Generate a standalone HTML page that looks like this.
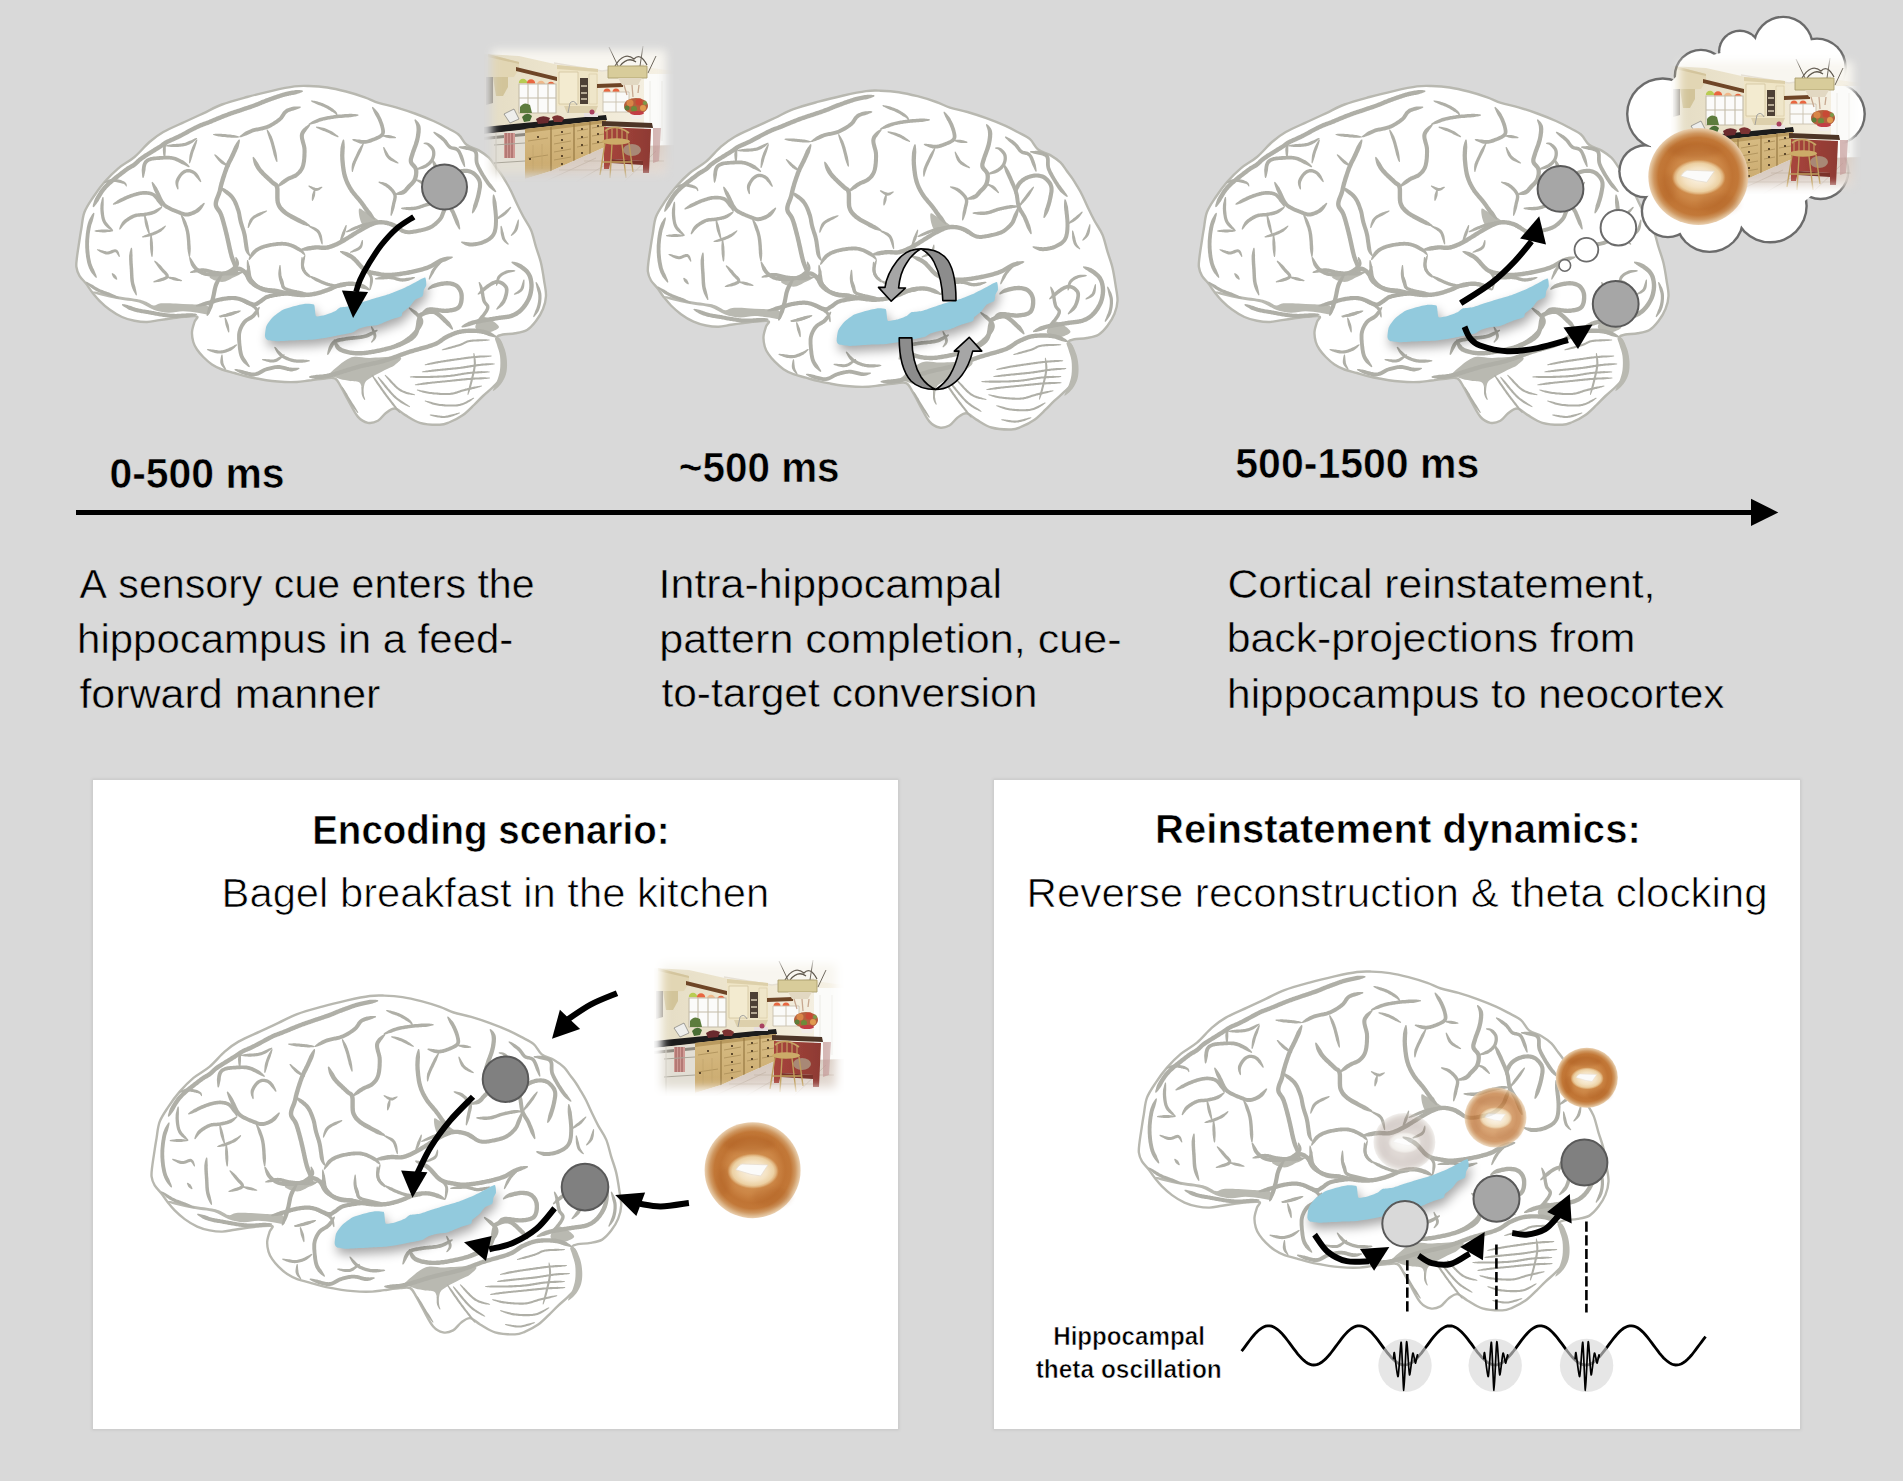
<!DOCTYPE html><html><head><meta charset="utf-8"><title>Hippocampal reinstatement</title><style>html,body{margin:0;padding:0;background:#d9d9d9;overflow:hidden}svg{display:block}</style></head><body><svg xmlns="http://www.w3.org/2000/svg" width="1903" height="1481" viewBox="0 0 1903 1481"><defs><filter id="sblur" x="-5%" y="-5%" width="110%" height="110%"><feGaussianBlur stdDeviation="0.75"/></filter><filter id="shblur" x="-20%" y="-60%" width="140%" height="220%"><feGaussianBlur stdDeviation="5.5"/></filter><g id="brain"><path d="M77 257C77.5 252.5 78.8 244.8 79.5 240C80.2 235.2 80.6 233 81.4 228.3C82.2 223.6 82.5 217.2 84.5 212C86.5 206.8 90 202 93.3 197C96.6 192 100.3 186.8 104.5 182C108.7 177.2 113.3 172.5 118.3 168.3C123.3 164.1 129.3 161.4 134.5 157C139.7 152.6 144.7 146.2 149.5 142C154.3 137.8 157.5 135.3 163.3 132C169.1 128.7 177.8 125.1 184.5 122C191.2 118.9 197.1 116.2 203.3 113.3C209.6 110.4 214.7 107.2 222 104.5C229.3 101.8 238.7 99.3 247 97C255.3 94.7 264.1 92.6 272 90.8C279.9 89 288.3 87.2 294.5 86.4C300.7 85.6 303.5 85.8 309 86C314.5 86.2 321.1 86.6 327.3 87.5C333.5 88.4 339.8 89.9 346 91.5C352.2 93.1 359.4 95.4 364.8 97.3C370.2 99.2 373.3 101.2 378.5 102.9C383.7 104.6 389.9 105.5 396 107.3C402.1 109.1 408.6 111.2 414.8 113.5C421.1 115.8 428.3 118.7 433.5 121C438.7 123.3 441.8 125 446 127.3C450.2 129.6 455.1 131.6 458.5 134.5C461.9 137.4 463.2 142.2 466.6 144.8C470 147.5 475.1 148.2 478.8 150.4C482.5 152.6 486.2 155.1 488.9 157.7C491.6 160.3 493 163.1 495 165.8C497 168.5 499.2 171.2 501 173.9C502.8 176.6 504.3 179.2 506 182C507.7 184.8 509.2 187.3 511 191C512.8 194.7 515 199.8 517 204C519 208.2 520.7 211.7 523 216C525.3 220.3 528.8 224.8 531 230C533.2 235.2 534.3 241.5 536 247C537.7 252.5 539.7 257.5 541 263C542.3 268.5 543.2 274.5 544 280C544.8 285.5 546.2 291.2 546 296C545.8 300.8 544.7 304.8 543 309C541.3 313.2 538.7 317.5 536 321C533.3 324.5 530.5 327.9 527 330C523.5 332.1 519.3 332.6 515.3 333.3C511.3 334.1 505.9 333.9 502.8 334.5C499.8 335.1 497.5 335.9 497 337C496.5 338.1 498.7 338.5 499.7 341C500.7 343.5 502.3 348 503 352C503.7 356 504.3 360.7 504 365C503.7 369.3 502.8 374.3 501 378C499.2 381.7 496 384 493 387C490 390 486.2 393 483 396C479.8 399 477.3 401.8 474 405C470.7 408.2 467 412.2 463 415C459 417.8 453.9 420.4 450 422C446.1 423.6 444.8 424.7 439.8 424.8C434.8 424.9 425.7 424.5 419.9 422.8C414.1 421.1 409.1 417.3 404.9 414.9C400.7 412.5 398.1 408.8 394.9 408.5C391.7 408.2 388.7 410.9 385.9 413C383.1 415.1 380.9 419.2 377.9 420.8C374.9 422.4 371.2 423.5 367.9 422.8C364.6 422.1 361.3 420.7 358 416.9C354.7 413.1 350.8 404.9 348 399.9C345.2 394.9 343.2 390.5 341 386.9C338.8 383.3 337.7 379.9 335 378.5C332.3 377.1 329.3 378.2 325 378.5C320.7 378.8 313.7 379.9 309 380.5C304.3 381.1 301.1 381.8 297 382C292.9 382.2 288.7 382.2 284.5 382C280.3 381.8 276.2 381.5 272 381C267.8 380.5 263.7 379.8 259.5 379C255.3 378.2 251.2 377.5 247 376.5C242.8 375.5 238.7 374.2 234.5 373C230.3 371.8 225.8 370.9 222 369.5C218.2 368.1 215.1 366.6 212 364.5C208.9 362.4 205.8 359.5 203.3 357C200.8 354.5 198.7 352 197 349.5C195.3 347 194.1 344.9 193.3 342C192.5 339.1 191.8 335.3 192 332C192.2 328.7 193.7 324.6 194.5 322C195.3 319.4 198.7 317.4 197 316.5C195.3 315.6 188.7 316.5 184.5 316.8C180.3 317.1 176.2 317.8 172 318.3C167.8 318.9 163.7 319.5 159.5 320.1C155.3 320.7 151.2 321.9 147 322C142.8 322.1 138.7 321.6 134.5 320.8C130.3 320 126.2 318.9 122 317C117.8 315.1 113.2 312.2 109.5 309.5C105.8 306.8 102.4 303.7 99.5 300.8C96.6 297.9 94.3 294.9 92 292C89.7 289.1 87.9 286 85.8 283.3C83.7 280.6 81.1 278.5 79.5 275.8C77.9 273.1 76.8 270.1 76.4 267C76 263.9 76.5 261.5 77 257Z" fill="#ffffff"/><g filter="url(#sblur)"><path d="M77 257C77.5 252.5 78.8 244.8 79.5 240C80.2 235.2 80.6 233 81.4 228.3C82.2 223.6 82.5 217.2 84.5 212C86.5 206.8 90 202 93.3 197C96.6 192 100.3 186.8 104.5 182C108.7 177.2 113.3 172.5 118.3 168.3C123.3 164.1 129.3 161.4 134.5 157C139.7 152.6 144.7 146.2 149.5 142C154.3 137.8 157.5 135.3 163.3 132C169.1 128.7 177.8 125.1 184.5 122C191.2 118.9 197.1 116.2 203.3 113.3C209.6 110.4 214.7 107.2 222 104.5C229.3 101.8 238.7 99.3 247 97C255.3 94.7 264.1 92.6 272 90.8C279.9 89 288.3 87.2 294.5 86.4C300.7 85.6 303.5 85.8 309 86C314.5 86.2 321.1 86.6 327.3 87.5C333.5 88.4 339.8 89.9 346 91.5C352.2 93.1 359.4 95.4 364.8 97.3C370.2 99.2 373.3 101.2 378.5 102.9C383.7 104.6 389.9 105.5 396 107.3C402.1 109.1 408.6 111.2 414.8 113.5C421.1 115.8 428.3 118.7 433.5 121C438.7 123.3 441.8 125 446 127.3C450.2 129.6 455.1 131.6 458.5 134.5C461.9 137.4 463.2 142.2 466.6 144.8C470 147.5 475.1 148.2 478.8 150.4C482.5 152.6 486.2 155.1 488.9 157.7C491.6 160.3 493 163.1 495 165.8C497 168.5 499.2 171.2 501 173.9C502.8 176.6 504.3 179.2 506 182C507.7 184.8 509.2 187.3 511 191C512.8 194.7 515 199.8 517 204C519 208.2 520.7 211.7 523 216C525.3 220.3 528.8 224.8 531 230C533.2 235.2 534.3 241.5 536 247C537.7 252.5 539.7 257.5 541 263C542.3 268.5 543.2 274.5 544 280C544.8 285.5 546.2 291.2 546 296C545.8 300.8 544.7 304.8 543 309C541.3 313.2 538.7 317.5 536 321C533.3 324.5 530.5 327.9 527 330C523.5 332.1 519.3 332.6 515.3 333.3C511.3 334.1 505.9 333.9 502.8 334.5C499.8 335.1 497.5 335.9 497 337C496.5 338.1 498.7 338.5 499.7 341C500.7 343.5 502.3 348 503 352C503.7 356 504.3 360.7 504 365C503.7 369.3 502.8 374.3 501 378C499.2 381.7 496 384 493 387C490 390 486.2 393 483 396C479.8 399 477.3 401.8 474 405C470.7 408.2 467 412.2 463 415C459 417.8 453.9 420.4 450 422C446.1 423.6 444.8 424.7 439.8 424.8C434.8 424.9 425.7 424.5 419.9 422.8C414.1 421.1 409.1 417.3 404.9 414.9C400.7 412.5 398.1 408.8 394.9 408.5C391.7 408.2 388.7 410.9 385.9 413C383.1 415.1 380.9 419.2 377.9 420.8C374.9 422.4 371.2 423.5 367.9 422.8C364.6 422.1 361.3 420.7 358 416.9C354.7 413.1 350.8 404.9 348 399.9C345.2 394.9 343.2 390.5 341 386.9C338.8 383.3 337.7 379.9 335 378.5C332.3 377.1 329.3 378.2 325 378.5C320.7 378.8 313.7 379.9 309 380.5C304.3 381.1 301.1 381.8 297 382C292.9 382.2 288.7 382.2 284.5 382C280.3 381.8 276.2 381.5 272 381C267.8 380.5 263.7 379.8 259.5 379C255.3 378.2 251.2 377.5 247 376.5C242.8 375.5 238.7 374.2 234.5 373C230.3 371.8 225.8 370.9 222 369.5C218.2 368.1 215.1 366.6 212 364.5C208.9 362.4 205.8 359.5 203.3 357C200.8 354.5 198.7 352 197 349.5C195.3 347 194.1 344.9 193.3 342C192.5 339.1 191.8 335.3 192 332C192.2 328.7 193.7 324.6 194.5 322C195.3 319.4 198.7 317.4 197 316.5C195.3 315.6 188.7 316.5 184.5 316.8C180.3 317.1 176.2 317.8 172 318.3C167.8 318.9 163.7 319.5 159.5 320.1C155.3 320.7 151.2 321.9 147 322C142.8 322.1 138.7 321.6 134.5 320.8C130.3 320 126.2 318.9 122 317C117.8 315.1 113.2 312.2 109.5 309.5C105.8 306.8 102.4 303.7 99.5 300.8C96.6 297.9 94.3 294.9 92 292C89.7 289.1 87.9 286 85.8 283.3C83.7 280.6 81.1 278.5 79.5 275.8C77.9 273.1 76.8 270.1 76.4 267C76 263.9 76.5 261.5 77 257Z" fill="none" stroke="#b8b8b0" stroke-width="2.4" stroke-linejoin="round"/><path d="M94.7 291.5C98.4 291.9 109.4 294.7 116.8 296C124.2 297.3 134 298.4 138.9 299.4C143.8 300.4 143.8 300.8 146.2 301.8C148.6 302.8 151.1 305.2 153.6 305.5C156.1 305.8 157.2 303.6 160.9 303.3C164.6 303 170.8 303.3 175.7 303.5C180.6 303.7 185.5 304.1 190.4 304.3C195.3 304.6 201.9 304.4 205 305C208.1 305.6 208.4 306.5 209 308C209.6 309.5 210.7 313.4 208.8 314.2C206.9 315 202 313.2 197.7 312.7C193.4 312.2 187.9 311.2 183 311.2C178.1 311.2 173.2 312.9 168.3 312.7C163.4 312.4 158.5 311.4 153.6 309.7C148.7 308 143.8 304.1 138.9 302.5C134 300.9 129.1 301 124.2 300.2C119.3 299.4 114.3 298.6 109.4 297.5C104.5 296.4 97.2 294.5 94.7 293.5C92.2 292.5 91 291.1 94.7 291.5Z" fill="#b9b9b1"/><path d="M359 209C359.7 207.7 361.8 209.8 364 211C366.2 212.2 369.3 214.2 372 216C374.7 217.8 380 220.6 380 222C380 223.4 374.7 223.8 372 224.5C369.3 225.2 366 226.9 364 226C362 225.1 360.8 221.8 360 219C359.2 216.2 358.3 210.3 359 209Z" fill="#b9b9b1"/><path d="M330 372.9C333.3 370.1 343.4 360.4 350 357.9C356.6 355.4 361.6 358.1 369.9 357.9C378.2 357.7 395.7 355.7 399.9 356.9C404.1 358.1 397.4 362.7 394.9 364.9C392.4 367.1 388.7 367.9 384.9 369.9C381.1 371.9 375.2 374.7 371.9 376.9C368.6 379.1 366.4 379.9 364.9 382.9C363.4 385.9 363.7 394.9 362.9 394.9C362.1 394.9 362.1 385.2 360 382.9C357.9 380.6 353.3 381.6 350 380.9C346.7 380.2 343.3 379.9 340 378.9C336.7 377.9 331.7 375.9 330 374.9C328.3 373.9 326.7 375.7 330 372.9Z" fill="#b9b9b1"/><path d="M495 338C495.5 337 498.3 337 500 339C501.7 341 503.8 346.2 505 350C506.2 353.8 506.8 358 507 362C507.2 366 507 370.3 506 374C505 377.7 503.2 381.2 501 384C498.8 386.8 493.7 391.5 493 391C492.3 390.5 495.8 384.5 497 381C498.2 377.5 499.5 374.2 500 370C500.5 365.8 500.5 360.2 500 356C499.5 351.8 497.8 348 497 345C496.2 342 494.5 339 495 338Z" fill="#b9b9b1"/><path d="M475.3 327C475.3 324.5 479 318.2 481.5 317C484 315.8 487.4 317.8 490.3 319.5C493.2 321.2 499 324.9 499 327C499 329.1 493.2 331.2 490.3 332C487.4 332.8 484 332.8 481.5 332C479 331.2 475.3 329.5 475.3 327Z" fill="#b9b9b1"/><path d="M209.5 277C209.5 275.3 217.8 273 222 272C226.2 271 231.4 270.6 234.5 270.8C237.6 271 240.8 272.3 240.8 273.3C240.8 274.3 237.6 275.6 234.5 277C231.4 278.4 226.2 282 222 282C217.8 282 209.5 278.7 209.5 277Z" fill="#b9b9b1"/><g fill="#afafa7"><path d="M93.7 212.7 L93.2 213.1 L92.7 213.7 L92.2 214.3 L91.7 215.1 L91.2 216 L90.6 216.9 L90 217.9 L89.5 218.9 L89 220.1 L88.5 221.3 L88.1 222.5 L87.7 223.7 L87.4 225 L87.1 226.2 L86.9 227.1 L86.7 228.1 L86.6 229.1 L86.4 230.1 L86.2 231.1 L86.1 232.2 L85.9 233.3 L85.8 234.3 L85.7 235.4 L85.6 236.5 L85.5 237.6 L85.4 238.7 L85.3 239.9 L85.2 241 L85.2 242.1 L85.2 243.2 L85.2 244.3 L85.2 245.3 L85.2 246.4 L85.2 247.5 L85.3 248.6 L85.4 249.7 L85.4 250.8 L85.5 251.9 L85.6 253 L85.8 254.1 L85.9 255.3 L86 256.4 L86.2 257.5 L86.4 258.5 L86.6 259.6 L86.8 260.7 L87 261.7 L87.2 262.7 L87.5 263.7 L87.8 264.7 L88.1 265.8 L88.6 267 L89 268.2 L89.6 269.3 L90.1 270.4 L90.7 271.5 L91.3 272.5 L92 273.4 L92.7 274.3 L93.4 275.1 L94 275.9 L94.6 276.6 L95.1 277.1 L95.6 277.6 L96.2 278 L96.8 277.6 L96.8 277 L96.6 276.3 L96.4 275.5 L96.1 274.6 L95.7 273.7 L95.3 272.8 L94.9 271.8 L94.5 270.7 L94.1 269.7 L93.6 268.7 L93 267.7 L92.6 266.6 L92.1 265.6 L91.8 264.6 L91.4 263.5 L91.2 262.7 L91 261.8 L90.8 260.8 L90.6 259.9 L90.4 258.9 L90.2 257.9 L90 256.9 L89.9 255.8 L89.7 254.8 L89.6 253.7 L89.5 252.6 L89.4 251.6 L89.3 250.5 L89.2 249.4 L89.1 248.4 L89.1 247.3 L89.1 246.3 L89 245.3 L89 244.3 L89 243.2 L89.1 242.2 L89.1 241.1 L89.1 240.1 L89.2 239 L89.3 238 L89.4 236.9 L89.5 235.8 L89.6 234.8 L89.7 233.8 L89.9 232.7 L90 231.7 L90.2 230.7 L90.4 229.8 L90.5 228.8 L90.7 227.9 L90.9 227 L91.1 225.9 L91.4 224.8 L91.8 223.7 L92.2 222.5 L92.6 221.4 L92.9 220.3 L93.2 219.2 L93.5 218.1 L93.7 217.1 L94 216.1 L94.2 215.2 L94.3 214.3 L94.4 213.6 L94.3 212.9Z"/><path d="M104.1 183.1 L104.8 183.2 L105.6 183 L106.5 182.8 L107.5 182.6 L108.6 182.3 L109.7 182.1 L110.8 181.9 L111.8 181.9 L112.8 181.8 L113.7 181.8 L114.6 181.9 L115.7 182.1 L116.8 182.3 L117.9 182.5 L119 182.8 L120.1 183 L121.1 183.3 L122 183.5 L122.8 183.7 L123.4 183.8 L124.6 184.4 L125.2 185.1 L125.7 186 L126.2 186.6 L126.8 186.4 L126.8 185.6 L126.7 184.5 L126 183 L124.6 181.8 L123.8 181.3 L122.9 180.9 L121.9 180.5 L120.9 180.1 L119.7 179.8 L118.5 179.6 L117.3 179.3 L116.2 179.1 L115 178.9 L113.9 178.8 L112.8 178.8 L111.5 178.9 L110.2 179.2 L109 179.6 L107.9 180.1 L106.8 180.6 L105.9 181.1 L105 181.6 L104.4 182 L103.9 182.5Z"/><path d="M93.3 207.2 L93.9 206.9 L94.4 206.4 L94.9 205.9 L95.4 205.3 L96 204.6 L96.5 203.9 L97.1 203.1 L97.7 202.3 L98.3 201.5 L98.9 200.6 L99.4 199.6 L100 198.6 L100.5 197.7 L101.1 196.7 L101.7 195.7 L102.3 194.7 L102.9 193.8 L103.5 192.8 L104.2 191.9 L104.8 191.1 L105.5 190.2 L106.2 189.4 L106.7 188.8 L107.4 188.1 L108 187.4 L108.7 186.7 L109.5 186 L110.2 185.3 L111 184.6 L111.8 183.9 L112.6 183.2 L113.4 182.5 L114.3 181.8 L115.1 181.1 L116 180.4 L116.8 179.7 L117.7 179.1 L118.5 178.4 L119.3 177.8 L120.2 177.1 L121 176.5 L121.7 175.9 L122.5 175.3 L123.2 174.8 L123.9 174.2 L124.6 173.7 L125.3 173.2 L125.8 172.7 L127.1 171.8 L128.2 171 L129.2 170.3 L130.1 169.7 L131 169.2 L131.8 168.8 L132.6 168.3 L133.3 167.9 L134.1 167.4 L135 166.9 L135.8 166.3 L136.8 165.5 L137.6 164.8 L138.4 164.1 L139 163.4 L139.7 162.8 L140.3 162.1 L141.1 161.4 L142.1 160.7 L143.3 159.8 L143.9 159.4 L144.6 158.9 L145.4 158.4 L146.2 157.8 L147.1 157.3 L148 156.7 L148.9 156.1 L149.9 155.5 L150.9 154.9 L151.9 154.3 L152.9 153.7 L153.9 153.1 L154.9 152.5 L155.8 151.9 L156.7 151.3 L157.6 150.8 L158.5 150.2 L159.3 149.7 L160 149.3 L160.7 148.8 L162 148 L163 147.3 L163.9 146.7 L164.6 146.1 L165.3 145.7 L165.9 145.3 L166.5 144.9 L167.2 144.4 L168 143.9 L168.8 143.6 L169.5 143.2 L170.2 142.9 L171 142.5 L171.8 142.2 L172.6 141.8 L173.5 141.5 L174.5 141.1 L175.5 140.6 L176.6 140.1 L177.7 139.6 L179 139 L179.7 138.6 L180.5 138.2 L181.4 137.7 L182.2 137.3 L183.1 136.8 L184.1 136.3 L185 135.8 L186 135.3 L187 134.7 L188 134.2 L188.9 133.7 L189.9 133.1 L190.9 132.6 L191.9 132.1 L192.8 131.6 L193.8 131.1 L194.7 130.6 L195.6 130.2 L196.4 129.7 L197.2 129.3 L197.9 129 L199.1 128.5 L200.1 128 L201.1 127.6 L202 127.2 L202.8 126.9 L203.6 126.6 L204.5 126.3 L205.3 125.9 L206.2 125.6 L207.1 125.3 L208.1 124.9 L209.2 124.5 L210.3 124 L211.2 123.7 L212 123.4 L212.9 123 L213.7 122.6 L214.6 122.3 L215.5 121.9 L216.4 121.5 L217.4 121.1 L218.3 120.7 L219.3 120.3 L220.3 119.9 L221.3 119.5 L222.3 119.1 L223.3 118.7 L224.4 118.2 L225.4 117.8 L226.5 117.4 L227.6 117 L228.8 116.6 L229.6 116.3 L230.5 115.9 L231.4 115.6 L232.3 115.3 L233.3 115 L234.3 114.6 L235.3 114.3 L236.3 113.9 L237.4 113.6 L238.4 113.2 L239.5 112.9 L240.5 112.5 L241.6 112.2 L242.6 111.8 L243.7 111.5 L244.7 111.1 L245.7 110.8 L246.7 110.5 L247.7 110.1 L248.7 109.8 L249.6 109.5 L250.5 109.2 L251.4 108.9 L252.2 108.6 L253 108.3 L253.8 108.1 L255.1 107.6 L256.3 107.1 L257.4 106.7 L258.4 106.3 L259.3 105.9 L260.1 105.6 L260.9 105.2 L261.7 104.9 L262.4 104.6 L263.3 104.2 L264.1 103.9 L265.1 103.5 L266.3 103.1 L267.1 102.8 L267.9 102.5 L268.8 102.1 L269.7 101.8 L270.6 101.5 L271.5 101.1 L272.4 100.8 L273.4 100.4 L274.4 100.1 L275.4 99.7 L276.3 99.4 L277.3 99 L278.3 98.7 L279.3 98.4 L280.3 98 L281.3 97.7 L282.3 97.4 L283.2 97.1 L284.1 96.9 L285.1 96.6 L286.1 96.4 L287.2 96.1 L288.3 95.9 L289.4 95.6 L290.6 95.4 L291.8 95.1 L293 94.9 L294.2 94.7 L295.3 94.5 L296.4 94.2 L297.5 93.8 L298.5 93.5 L299.5 93.2 L300.4 92.8 L301.2 92.5 L301.9 92.2 L302.6 91.8 L303.1 91.3 L302.9 90.7 L302.3 90.4 L301.6 90.3 L300.8 90.2 L299.9 90.1 L299 90.1 L297.9 90.1 L296.9 90.1 L295.7 90.1 L294.6 90.2 L293.4 90.4 L292.2 90.6 L291 90.8 L289.8 91.1 L288.6 91.3 L287.4 91.6 L286.2 91.8 L285 92.1 L283.9 92.4 L283 92.6 L282 92.9 L281 93.2 L280 93.5 L279 93.9 L277.9 94.2 L276.9 94.5 L275.9 94.9 L274.9 95.2 L273.9 95.6 L272.9 95.9 L271.9 96.3 L270.9 96.7 L270 97 L269 97.3 L268.1 97.7 L267.2 98 L266.4 98.3 L265.5 98.6 L264.7 98.9 L263.6 99.4 L262.5 99.8 L261.6 100.1 L260.7 100.5 L259.9 100.9 L259.1 101.2 L258.4 101.5 L257.6 101.9 L256.7 102.2 L255.8 102.6 L254.8 103 L253.6 103.4 L252.2 103.9 L251.5 104.2 L250.7 104.5 L249.9 104.7 L249.1 105 L248.2 105.3 L247.2 105.7 L246.3 106 L245.3 106.3 L244.3 106.6 L243.3 107 L242.3 107.3 L241.2 107.7 L240.2 108 L239.1 108.4 L238.1 108.7 L237 109.1 L236 109.4 L234.9 109.8 L233.9 110.1 L232.9 110.5 L231.9 110.8 L230.9 111.1 L229.9 111.5 L229 111.8 L228.1 112.1 L227.2 112.4 L226.1 112.9 L225 113.3 L223.9 113.7 L222.8 114.1 L221.7 114.6 L220.6 115 L219.6 115.4 L218.6 115.8 L217.6 116.2 L216.6 116.6 L215.7 117 L214.7 117.4 L213.8 117.8 L212.9 118.2 L212 118.6 L211.2 118.9 L210.3 119.3 L209.5 119.6 L208.7 120 L207.6 120.4 L206.5 120.8 L205.6 121.2 L204.7 121.5 L203.8 121.8 L202.9 122.1 L202.1 122.4 L201.2 122.8 L200.3 123.1 L199.3 123.5 L198.3 124 L197.2 124.5 L196.1 125 L195.3 125.4 L194.4 125.8 L193.6 126.2 L192.7 126.7 L191.7 127.2 L190.8 127.7 L189.8 128.2 L188.8 128.7 L187.8 129.3 L186.9 129.8 L185.9 130.3 L184.9 130.9 L183.9 131.4 L182.9 131.9 L182 132.4 L181.1 132.9 L180.2 133.4 L179.3 133.8 L178.5 134.3 L177.7 134.7 L177 135 L175.8 135.6 L174.7 136.1 L173.7 136.6 L172.7 137 L171.8 137.4 L170.9 137.8 L170.1 138.1 L169.2 138.5 L168.4 138.9 L167.6 139.2 L166.8 139.6 L166 140.1 L165 140.6 L164.1 141.1 L163.4 141.6 L162.7 142.1 L162 142.6 L161.3 143.1 L160.5 143.7 L159.5 144.4 L158.3 145.2 L157.7 145.6 L156.9 146 L156.2 146.5 L155.3 147 L154.4 147.6 L153.5 148.1 L152.6 148.7 L151.6 149.3 L150.6 149.9 L149.6 150.5 L148.6 151.2 L147.6 151.8 L146.6 152.4 L145.7 153 L144.7 153.6 L143.8 154.1 L143 154.7 L142.2 155.2 L141.4 155.7 L140.7 156.2 L139.4 157.2 L138.3 158.1 L137.4 158.9 L136.6 159.6 L135.9 160.3 L135.3 160.9 L134.7 161.5 L134 162.1 L133.2 162.7 L132.5 163.2 L131.8 163.7 L131.1 164.1 L130.4 164.5 L129.6 165 L128.8 165.4 L127.8 166 L126.8 166.6 L125.7 167.4 L124.5 168.2 L123.2 169.3 L122.6 169.7 L121.9 170.2 L121.3 170.7 L120.5 171.3 L119.8 171.8 L119.1 172.4 L118.3 173 L117.5 173.7 L116.6 174.3 L115.8 175 L114.9 175.6 L114.1 176.3 L113.2 177 L112.3 177.7 L111.5 178.4 L110.6 179.2 L109.8 179.9 L108.9 180.6 L108.1 181.4 L107.3 182.1 L106.5 182.8 L105.7 183.6 L104.9 184.3 L104.2 185.1 L103.5 185.8 L102.8 186.6 L102.1 187.4 L101.3 188.4 L100.6 189.3 L99.9 190.3 L99.2 191.3 L98.6 192.4 L97.9 193.4 L97.3 194.4 L96.7 195.5 L96.1 196.5 L95.6 197.5 L95 198.5 L94.6 199.5 L94.2 200.5 L93.9 201.5 L93.6 202.4 L93.4 203.3 L93.1 204.1 L92.9 204.8 L92.8 205.5 L92.7 206.2 L92.7 206.8Z"/><path d="M113.2 204.8 L113.8 204.8 L114.6 204.6 L115.4 204.4 L116.3 204.1 L117.2 203.8 L118.3 203.4 L119.3 203 L120.4 202.6 L121.5 202.1 L122.6 201.5 L123.7 201 L124.8 200.5 L125.8 200 L126.8 199.5 L127.8 199.1 L128.7 198.7 L129.7 198.3 L130.7 197.9 L131.7 197.5 L132.8 197.2 L133.8 196.8 L134.8 196.5 L135.8 196.2 L136.8 195.9 L137.7 195.7 L138.7 195.4 L139.6 195.2 L140.5 195.1 L141.3 194.9 L142.2 194.8 L143.2 194.7 L144.3 194.7 L145.3 194.7 L146.3 194.7 L147.3 194.8 L148.2 194.9 L149.1 195.1 L149.9 195.3 L150.7 195.5 L151.5 195.8 L152.1 196.1 L152.9 196.6 L153.6 197.2 L154.3 197.9 L155 198.7 L155.7 199.6 L156.3 200.5 L156.9 201.4 L157.6 202.2 L158.2 202.9 L159.1 203.9 L159.9 204.9 L160.5 205.8 L161.1 206.6 L161.7 207.1 L162.3 206.9 L162.4 206.1 L162.2 205.1 L161.9 203.9 L161.5 202.6 L160.8 201.1 L160.4 200.3 L159.9 199.4 L159.3 198.4 L158.6 197.4 L157.8 196.4 L157 195.4 L156.1 194.5 L155 193.6 L153.9 192.9 L152.9 192.4 L151.9 192.1 L150.9 191.7 L149.8 191.5 L148.8 191.3 L147.6 191.2 L146.5 191.1 L145.4 191 L144.2 191 L143 191.1 L141.8 191.2 L140.8 191.3 L139.9 191.4 L138.9 191.6 L137.8 191.9 L136.8 192.1 L135.8 192.4 L134.7 192.7 L133.7 193 L132.6 193.4 L131.6 193.7 L130.5 194.1 L129.4 194.5 L128.4 194.9 L127.3 195.3 L126.3 195.7 L125.3 196.2 L124.3 196.6 L123.2 197.2 L122.1 197.7 L121 198.3 L119.9 198.8 L118.8 199.4 L117.8 200.1 L116.9 200.8 L116 201.4 L115.2 202 L114.4 202.6 L113.8 203.1 L113.2 203.6 L112.8 204.2Z"/><path d="M102.7 197 L102.3 197.5 L102.1 198.3 L101.8 199.1 L101.5 200.1 L101.3 201.2 L101 202.3 L100.7 203.5 L100.5 204.7 L100.4 206 L100.4 207.2 L100.3 208.4 L100.4 209.6 L100.4 210.7 L100.5 211.8 L100.6 212.9 L100.7 214 L100.9 215.1 L101.1 216.3 L101.3 217.4 L101.5 218.5 L101.8 219.6 L102.2 220.7 L102.6 221.7 L103.1 222.8 L103.7 223.8 L104.4 224.8 L105.2 225.7 L106 226.6 L107 227.4 L108 228.2 L108.9 228.9 L109.9 229.5 L110.7 230 L111.5 230.5 L112.2 230.8 L112.8 231.1 L113.2 230.5 L113 229.9 L112.5 229.3 L111.9 228.6 L111.3 227.8 L110.6 227 L109.8 226.2 L109.1 225.3 L108.4 224.4 L107.6 223.6 L107 222.8 L106.4 222 L105.9 221.2 L105.6 220.4 L105.2 219.6 L104.9 218.7 L104.7 217.7 L104.4 216.7 L104.3 215.7 L104.1 214.7 L104 213.6 L103.9 212.6 L103.8 211.5 L103.7 210.4 L103.6 209.4 L103.6 208.4 L103.6 207.3 L103.6 206.2 L103.7 205 L103.7 203.8 L103.7 202.6 L103.7 201.5 L103.7 200.4 L103.7 199.4 L103.6 198.5 L103.6 197.7 L103.3 197Z"/><path d="M94.5 231.3 L95.1 231.6 L95.9 231.7 L96.7 231.9 L97.7 232 L98.8 232.1 L100 232.2 L101.2 232.3 L102.5 232.4 L103.8 232.4 L105 232.4 L106.3 232.3 L107.5 232.1 L108.7 232 L109.8 231.9 L110.8 231.7 L111.7 231.6 L112.4 231.4 L113 231.1 L113 230.5 L112.4 230.2 L111.6 230.1 L110.8 229.9 L109.8 229.8 L108.7 229.7 L107.5 229.6 L106.3 229.5 L105 229.4 L103.7 229.4 L102.5 229.4 L101.2 229.5 L100 229.7 L98.8 229.8 L97.7 229.9 L96.7 230.1 L95.8 230.2 L95.1 230.4 L94.5 230.7Z"/><path d="M143.3 178 L143.7 177.4 L144 176.6 L144.3 175.7 L144.5 174.6 L144.8 173.5 L145 172.3 L145.3 171.1 L145.5 169.9 L145.6 168.7 L145.7 167.6 L145.9 166.6 L146.1 165.8 L146.3 165.1 L146.7 164.1 L147.1 163.4 L147.5 162.9 L148 162.4 L148.6 162 L149.3 161.6 L150.2 161.2 L150.9 161 L151.6 160.8 L152.4 160.6 L153.3 160.4 L154.3 160.3 L155.3 160.2 L156.3 160.1 L157.4 160 L158.5 159.9 L159.6 159.9 L160.6 159.8 L161.6 159.7 L162.6 159.7 L163.7 159.6 L164.7 159.6 L165.8 159.5 L166.8 159.5 L167.9 159.5 L168.9 159.6 L169.9 159.6 L170.8 159.7 L171.7 159.8 L172.7 160.1 L173.7 160.3 L174.6 160.6 L175.6 161 L176.6 161.4 L177.5 161.8 L178.4 162.3 L179.3 162.7 L180.3 163.2 L181.1 163.7 L182.1 164.2 L183.1 164.6 L184.1 165.1 L185.1 165.6 L186.1 166.1 L187 166.5 L187.9 166.9 L188.6 167.2 L189.3 167.3 L189.7 166.7 L189.4 166.1 L188.9 165.5 L188.3 164.8 L187.5 164 L186.7 163.3 L185.8 162.5 L184.9 161.7 L183.9 160.9 L182.9 160.3 L182 159.9 L181.1 159.4 L180.1 158.9 L179.1 158.4 L178.1 158 L177 157.5 L175.9 157.1 L174.7 156.7 L173.6 156.4 L172.3 156.2 L171.3 156 L170.2 155.9 L169.1 155.8 L168 155.8 L166.8 155.8 L165.7 155.8 L164.6 155.8 L163.5 155.9 L162.4 155.9 L161.3 156 L160.3 156.1 L159.4 156.1 L158.3 156.2 L157.1 156.3 L156 156.4 L154.9 156.5 L153.8 156.6 L152.7 156.7 L151.7 156.9 L150.7 157.1 L149.7 157.4 L148.8 157.8 L147.7 158.3 L146.6 158.8 L145.7 159.5 L144.8 160.3 L144 161.3 L143.3 162.5 L142.7 163.9 L142.4 164.8 L142.2 165.9 L142 167 L141.9 168.2 L141.7 169.5 L141.7 170.8 L141.8 172.1 L141.9 173.3 L142 174.5 L142.1 175.6 L142.2 176.5 L142.4 177.3 L142.7 178Z"/><path d="M164.8 158.5 L165.1 157.8 L165.2 157 L165.4 156 L165.5 154.9 L165.6 153.7 L165.7 152.4 L165.8 151.2 L165.8 150 L165.8 148.9 L165.8 148 L165.8 147.3 L166 145.9 L166.3 144.8 L166.7 143.8 L167.1 142.9 L167.3 142.2 L166.7 141.8 L166.1 142.2 L165.4 142.9 L164.6 143.8 L163.8 145.1 L163.2 146.7 L163 147.7 L162.9 148.8 L162.8 150 L162.9 151.2 L163 152.5 L163.1 153.7 L163.3 154.9 L163.5 156 L163.7 157 L163.9 157.9 L164.2 158.5Z"/><path d="M151.7 182.2 L151.6 182.8 L151.8 183.6 L152 184.5 L152.3 185.5 L152.6 186.5 L153 187.6 L153.4 188.7 L153.8 189.9 L154.3 190.9 L154.8 191.9 L155.2 192.9 L155.7 193.8 L156.1 194.7 L156.6 195.7 L157 196.7 L157.5 197.7 L157.9 198.6 L158.4 199.6 L158.9 200.5 L159.4 201.4 L159.9 202.3 L160.4 203.1 L161 204.1 L161.7 205 L162.4 205.8 L163.1 206.6 L163.9 207.3 L164.9 208 L165.9 208.7 L166.7 209.1 L167.6 209.6 L168.5 210.1 L169.4 210.5 L170.4 211 L171.5 211.5 L172.5 211.9 L173.5 212.3 L174.5 212.8 L175.5 213.1 L176.4 213.5 L177.3 213.8 L178.4 214.3 L179.4 214.7 L180.4 215.1 L181.4 215.5 L182.5 215.8 L183.5 216.1 L184.7 216.4 L185.9 216.5 L187.1 216.5 L188.2 216.4 L189.4 216.2 L190.5 215.9 L191.7 215.5 L192.8 215.1 L193.9 214.7 L195 214.2 L196.1 213.6 L197.1 213.1 L198.1 212.4 L199.1 211.7 L200.1 210.8 L201 209.8 L201.8 208.8 L202.5 207.7 L203.2 206.6 L203.8 205.6 L204.2 204.7 L204.6 203.9 L204.8 203.2 L204.2 202.8 L203.5 203 L202.8 203.5 L202 204.2 L201.1 204.9 L200.2 205.6 L199.3 206.4 L198.3 207.2 L197.4 207.9 L196.7 208.6 L195.9 209.2 L195.1 209.7 L194.2 210.2 L193.3 210.6 L192.4 211.1 L191.4 211.4 L190.4 211.8 L189.5 212.1 L188.6 212.3 L187.7 212.4 L186.9 212.5 L186.1 212.5 L185.3 212.5 L184.5 212.3 L183.6 212.1 L182.8 211.8 L181.8 211.4 L180.9 211 L179.8 210.6 L178.7 210.2 L177.8 209.8 L176.9 209.5 L176 209.1 L175 208.7 L174 208.3 L173 207.9 L172.1 207.4 L171.1 207 L170.3 206.5 L169.4 206.1 L168.7 205.7 L168.1 205.3 L167.1 204.7 L166.4 204.2 L165.8 203.7 L165.3 203.2 L164.8 202.6 L164.3 201.8 L163.6 200.9 L163.2 200.3 L162.8 199.5 L162.4 198.7 L162 197.9 L161.5 196.9 L161.1 196 L160.6 195 L160.2 194 L159.7 193 L159.2 192.1 L158.8 191.1 L158.3 190.2 L157.8 189.2 L157.2 188.1 L156.6 187.1 L155.9 186.2 L155.3 185.2 L154.6 184.3 L154 183.5 L153.4 182.8 L152.9 182.2 L152.3 181.8Z"/><path d="M178.3 189.4 L178.5 188.7 L178.5 187.7 L178.4 186.6 L178.3 185.4 L178.3 184.2 L178.4 183.2 L178.6 182.3 L178.8 181.5 L179.2 180.7 L179.6 179.7 L180 178.8 L180.6 177.9 L181.1 177.1 L181.7 176.3 L182.2 175.6 L182.9 174.9 L183.6 174.3 L184.3 173.7 L185.1 173.2 L185.8 172.9 L186.5 172.6 L187.2 172.5 L188 172.4 L188.9 172.5 L189.8 172.6 L190.8 172.9 L191.7 173.2 L192.6 173.7 L193.5 174.3 L194 174.8 L194.6 175.4 L195.2 176.2 L195.9 177.1 L196.7 177.9 L197.5 178.8 L198.2 179.7 L198.9 180.5 L199.5 181.3 L200.1 181.8 L200.7 182.2 L201.3 181.8 L201.2 181.1 L200.9 180.4 L200.6 179.5 L200.1 178.5 L199.6 177.4 L199.1 176.3 L198.5 175.2 L197.8 174.2 L197.1 173.3 L196.3 172.4 L195.5 171.7 L194.3 170.9 L193.1 170.2 L191.8 169.7 L190.5 169.3 L189.2 169.1 L188 169.1 L186.8 169.1 L185.6 169.4 L184.5 169.8 L183.4 170.3 L182.4 171 L181.4 171.7 L180.6 172.5 L179.8 173.4 L179.1 174.2 L178.4 175.2 L177.7 176.2 L177.1 177.2 L176.5 178.3 L176 179.4 L175.6 180.5 L175.4 181.7 L175.4 183.1 L175.6 184.5 L175.9 185.8 L176.4 187 L176.8 188.1 L177.2 189 L177.7 189.6Z"/><path d="M239.2 139.4 L238.6 139.7 L238.1 140.3 L237.6 141 L237.1 141.7 L236.5 142.5 L235.9 143.4 L235.3 144.4 L234.7 145.4 L234.1 146.4 L233.7 147.5 L233.2 148.6 L232.7 149.7 L232.3 150.7 L231.8 151.8 L231.4 152.7 L231 153.6 L230.5 154.6 L230.1 155.6 L229.6 156.5 L229.1 157.5 L228.7 158.4 L228.2 159.3 L227.7 160.2 L227.2 161.1 L226.8 162.1 L226.3 163.1 L225.9 164.1 L225.4 165.1 L225 166.2 L224.6 167.1 L224.2 168.1 L223.8 169.2 L223.5 170.2 L223.1 171.3 L222.7 172.4 L222.4 173.4 L222 174.5 L221.7 175.6 L221.3 176.6 L221 177.6 L220.7 178.6 L220.4 179.6 L220.2 180.5 L219.9 181.4 L219.5 182.6 L219.2 183.7 L219 184.8 L218.7 185.7 L218.5 186.7 L218.3 187.6 L218.1 188.5 L217.9 189.4 L217.7 190.4 L217.4 191.4 L217.1 192.2 L216.8 193.1 L216.5 194 L216.1 194.9 L215.7 195.9 L215.3 197 L214.9 198 L214.5 199.1 L214.2 200.2 L213.9 201.3 L213.7 202.4 L213.6 203.5 L213.6 204.7 L213.8 205.9 L214.1 207.1 L214.6 208.2 L215.2 209.2 L215.8 210.1 L216.4 210.9 L217 211.7 L217.5 212.5 L218 213.3 L218.5 214.3 L219 215.3 L219.2 216 L219.5 216.8 L219.8 217.6 L220 218.4 L220.3 219.3 L220.6 220.2 L220.8 221.1 L221.1 222.1 L221.4 223 L221.6 224 L221.9 225 L222.2 226 L222.5 227.1 L222.7 228.1 L223 229.2 L223.3 230.3 L223.6 231.4 L223.9 232.5 L224.1 233.4 L224.3 234.4 L224.5 235.3 L224.8 236.3 L225 237.4 L225.3 238.4 L225.5 239.5 L225.7 240.6 L226 241.7 L226.2 242.8 L226.5 243.9 L226.7 245 L226.9 246.1 L227.2 247.2 L227.4 248.2 L227.6 249.3 L227.9 250.3 L228.1 251.3 L228.3 252.2 L228.5 253.1 L228.8 254 L229 254.8 L229.2 255.6 L229.6 257.2 L230.1 258.6 L230.5 259.8 L230.9 260.9 L231.3 261.8 L231.7 262.7 L232 263.5 L232.3 264.2 L232.6 265 L232.9 265.7 L233.6 266.9 L234.2 268.1 L234.8 269.3 L235.4 270.3 L236 271.3 L236.5 272.1 L237.2 272.6 L237.8 272.4 L238 271.6 L238 270.7 L237.9 269.5 L237.8 268.3 L237.6 267 L237.3 265.6 L237.1 264.3 L236.7 263.4 L236.4 262.5 L236 261.7 L235.7 260.9 L235.4 260.1 L235 259.3 L234.6 258.3 L234.3 257.2 L233.8 255.9 L233.4 254.4 L233.2 253.7 L233 252.9 L232.8 252.1 L232.6 251.2 L232.4 250.3 L232.2 249.3 L231.9 248.3 L231.7 247.3 L231.5 246.2 L231.2 245.1 L231 244 L230.8 242.9 L230.5 241.8 L230.3 240.7 L230 239.6 L229.8 238.5 L229.5 237.5 L229.3 236.4 L229.1 235.3 L228.8 234.3 L228.6 233.3 L228.4 232.4 L228.1 231.5 L227.8 230.3 L227.6 229.2 L227.3 228.1 L227 227 L226.7 226 L226.4 224.9 L226.2 223.9 L225.9 222.9 L225.6 221.8 L225.3 220.9 L225.1 219.9 L224.8 218.9 L224.5 218 L224.2 217.1 L223.9 216.2 L223.6 215.4 L223.4 214.5 L223 213.7 L222.5 212.4 L221.9 211.2 L221.2 210.1 L220.5 209.1 L219.9 208.3 L219.4 207.5 L218.9 206.8 L218.5 206.2 L218.3 205.6 L218.1 205 L218 204.3 L218 203.7 L218.1 203 L218.2 202.2 L218.4 201.4 L218.7 200.4 L219 199.5 L219.4 198.5 L219.8 197.6 L220.2 196.6 L220.6 195.6 L221 194.6 L221.3 193.6 L221.6 192.6 L221.9 191.5 L222.2 190.4 L222.4 189.5 L222.6 188.5 L222.8 187.6 L223 186.7 L223.2 185.8 L223.5 184.8 L223.8 183.8 L224.1 182.6 L224.4 181.8 L224.6 180.9 L224.9 179.9 L225.2 178.9 L225.5 177.9 L225.9 176.9 L226.2 175.9 L226.5 174.8 L226.9 173.8 L227.2 172.7 L227.6 171.7 L228 170.7 L228.3 169.7 L228.7 168.7 L229 167.8 L229.5 166.8 L229.9 165.9 L230.3 164.9 L230.7 164 L231.2 163.1 L231.6 162.2 L232.1 161.3 L232.6 160.4 L233 159.4 L233.5 158.5 L234 157.5 L234.5 156.5 L235 155.4 L235.4 154.5 L235.8 153.5 L236.3 152.5 L236.8 151.5 L237.2 150.4 L237.7 149.3 L238.2 148.2 L238.6 147 L238.9 145.9 L239.1 144.8 L239.4 143.8 L239.6 142.8 L239.8 141.9 L239.9 141.1 L239.9 140.3 L239.8 139.6Z"/><path d="M219.3 187.3 L219.5 187.9 L220 188.5 L220.5 189.1 L221.2 189.8 L221.9 190.5 L222.6 191.2 L223.4 192 L224.2 192.8 L225.1 193.5 L226 194.2 L226.9 194.9 L227.7 195.6 L228.5 196.3 L229.2 197 L229.9 197.7 L230.4 198.3 L231 199.1 L231.6 199.9 L232.1 200.8 L232.6 201.6 L233.1 202.5 L233.5 203.4 L233.9 204.4 L234.3 205.3 L234.7 206.3 L235.1 207.3 L235.4 208.2 L235.7 209.2 L236.1 210.2 L236.4 211.1 L236.7 212.1 L236.9 213.1 L237.2 214.1 L237.4 215.1 L237.5 216.1 L237.7 217.2 L237.9 218.2 L238.1 219.3 L238.3 220.3 L238.6 221.4 L238.8 222.5 L239.1 223.5 L239.4 224.5 L239.7 225.4 L240 226.4 L240.3 227.3 L240.6 228.2 L240.9 229.2 L241.2 230.1 L241.5 231 L241.8 232 L242 232.9 L242.3 233.9 L242.5 234.9 L242.7 235.9 L242.9 236.8 L243.1 237.9 L243.2 239 L243.4 240.1 L243.5 241.2 L243.7 242.4 L243.9 243.5 L244 244.6 L244.2 245.7 L244.3 246.8 L244.5 247.8 L244.7 248.8 L244.9 249.7 L245.2 250.5 L246 252.2 L246.8 253.5 L247.7 254.6 L248.4 255.3 L249.1 255.9 L249.7 256.2 L250.3 255.8 L250.3 255.1 L250 254.3 L249.7 253.4 L249.3 252.3 L249 251.1 L248.8 249.5 L248.7 248.8 L248.6 248 L248.5 247.1 L248.3 246.2 L248.2 245.1 L248 244.1 L247.9 243 L247.7 241.8 L247.6 240.7 L247.4 239.5 L247.2 238.4 L247.1 237.2 L246.9 236.1 L246.7 235.1 L246.5 234.1 L246.2 233 L246 231.9 L245.7 230.9 L245.4 229.8 L245.1 228.9 L244.8 227.9 L244.4 227 L244.1 226 L243.8 225.1 L243.6 224.2 L243.3 223.3 L243 222.4 L242.8 221.5 L242.5 220.5 L242.3 219.5 L242.1 218.5 L241.9 217.5 L241.7 216.4 L241.5 215.4 L241.3 214.3 L241.1 213.2 L240.9 212.2 L240.6 211.1 L240.3 209.9 L239.9 208.8 L239.6 207.9 L239.2 206.9 L238.9 205.9 L238.5 204.9 L238.1 203.8 L237.7 202.8 L237.2 201.8 L236.7 200.7 L236.2 199.7 L235.6 198.7 L235 197.7 L234.3 196.7 L233.6 195.7 L232.9 194.9 L232.1 194.1 L231.2 193.3 L230.4 192.5 L229.4 191.8 L228.5 191 L227.5 190.3 L226.5 189.7 L225.5 189.1 L224.5 188.6 L223.5 188.1 L222.6 187.7 L221.8 187.3 L221 187 L220.4 186.8 L219.7 186.7Z"/><path d="M214.2 154.7 L214.5 155.4 L215 156.1 L215.5 156.9 L216.2 157.8 L216.9 158.8 L217.7 159.7 L218.5 160.7 L219.3 161.6 L220.2 162.4 L221 163.2 L222 163.9 L223 164.5 L224.1 165.1 L225.1 165.6 L226.1 166.1 L227.1 166.6 L227.9 166.9 L228.7 167.2 L229.3 167.3 L229.7 166.7 L229.3 166.2 L228.7 165.6 L228 165 L227.2 164.4 L226.4 163.7 L225.5 163 L224.6 162.2 L223.8 161.5 L223 160.8 L222.2 160.2 L221.4 159.5 L220.5 158.7 L219.6 157.9 L218.6 157.1 L217.7 156.3 L216.9 155.6 L216.1 155 L215.4 154.5 L214.8 154.3Z"/><path d="M180.7 214.7 L180.7 215.3 L180.9 216.1 L181.2 217 L181.5 218 L181.9 219 L182.2 220.2 L182.6 221.4 L182.9 222.6 L183.2 223.4 L183.5 224.3 L183.8 225.1 L184.1 226 L184.5 226.9 L184.8 227.8 L185.1 228.8 L185.3 229.8 L185.6 230.9 L185.9 232.1 L186.1 233.4 L186.3 234.7 L186.4 235.5 L186.5 236.4 L186.6 237.4 L186.7 238.4 L186.8 239.5 L186.9 240.6 L187 241.8 L187.1 243 L187.1 244.2 L187.2 245.4 L187.3 246.6 L187.3 247.8 L187.4 248.9 L187.6 250.1 L187.7 251.2 L187.9 252.2 L188.1 253.2 L188.3 254.1 L188.5 255 L188.6 255.7 L188.8 256.4 L189.2 256.9 L189.8 256.9 L190.1 256.3 L190.2 255.6 L190.3 254.9 L190.4 254 L190.5 253.1 L190.6 252.1 L190.7 251 L190.7 249.9 L190.8 248.8 L190.7 247.6 L190.7 246.4 L190.6 245.2 L190.5 244 L190.4 242.8 L190.4 241.6 L190.3 240.4 L190.2 239.2 L190.1 238.1 L190 237.1 L189.9 236.1 L189.8 235.1 L189.7 234.3 L189.4 232.8 L189.2 231.5 L188.9 230.2 L188.6 229 L188.3 227.9 L188 226.8 L187.7 225.8 L187.3 224.9 L187 224 L186.7 223.1 L186.4 222.3 L186.1 221.4 L185.5 220.2 L184.9 219 L184.2 217.9 L183.6 217 L182.9 216.1 L182.4 215.4 L181.8 214.8 L181.3 214.3Z"/><path d="M142.1 237.3 L142.8 237.4 L143.6 237.4 L144.6 237.3 L145.7 237.2 L146.8 237 L148.1 236.8 L149.3 236.6 L150.4 236.3 L151.5 235.9 L152.5 235.6 L153.5 235.2 L154.5 234.8 L155.5 234.4 L156.5 234 L157.5 233.5 L158.4 233.1 L159.4 232.6 L160.3 232.1 L161.2 231.4 L162.2 230.6 L163 229.7 L163.9 228.9 L164.6 228.1 L165.2 227.3 L165.7 226.6 L166 226.1 L165.6 225.5 L164.9 225.7 L164.2 226.2 L163.4 226.7 L162.5 227.3 L161.6 227.9 L160.6 228.5 L159.6 229 L158.7 229.5 L157.9 229.9 L157.1 230.4 L156.2 230.8 L155.3 231.2 L154.4 231.6 L153.4 232 L152.4 232.4 L151.5 232.7 L150.5 233.1 L149.5 233.4 L148.5 233.8 L147.3 234.2 L146.2 234.7 L145.1 235.1 L144.1 235.5 L143.2 235.9 L142.5 236.3 L141.9 236.7Z"/><path d="M150.7 234.5 L150.4 235.1 L150.3 235.8 L150.2 236.6 L150.1 237.6 L150.1 238.6 L150 239.7 L149.9 240.8 L149.9 242 L149.9 243.2 L149.9 244.5 L150 245.8 L150.1 247 L150.1 248.3 L150.2 249.5 L150.4 250.7 L150.5 251.9 L150.7 252.9 L150.9 253.9 L151 254.8 L151.2 255.7 L151.4 256.3 L151.7 256.9 L152.3 256.9 L152.6 256.3 L152.7 255.6 L152.8 254.8 L152.9 253.8 L152.9 252.8 L153 251.7 L153.1 250.6 L153.1 249.4 L153.1 248.2 L153.1 246.9 L153 245.6 L152.9 244.4 L152.9 243.1 L152.8 241.9 L152.6 240.7 L152.5 239.5 L152.3 238.5 L152.1 237.5 L152 236.6 L151.8 235.7 L151.6 235.1 L151.3 234.5Z"/><path d="M144.2 214.6 L144 215.2 L144.1 216.1 L144.1 217 L144.2 218.1 L144.3 219.3 L144.5 220.5 L144.6 221.7 L144.8 222.9 L145 224.1 L145.3 225.2 L145.5 226.2 L145.9 227.3 L146.3 228.4 L146.7 229.6 L147.1 230.6 L147.6 231.7 L148 232.6 L148.4 233.4 L148.8 234.1 L149.2 234.6 L149.8 234.4 L149.9 233.8 L149.8 233 L149.7 232.1 L149.5 231.1 L149.4 230 L149.1 228.9 L148.9 227.7 L148.7 226.5 L148.5 225.4 L148.2 224.5 L148 223.4 L147.7 222.3 L147.4 221.1 L147 219.9 L146.6 218.8 L146.2 217.7 L145.9 216.6 L145.5 215.7 L145.2 215 L144.8 214.4Z"/><path d="M119.8 229.7 L120.4 229.3 L120.9 228.7 L121.5 228 L122.1 227.2 L122.8 226.3 L123.5 225.5 L124.2 224.7 L125 224 L125.7 223.3 L126.3 222.7 L127.1 222.1 L127.9 221.5 L128.8 220.9 L129.7 220.3 L130.6 219.7 L131.5 219.2 L132.5 218.7 L133.4 218.2 L134.3 217.8 L135.1 217.4 L136 217.2 L136.8 217 L137.7 216.8 L138.6 216.7 L139.6 216.7 L140.6 216.6 L141.6 216.6 L142.6 216.5 L143.7 216.4 L144.8 216.2 L145.8 216 L146.9 215.8 L147.9 215.6 L149 215.4 L150 215.2 L151.1 214.9 L152.2 214.7 L153.2 214.3 L154.2 214 L155.2 213.6 L156.3 213.1 L157.3 212.3 L158.3 211.6 L159.2 210.8 L160 210 L160.8 209.2 L161.4 208.5 L161.9 207.9 L162.2 207.3 L161.8 206.7 L161.1 206.8 L160.4 207.2 L159.5 207.6 L158.6 208.1 L157.6 208.6 L156.6 209.1 L155.6 209.6 L154.7 210 L153.8 210.4 L153 210.7 L152.1 211 L151.2 211.3 L150.3 211.5 L149.3 211.8 L148.3 212 L147.2 212.2 L146.2 212.4 L145.2 212.6 L144.2 212.8 L143.3 212.9 L142.4 213 L141.4 213.1 L140.4 213.1 L139.4 213.2 L138.4 213.2 L137.3 213.4 L136.2 213.5 L135 213.8 L133.9 214.2 L132.9 214.6 L131.9 215 L130.8 215.6 L129.8 216.1 L128.8 216.7 L127.8 217.3 L126.8 218 L125.8 218.7 L124.9 219.3 L124.1 220 L123.3 220.7 L122.4 221.7 L121.7 222.7 L121.1 223.9 L120.5 225 L120.1 226 L119.7 227 L119.4 227.9 L119.2 228.7 L119.2 229.3Z"/><path d="M248.3 228.1 L248.8 227.7 L249.2 227 L249.6 226.2 L250 225.3 L250.5 224.4 L251 223.4 L251.6 222.4 L252.2 221.5 L252.7 220.6 L253.3 219.8 L254 219.1 L254.6 218.6 L255.4 218.1 L256.2 217.6 L257.2 217 L258.2 216.5 L259.3 215.9 L260.4 215.4 L261.5 214.8 L262.5 214.2 L263.5 213.6 L264.4 213.1 L265.3 212.6 L266.1 212.1 L266.7 211.6 L267.2 211.1 L266.8 210.5 L266.2 210.5 L265.5 210.7 L264.6 210.9 L263.6 211.2 L262.6 211.5 L261.5 211.9 L260.3 212.2 L259.1 212.7 L258 213.2 L256.8 213.8 L255.7 214.4 L254.7 215 L253.7 215.6 L252.8 216.2 L252 216.9 L251 217.9 L250.2 218.9 L249.5 220.1 L249.1 221.3 L248.7 222.4 L248.3 223.6 L248.1 224.6 L247.9 225.6 L247.8 226.5 L247.7 227.2 L247.7 227.9Z"/><path d="M96.9 249.8 L97.4 250.3 L98.1 250.8 L98.9 251.3 L99.9 251.9 L101 252.5 L102.1 253.1 L103.3 253.6 L104.5 254.1 L105.7 254.4 L106.9 254.5 L108.2 254.5 L109.5 254.2 L110.7 253.8 L111.9 253.4 L112.9 252.9 L113.8 252.6 L114.6 252.3 L115.1 252.2 L115.3 252.2 L115.7 252.3 L116.3 252.8 L116.9 253.7 L117.5 254.7 L118.1 255.6 L118.6 256.5 L119.2 257 L119.8 256.8 L119.8 256 L119.6 255.1 L119.3 253.9 L118.9 252.6 L118.4 251.4 L117.5 250.3 L116.3 249.4 L115 249.2 L113.9 249.4 L112.8 249.7 L111.7 250.1 L110.7 250.6 L109.7 251 L108.7 251.3 L107.9 251.5 L107.1 251.5 L106.3 251.4 L105.3 251.1 L104.2 250.9 L103.1 250.6 L101.9 250.3 L100.8 249.9 L99.7 249.6 L98.7 249.4 L97.8 249.2 L97.1 249.2Z"/><path d="M213 134.8 L213.5 135.1 L214.2 135.3 L214.9 135.5 L215.8 135.8 L216.7 136 L217.7 136.2 L218.8 136.4 L219.9 136.6 L221.1 136.8 L222.3 136.9 L223.6 137 L224.8 137.1 L226.1 137.3 L227.4 137.4 L228.6 137.5 L229.9 137.6 L231.1 137.7 L232.3 137.8 L233.4 137.8 L234.5 137.8 L235.6 137.7 L236.5 137.7 L237.4 137.7 L238.2 137.6 L238.9 137.5 L239.5 137.3 L239.5 136.7 L239 136.4 L238.3 136.2 L237.6 136 L236.7 135.7 L235.8 135.5 L234.8 135.3 L233.7 135.1 L232.6 134.9 L231.4 134.7 L230.2 134.6 L228.9 134.5 L227.7 134.4 L226.4 134.2 L225.1 134.1 L223.9 134 L222.6 133.9 L221.4 133.8 L220.2 133.7 L219.1 133.7 L218 133.7 L216.9 133.8 L216 133.8 L215.1 133.8 L214.3 133.9 L213.6 134 L213 134.2Z"/><path d="M239.7 137.3 L240.4 137.3 L241.1 137.2 L242 136.9 L243 136.6 L244 136.2 L245.1 135.8 L246.2 135.4 L247.3 135 L248.4 134.5 L249.5 134 L250.6 133.5 L251.7 133 L252.7 132.6 L253.5 132.3 L254.4 132.1 L255.3 131.8 L256.3 131.6 L257.3 131.4 L258.3 131.2 L259.4 131 L260.4 130.8 L261.5 130.6 L262.5 130.4 L263.6 130.1 L264.6 129.8 L265.7 129.5 L266.7 129.2 L267.7 128.8 L268.8 128.4 L269.8 127.9 L270.8 127.4 L271.8 126.9 L272.8 126.3 L273.8 125.8 L274.7 125.2 L275.7 124.6 L276.6 124 L277.5 123.4 L278.3 122.8 L279.2 122.2 L280 121.6 L280.8 121 L281.7 120.1 L282.6 119.2 L283.3 118.2 L284 117.3 L284.5 116.4 L285.1 115.6 L285.6 114.8 L286.1 114.1 L286.7 113.5 L287.3 113 L288 112.5 L288.7 112.1 L289.5 111.8 L290.4 111.4 L291.4 111.1 L292.5 110.8 L293.7 110.5 L294.8 110.1 L295.9 109.7 L296.9 109.3 L297.9 108.9 L298.9 108.5 L299.7 108.2 L300.4 107.8 L300.9 107.3 L300.7 106.7 L300.1 106.5 L299.3 106.4 L298.4 106.4 L297.4 106.4 L296.3 106.5 L295.2 106.5 L294 106.6 L292.7 106.8 L291.5 107 L290.3 107.4 L289.2 107.7 L288 108.2 L287 108.6 L286 109.1 L284.9 109.9 L284 110.7 L283.1 111.6 L282.4 112.5 L281.8 113.4 L281.3 114.3 L280.7 115.1 L280.2 115.9 L279.6 116.7 L279 117.4 L278.2 118 L277.6 118.5 L276.8 119.1 L276.1 119.7 L275.3 120.2 L274.4 120.8 L273.6 121.3 L272.7 121.9 L271.8 122.4 L270.9 122.9 L270 123.4 L269.1 123.9 L268.1 124.4 L267.2 124.8 L266.3 125.2 L265.4 125.5 L264.5 125.8 L263.6 126.1 L262.7 126.3 L261.7 126.5 L260.7 126.8 L259.6 127 L258.6 127.2 L257.6 127.4 L256.5 127.6 L255.5 127.8 L254.4 128.1 L253.4 128.3 L252.3 128.6 L251.3 129 L250.2 129.4 L249 129.9 L247.9 130.4 L246.7 131 L245.6 131.6 L244.5 132.3 L243.5 133 L242.6 133.7 L241.7 134.4 L241 135 L240.3 135.6 L239.7 136.1 L239.3 136.7Z"/><path d="M266.7 129.6 L266.7 130.3 L266.8 131 L267 131.7 L267.2 132.6 L267.5 133.5 L267.8 134.5 L268.1 135.6 L268.5 136.6 L268.8 137.8 L269.3 138.9 L269.7 140.1 L270.1 141.3 L270.5 142.5 L270.7 143.3 L271 144.2 L271.3 145.2 L271.5 146.2 L271.8 147.3 L272.1 148.5 L272.4 149.6 L272.7 150.8 L273 152 L273.3 153.2 L273.5 154.3 L273.9 155.4 L274.3 156.5 L274.6 157.5 L275 158.5 L275.3 159.4 L275.6 160.2 L276 161 L276.3 161.6 L276.7 162.1 L277.3 161.9 L277.5 161.3 L277.4 160.6 L277.4 159.8 L277.3 158.9 L277.2 158 L277.1 156.9 L277 155.9 L276.8 154.7 L276.6 153.6 L276.4 152.4 L276.1 151.2 L275.8 150 L275.5 148.9 L275.2 147.7 L274.9 146.5 L274.6 145.4 L274.3 144.4 L274.1 143.4 L273.8 142.4 L273.5 141.5 L273.1 140.3 L272.7 139 L272.2 137.8 L271.8 136.6 L271.2 135.5 L270.7 134.5 L270.1 133.5 L269.6 132.6 L269.1 131.8 L268.6 131 L268.2 130.4 L267.8 129.8 L267.3 129.4Z"/><path d="M252.7 157.2 L252.6 157.8 L252.7 158.5 L252.8 159.3 L253 160.2 L253.2 161.2 L253.4 162.2 L253.7 163.3 L254.1 164.4 L254.5 165.5 L255.1 166.6 L255.7 167.7 L256.3 168.8 L257 169.8 L257.7 170.8 L258.4 171.6 L259.1 172.5 L259.8 173.3 L260.6 174.1 L261.4 174.9 L262.2 175.8 L263.1 176.6 L263.9 177.4 L264.8 178.2 L265.6 179 L266.4 179.8 L267.2 180.5 L268 181.2 L268.7 181.8 L269.3 182.5 L269.9 183 L270.5 183.6 L271.8 184.7 L272.9 185.5 L273.8 186 L274.2 186.2 L274.4 186.4 L274.6 186.7 L274.9 187.7 L275 188.1 L275.1 188.8 L275.2 189.6 L275.2 190.5 L275.2 191.4 L275.2 192.5 L275.2 193.6 L275.2 194.7 L275.2 195.9 L275.2 197 L275.2 198.2 L275.3 199.4 L275.3 200.5 L275.5 201.6 L275.6 202.6 L275.9 203.6 L276.3 204.8 L276.8 206 L277.3 207 L277.8 208 L278.5 208.9 L279.1 209.8 L279.8 210.6 L280.6 211.4 L281.4 212.2 L282.2 212.9 L283.1 213.7 L283.8 214.3 L284.7 214.9 L285.5 215.5 L286.4 216.1 L287.4 216.7 L288.3 217.3 L289.3 217.8 L290.2 218.4 L291.2 218.9 L292.2 219.4 L293.1 219.9 L294.1 220.4 L295 220.9 L296 221.4 L296.9 222 L297.9 222.5 L299 223 L300.1 223.6 L301.2 224.1 L302.3 224.6 L303.4 225 L304.5 225.3 L305.6 225.6 L306.6 225.9 L307.5 226.1 L308.4 226.3 L309.1 226.4 L309.8 226.3 L310.2 225.7 L309.8 225.1 L309.2 224.5 L308.6 224 L307.8 223.4 L307 222.8 L306.1 222.1 L305.1 221.5 L304.2 220.8 L303.1 220.2 L302 219.7 L301 219.1 L300 218.6 L299 218.1 L298 217.6 L297.1 217.1 L296.2 216.6 L295.2 216 L294.3 215.5 L293.3 215 L292.4 214.5 L291.4 214 L290.5 213.5 L289.6 213 L288.8 212.4 L288 211.9 L287.3 211.4 L286.6 210.9 L285.9 210.3 L285.1 209.6 L284.4 208.9 L283.7 208.3 L283.1 207.6 L282.5 207 L282 206.4 L281.6 205.7 L281.2 205 L280.8 204.2 L280.4 203.3 L280.1 202.4 L279.9 201.7 L279.8 201 L279.7 200.1 L279.7 199.1 L279.6 198.1 L279.6 197 L279.6 195.9 L279.6 194.8 L279.6 193.6 L279.6 192.5 L279.6 191.4 L279.6 190.3 L279.6 189.3 L279.5 188.3 L279.3 187.3 L279.1 186.3 L278.6 184.9 L277.8 183.6 L276.8 182.7 L276 182.2 L275.3 181.8 L274.5 181.3 L273.5 180.4 L273 179.9 L272.3 179.3 L271.7 178.6 L270.9 178 L270.2 177.3 L269.4 176.5 L268.6 175.8 L267.8 175 L266.9 174.2 L266.1 173.4 L265.3 172.7 L264.5 171.9 L263.8 171.1 L263.1 170.3 L262.4 169.6 L261.8 168.9 L261.3 168.2 L260.6 167.3 L260.1 166.4 L259.5 165.5 L259 164.5 L258.4 163.5 L257.8 162.6 L257.2 161.7 L256.6 160.8 L256 159.9 L255.5 159.1 L254.9 158.4 L254.4 157.7 L253.9 157.2 L253.3 156.8Z"/><path d="M277.2 187.3 L277.9 187.2 L278.7 186.9 L279.5 186.5 L280.4 186 L281.4 185.5 L282.4 184.9 L283.5 184.3 L284.5 183.7 L285.5 183 L286.4 182.4 L287.3 181.8 L288.1 181.2 L288.9 180.8 L289.7 180.3 L290.6 179.9 L291.6 179.5 L292.5 179.2 L293.5 178.8 L294.5 178.3 L295.5 177.9 L296.5 177.4 L297.4 176.8 L298.3 176.1 L299.1 175.3 L299.9 174.6 L300.7 173.8 L301.5 173 L302.2 172.1 L302.8 171.1 L303.4 170.1 L304 168.9 L304.5 167.7 L304.9 166.4 L305.2 165.5 L305.4 164.6 L305.6 163.6 L305.8 162.6 L306 161.5 L306.1 160.4 L306.2 159.3 L306.3 158.2 L306.4 157.1 L306.5 156 L306.5 154.8 L306.5 153.7 L306.6 152.6 L306.6 151.5 L306.6 150.5 L306.5 149.4 L306.5 148.2 L306.3 147.1 L306.1 145.9 L305.8 144.8 L305.5 143.7 L305.2 142.6 L304.9 141.6 L304.7 140.6 L304.4 139.6 L304.2 138.7 L304 137.8 L303.9 137 L303.9 136.2 L303.9 135.5 L304 135 L304.2 134.2 L304.6 133.4 L305.1 132.6 L305.8 131.7 L306.4 130.7 L307.1 129.8 L307.8 128.8 L308.5 127.9 L309.1 127 L309.7 126.2 L310.1 125.5 L310.3 124.7 L309.7 124.3 L309.1 124.5 L308.4 124.8 L307.5 125.3 L306.6 125.9 L305.6 126.6 L304.6 127.4 L303.6 128.2 L302.6 129.2 L301.8 130.3 L301 131.4 L300.4 132.7 L300 134 L299.8 135.2 L299.8 136.3 L299.9 137.4 L300 138.4 L300.2 139.5 L300.5 140.6 L300.7 141.6 L301 142.7 L301.3 143.7 L301.6 144.7 L301.9 145.8 L302.1 146.8 L302.3 147.7 L302.4 148.7 L302.5 149.6 L302.5 150.5 L302.5 151.5 L302.5 152.6 L302.5 153.6 L302.4 154.7 L302.4 155.7 L302.3 156.8 L302.3 157.9 L302.2 158.9 L302 159.9 L301.9 160.9 L301.8 161.9 L301.6 162.8 L301.4 163.7 L301.3 164.5 L301.1 165.2 L300.7 166.3 L300.3 167.2 L299.9 168.1 L299.4 168.9 L298.9 169.6 L298.3 170.3 L297.8 171 L297.1 171.7 L296.4 172.3 L295.7 172.9 L295.1 173.4 L294.4 173.8 L293.6 174.2 L292.8 174.6 L291.9 175 L291 175.4 L290 175.8 L289 176.2 L288 176.6 L287 177.2 L285.9 177.8 L285 178.4 L284 179 L283.1 179.7 L282.1 180.5 L281.2 181.3 L280.3 182.2 L279.5 183.1 L278.8 183.9 L278.1 184.7 L277.5 185.4 L277 186.1 L276.8 186.7Z"/><path d="M165.8 146.1 L166.4 146.4 L167.1 146.5 L167.9 146.6 L168.8 146.7 L169.8 146.8 L170.9 146.9 L172 147 L173.2 147.1 L174.4 147.1 L175.7 147.1 L176.9 147 L178.1 146.9 L179.4 146.8 L180.6 146.7 L181.7 146.6 L182.8 146.4 L183.9 146.2 L184.9 146 L186.2 145.7 L187.4 145.2 L188.7 144.7 L189.9 144.2 L191 143.6 L192.1 142.9 L193.1 142.2 L194 141.5 L194.8 140.8 L195.6 140.2 L196.2 139.6 L196.8 139.1 L197.2 138.6 L196.8 138 L196.2 138.1 L195.4 138.3 L194.6 138.6 L193.7 139 L192.8 139.4 L191.8 139.9 L190.7 140.4 L189.6 140.8 L188.5 141.3 L187.4 141.8 L186.3 142.3 L185.2 142.7 L184.1 143 L183.3 143.1 L182.4 143.3 L181.3 143.5 L180.2 143.6 L179.1 143.7 L177.9 143.8 L176.7 143.8 L175.5 143.9 L174.3 144 L173.1 144.1 L172 144.2 L170.8 144.4 L169.8 144.5 L168.8 144.7 L167.9 144.8 L167.1 145 L166.4 145.2 L165.8 145.5Z"/><path d="M196.7 139.4 L196.2 139.8 L195.8 140.5 L195.3 141.2 L194.8 142.1 L194.3 143 L193.7 144 L193.2 145.1 L192.6 146.2 L192.1 147.3 L191.7 148.4 L191.3 149.5 L190.9 150.6 L190.6 151.6 L190.2 152.7 L189.9 153.9 L189.6 155.1 L189.4 156.4 L189.3 157.6 L189.2 158.8 L189.1 159.9 L189.1 160.9 L189 161.8 L189 162.6 L189.2 163.2 L189.8 163.4 L190.2 162.8 L190.5 162.1 L190.8 161.2 L191.1 160.3 L191.5 159.2 L191.8 158.1 L192.2 157 L192.5 155.8 L192.8 154.6 L193.1 153.5 L193.4 152.4 L193.7 151.5 L194.1 150.5 L194.5 149.5 L194.9 148.4 L195.3 147.3 L195.7 146.1 L196 145 L196.4 143.9 L196.7 142.9 L196.9 141.9 L197.2 141 L197.3 140.3 L197.3 139.6Z"/><path d="M310.9 101.1 L311.4 101.6 L312 102 L312.8 102.4 L313.7 102.8 L314.7 103.3 L315.7 103.8 L316.8 104.3 L317.9 104.8 L319.1 105.2 L320.2 105.6 L321.3 106 L322.3 106.4 L323.3 106.8 L324.1 107.2 L325.2 107.7 L326.2 108.3 L327.2 108.8 L328.2 109.4 L329.2 110 L330.1 110.6 L331 111.2 L331.9 111.7 L332.7 112.1 L333.4 112.6 L334 112.9 L335.2 113.8 L335.9 114.7 L336.4 115.4 L337 115.9 L337.6 115.7 L337.6 114.9 L337.4 113.9 L336.8 112.6 L335.6 111.1 L335 110.5 L334.3 109.9 L333.6 109.2 L332.7 108.6 L331.8 108 L330.8 107.3 L329.8 106.7 L328.8 106.1 L327.7 105.5 L326.6 104.9 L325.5 104.4 L324.5 104 L323.5 103.5 L322.4 103.1 L321.3 102.7 L320.1 102.3 L318.9 101.9 L317.7 101.6 L316.6 101.3 L315.4 101 L314.4 100.8 L313.4 100.7 L312.5 100.5 L311.8 100.4 L311.1 100.5Z"/><path d="M308.6 124.8 L309.3 124.9 L310.1 124.7 L310.9 124.6 L311.9 124.3 L312.9 124 L314 123.7 L315.1 123.4 L316.3 123.1 L317.4 122.7 L318.5 122.2 L319.5 121.8 L320.6 121.5 L321.5 121.2 L322.5 120.9 L323.5 120.6 L324.5 120.4 L325.5 120.2 L326.6 119.9 L327.6 119.7 L328.6 119.6 L329.6 119.4 L330.7 119.2 L331.7 119.1 L332.7 118.9 L333.8 118.7 L334.8 118.6 L335.8 118.5 L336.8 118.3 L337.8 118.2 L338.9 118.1 L339.9 118 L340.9 118 L342 117.9 L343 117.8 L344 117.7 L345.1 117.6 L346.1 117.6 L347.2 117.5 L348.3 117.4 L349.5 117.3 L350.7 117.3 L351.9 117.1 L353.1 116.8 L354.2 116.6 L355.3 116.4 L356.3 116.2 L357.2 116 L357.9 115.8 L358.5 115.4 L358.5 114.8 L357.9 114.5 L357.1 114.3 L356.2 114.2 L355.2 114.1 L354.1 114 L353 113.9 L351.8 113.8 L350.5 113.8 L349.3 113.8 L348.1 113.9 L347 114 L345.9 114 L344.8 114.1 L343.8 114.2 L342.7 114.3 L341.7 114.4 L340.6 114.4 L339.6 114.5 L338.5 114.6 L337.5 114.7 L336.4 114.8 L335.4 115 L334.3 115.1 L333.2 115.3 L332.2 115.4 L331.1 115.6 L330.1 115.7 L329 115.9 L328 116.1 L326.9 116.3 L325.9 116.5 L324.8 116.7 L323.7 117 L322.6 117.2 L321.6 117.5 L320.5 117.8 L319.4 118.1 L318.4 118.5 L317.2 118.9 L316.1 119.4 L315 119.9 L313.9 120.4 L312.9 121 L311.9 121.6 L311 122.2 L310.1 122.7 L309.4 123.2 L308.8 123.7 L308.4 124.2Z"/><path d="M315.9 127.3 L316.4 127.8 L317.1 128.2 L318 128.6 L319 129 L320 129.5 L321.1 129.9 L322.3 130.4 L323.4 130.9 L324.6 131.3 L325.7 131.7 L326.7 132.2 L327.6 132.6 L328.6 133.1 L329.7 133.6 L330.7 134.2 L331.8 134.7 L333 135.3 L334 135.7 L335.1 136.2 L336 136.6 L336.9 136.9 L337.7 137.2 L338.3 137.3 L338.7 136.7 L338.3 136.2 L337.7 135.6 L336.9 135.1 L336.1 134.4 L335.2 133.7 L334.2 133 L333.2 132.3 L332.2 131.6 L331.1 131 L330 130.4 L328.9 129.9 L327.9 129.4 L326.8 129 L325.6 128.5 L324.4 128.1 L323.2 127.7 L321.9 127.5 L320.7 127.2 L319.6 127 L318.5 126.8 L317.6 126.7 L316.8 126.6 L316.1 126.7Z"/><path d="M372 107.2 L372.1 107.9 L372.3 108.7 L372.7 109.6 L373.1 110.6 L373.6 111.7 L374.1 112.8 L374.7 113.9 L375.2 115 L375.8 116 L376.4 116.9 L376.8 117.8 L377.3 118.8 L377.8 119.8 L378.2 120.8 L378.6 121.8 L379 122.8 L379.4 123.8 L379.7 124.8 L380 125.7 L380.3 126.6 L380.5 127.4 L380.8 128.6 L381 129.8 L381.2 130.8 L381.2 131.6 L381.2 132.3 L381.1 132.9 L380.7 133.5 L380.4 133.8 L380 134.2 L379.3 134.7 L378.5 135.2 L377.7 135.7 L376.7 136.1 L375.8 136.6 L374.8 137 L373.8 137.4 L372.8 137.8 L371.9 138.1 L370.9 138.5 L370 138.8 L369.1 139.1 L368.1 139.4 L367.2 139.7 L366.3 139.9 L365.4 140 L364.4 140.1 L363.5 140.1 L362.6 140.1 L361.7 140 L360.6 139.8 L359.4 139.6 L358.3 139.5 L357.1 139.4 L355.9 139.2 L354.9 139.1 L353.9 139 L353.1 139 L352.4 139.2 L352.2 139.8 L352.7 140.3 L353.4 140.7 L354.3 141.2 L355.2 141.6 L356.3 142.1 L357.5 142.6 L358.6 143.1 L359.9 143.4 L361.1 143.7 L362.3 143.8 L363.5 143.9 L364.7 143.8 L365.8 143.7 L367 143.5 L368.1 143.3 L369.2 143 L370.2 142.7 L371.2 142.4 L372.2 142 L373.2 141.6 L374.2 141.2 L375.2 140.8 L376.2 140.4 L377.3 140 L378.3 139.5 L379.4 139 L380.4 138.4 L381.4 137.8 L382.3 137.2 L383.1 136.4 L383.9 135.5 L384.5 134.3 L384.9 132.9 L385 131.6 L384.9 130.3 L384.7 129 L384.4 127.8 L384.1 126.6 L383.9 125.6 L383.6 124.6 L383.3 123.6 L382.9 122.5 L382.5 121.5 L382.1 120.4 L381.7 119.3 L381.2 118.3 L380.7 117.2 L380.2 116.2 L379.6 115.2 L379.1 114.1 L378.4 113 L377.7 112 L376.8 111 L376 110.1 L375.3 109.2 L374.5 108.4 L373.8 107.7 L373.2 107.2 L372.6 106.8Z"/><path d="M382.3 136.1 L382.9 136.5 L383.7 136.8 L384.7 137.1 L385.8 137.5 L387 137.8 L388.3 138.1 L389.6 138.3 L390.9 138.3 L392.2 138.3 L393.4 138.3 L394.4 138.2 L395.3 138.2 L396 137.9 L396 137.3 L395.4 136.9 L394.6 136.6 L393.6 136.3 L392.5 135.9 L391.3 135.6 L390 135.3 L388.7 135.1 L387.4 135.1 L386.1 135.1 L384.9 135.1 L383.9 135.2 L383 135.2 L382.3 135.5Z"/><path d="M363.2 143.1 L362.7 143.6 L362.2 144.1 L361.7 144.9 L361.1 145.7 L360.5 146.6 L359.9 147.5 L359.3 148.5 L358.6 149.5 L358.1 150.6 L357.6 151.6 L357.1 152.6 L356.7 153.5 L356.2 154.5 L355.8 155.4 L355.3 156.4 L354.8 157.4 L354.3 158.4 L353.9 159.4 L353.5 160.4 L353 161.3 L352.7 162.3 L352.3 163.2 L352 164 L351.8 165.5 L351.6 166.9 L351.6 168.2 L351.6 169.4 L351.7 170.4 L351.8 171.3 L352 172 L352.6 172 L353 171.4 L353.2 170.6 L353.5 169.6 L353.8 168.5 L354.1 167.4 L354.5 166.2 L355 165 L355.2 164.2 L355.6 163.4 L355.9 162.5 L356.3 161.6 L356.7 160.7 L357.2 159.7 L357.6 158.7 L358.1 157.8 L358.6 156.8 L359 155.8 L359.5 154.9 L359.9 154 L360.4 153 L360.9 152 L361.4 150.9 L361.8 149.8 L362.2 148.7 L362.6 147.6 L363 146.6 L363.3 145.7 L363.6 144.8 L363.8 144.1 L363.8 143.5Z"/><path d="M343.2 139.5 L342.7 140 L342.5 140.7 L342.2 141.4 L341.9 142.2 L341.6 143.2 L341.3 144.2 L341.1 145.2 L340.8 146.3 L340.6 147.5 L340.4 148.7 L340.4 149.9 L340.3 151.1 L340.2 152.3 L340.2 153.5 L340.1 154.7 L340.1 155.9 L340.2 157.1 L340.2 158.1 L340.2 159.2 L340.3 160.3 L340.4 161.4 L340.5 162.5 L340.6 163.6 L340.7 164.7 L340.8 165.8 L341 166.9 L341.1 168 L341.3 169.1 L341.4 170.2 L341.6 171.3 L341.8 172.3 L342 173.4 L342.2 174.4 L342.5 175.4 L342.7 176.4 L343 177.5 L343.4 178.5 L343.7 179.6 L344.1 180.6 L344.5 181.6 L344.9 182.5 L345.3 183.5 L345.7 184.4 L346.2 185.3 L346.6 186.2 L347.1 187.1 L347.6 188 L348.1 188.9 L348.6 189.7 L349.2 190.6 L349.7 191.5 L350.3 192.4 L351 193.3 L351.6 194.1 L352.3 195 L353 195.8 L353.7 196.6 L354.4 197.5 L355 198.3 L355.7 199 L356.4 199.8 L357 200.6 L357.7 201.3 L358.2 202 L358.8 202.7 L359.3 203.3 L360 204.3 L360.7 205.2 L361.4 206.1 L362 207 L362.5 207.8 L363.1 208.7 L363.7 209.5 L364.3 210.4 L364.9 211.2 L365.6 212.1 L366.3 213 L367 213.9 L367.8 214.8 L368.7 215.6 L369.7 216.4 L370.6 217.2 L371.5 217.9 L372.4 218.6 L373.1 219.1 L373.8 219.5 L374.5 219.7 L375.1 219.3 L374.9 218.6 L374.6 217.8 L374.2 217 L373.6 216 L373 215.1 L372.4 214.1 L371.8 213 L371.1 212 L370.3 211.1 L369.6 210.3 L369 209.5 L368.4 208.6 L367.8 207.8 L367.2 207 L366.6 206.2 L366.1 205.4 L365.5 204.6 L364.9 203.7 L364.2 202.7 L363.5 201.8 L362.7 200.7 L362.1 200 L361.6 199.3 L360.9 198.5 L360.3 197.8 L359.6 197 L359 196.2 L358.3 195.5 L357.6 194.7 L357 193.9 L356.3 193.1 L355.6 192.3 L355 191.5 L354.4 190.7 L353.8 189.9 L353.3 189.1 L352.8 188.4 L352.3 187.5 L351.8 186.7 L351.3 185.9 L350.9 185 L350.4 184.2 L350 183.4 L349.6 182.6 L349.2 181.7 L348.8 180.9 L348.4 180 L348.1 179.1 L347.8 178.2 L347.5 177.2 L347.2 176.3 L346.9 175.2 L346.7 174.4 L346.4 173.5 L346.2 172.5 L346 171.5 L345.8 170.5 L345.7 169.5 L345.5 168.5 L345.4 167.4 L345.2 166.4 L345.1 165.3 L345 164.2 L344.9 163.2 L344.8 162.1 L344.7 161 L344.6 160 L344.5 158.9 L344.5 157.9 L344.4 156.9 L344.4 155.9 L344.4 154.8 L344.5 153.7 L344.5 152.5 L344.6 151.4 L344.6 150.2 L344.7 149 L344.8 147.8 L344.8 146.7 L344.7 145.6 L344.7 144.5 L344.6 143.5 L344.5 142.5 L344.4 141.6 L344.3 140.8 L344.2 140.1 L343.8 139.5Z"/><path d="M383.2 147.1 L383.2 147.8 L383.3 148.5 L383.5 149.4 L383.8 150.4 L384.1 151.5 L384.4 152.7 L384.9 153.8 L385.3 155 L385.9 156.1 L386.6 157.1 L387.4 158 L388.3 158.9 L389.2 159.7 L390.3 160.4 L391.4 161 L392.6 161.6 L393.8 162.1 L394.9 162.6 L395.9 162.9 L396.9 163.3 L397.7 163.5 L398.3 163.6 L398.7 163 L398.2 162.5 L397.6 161.9 L396.8 161.3 L395.9 160.7 L394.9 160 L393.9 159.3 L392.9 158.6 L392 157.9 L391.1 157.3 L390.3 156.6 L389.6 156 L389 155.3 L388.5 154.5 L388 153.6 L387.4 152.6 L386.8 151.6 L386.2 150.6 L385.7 149.7 L385.2 148.8 L384.7 148 L384.3 147.3 L383.8 146.9Z"/><path d="M378.4 182.3 L378.9 182.8 L379.6 183.3 L380.5 183.8 L381.5 184.3 L382.5 184.8 L383.6 185.4 L384.5 186 L385.5 186.6 L386.3 187.2 L387 187.7 L387.8 188.3 L388.5 189 L389.3 189.8 L390.1 190.5 L390.8 191.3 L391.5 192.1 L392 192.9 L392.5 193.6 L392.9 194.4 L393.2 195 L393.4 195.7 L393.4 196.5 L393.4 197.2 L393.3 198.1 L393.1 199 L392.9 199.9 L392.6 200.9 L392.4 202 L392.1 203.1 L391.9 204.2 L391.7 205.2 L391.4 206.3 L391.2 207.4 L391 208.6 L390.9 209.9 L390.8 211.1 L390.7 212.2 L390.6 213.3 L390.5 214.2 L390.5 215 L390.7 215.7 L391.3 215.9 L391.8 215.3 L392.1 214.6 L392.5 213.7 L392.9 212.7 L393.3 211.6 L393.7 210.5 L394.1 209.3 L394.5 208.1 L394.7 207 L395 205.8 L395.1 204.8 L395.4 203.8 L395.6 202.8 L395.9 201.8 L396.2 200.8 L396.4 199.7 L396.6 198.6 L396.8 197.5 L396.8 196.3 L396.7 195.2 L396.4 194 L396 192.9 L395.4 191.9 L394.8 190.9 L394.1 190 L393.3 189.1 L392.5 188.2 L391.7 187.3 L390.8 186.5 L390 185.8 L389.1 185.1 L388.3 184.4 L387.2 183.7 L386 183.1 L384.7 182.7 L383.5 182.3 L382.3 182.1 L381.1 181.9 L380.2 181.7 L379.3 181.6 L378.6 181.7Z"/><path d="M394.9 194.8 L395.6 195.1 L396.4 195.1 L397.5 195.1 L398.6 195.1 L399.8 195 L401.1 194.9 L402.3 194.7 L403.5 194.4 L404.5 193.9 L405.6 193.2 L406.6 192.4 L407.4 191.6 L408.1 190.8 L408.7 190 L409.4 189.2 L410.1 188.4 L410.7 187.8 L411.4 187.1 L412.2 186.3 L413 185.5 L413.9 184.6 L414.7 183.6 L415.5 182.6 L416.2 181.5 L416.8 180.4 L417.2 179.3 L417.5 178.2 L417.8 177.1 L418.1 175.9 L418.2 174.8 L418.3 173.6 L418.4 172.4 L418.4 171.3 L418.3 170.1 L418.1 169 L417.6 167.7 L417 166.5 L416.2 165.5 L415.5 164.6 L414.7 163.8 L414.1 163 L413.6 162.4 L413.2 161.9 L413.1 161.4 L413 160.8 L412.9 160.2 L413 159.6 L413.2 158.8 L413.5 157.8 L413.9 156.6 L414.4 155.1 L414.6 154.3 L414.8 153.5 L415.1 152.6 L415.5 151.7 L415.8 150.7 L416.2 149.7 L416.6 148.6 L417 147.5 L417.4 146.4 L417.8 145.3 L418.2 144.2 L418.5 143.1 L418.9 142 L419.1 141 L419.4 140 L419.6 138.8 L419.9 137.6 L420.1 136.4 L420.3 135.3 L420.4 134.1 L420.6 133 L420.7 131.9 L420.7 130.8 L420.8 129.7 L420.8 128.7 L420.7 127.7 L420.6 126.7 L420.2 125.2 L419.5 123.9 L418.8 122.7 L418 121.7 L417.2 120.9 L416.4 120.2 L415.7 119.6 L415.1 119.3 L414.5 119.7 L414.5 120.4 L414.8 121.3 L415.1 122.2 L415.5 123.2 L415.8 124.3 L416.1 125.3 L416.3 126.3 L416.4 127.3 L416.4 128 L416.5 128.8 L416.5 129.7 L416.5 130.6 L416.4 131.6 L416.3 132.6 L416.2 133.6 L416 134.6 L415.9 135.7 L415.7 136.8 L415.5 137.9 L415.2 139 L415 139.9 L414.7 140.8 L414.4 141.8 L414.1 142.8 L413.8 143.9 L413.4 145 L413 146 L412.6 147.1 L412.2 148.2 L411.8 149.2 L411.4 150.2 L411.1 151.2 L410.8 152.2 L410.5 153.1 L410.2 153.9 L409.8 155.3 L409.4 156.5 L409.1 157.7 L408.8 158.8 L408.7 160 L408.7 161.2 L408.9 162.6 L409.4 163.8 L410.1 164.9 L410.8 165.8 L411.5 166.6 L412.3 167.4 L412.9 168.1 L413.4 168.8 L413.7 169.4 L413.9 170 L414 170.7 L414.1 171.5 L414.1 172.4 L414.1 173.3 L414 174.2 L413.8 175.2 L413.6 176.1 L413.4 177 L413.1 177.9 L412.8 178.6 L412.5 179.4 L412 180.1 L411.4 180.9 L410.7 181.7 L410 182.5 L409.2 183.3 L408.4 184 L407.6 184.8 L406.9 185.6 L406.1 186.5 L405.4 187.3 L404.8 188.1 L404.3 188.7 L403.7 189.2 L403.2 189.7 L402.5 190.1 L401.8 190.4 L401 190.9 L400 191.3 L399 191.8 L397.9 192.3 L396.9 192.7 L396 193.2 L395.2 193.6 L394.7 194.2Z"/><path d="M414.7 179.8 L415.3 180.3 L416.2 180.8 L417.2 181.3 L418.2 181.9 L419.3 182.5 L420.2 183.2 L420.9 183.8 L421.7 184.5 L422.7 185.3 L423.7 186.1 L424.7 186.9 L425.6 187.6 L426.3 188.2 L427 188.5 L427.6 188.1 L427.3 187.4 L426.8 186.5 L426.1 185.5 L425.4 184.5 L424.6 183.4 L423.7 182.4 L422.8 181.5 L421.8 180.8 L420.5 180.2 L419.1 179.7 L417.8 179.4 L416.7 179.2 L415.7 179.1 L414.9 179.2Z"/><path d="M416.1 169.8 L416.8 169.9 L417.7 169.8 L418.7 169.7 L419.8 169.5 L421 169.3 L422.3 169 L423.5 168.7 L424.7 168.3 L425.9 167.8 L426.9 167.2 L427.9 166.5 L429 165.8 L429.9 165 L430.9 164.2 L431.7 163.3 L432.5 162.3 L433.2 161.3 L433.8 160.2 L434.3 159.1 L434.7 157.9 L435 156.7 L435.3 155.4 L435.4 154.1 L435.4 152.8 L435.3 151.6 L435.1 150.4 L434.7 149.2 L434.1 148.1 L433.4 147 L432.6 146.1 L431.8 145.2 L431 144.5 L430.1 143.9 L429.2 143.3 L427.9 142.8 L426.5 142.6 L425.2 142.6 L424.2 142.7 L423.5 143 L423.5 143.6 L424.1 144 L425.1 144.3 L426.1 144.6 L427 145 L427.8 145.7 L428.2 146.2 L428.8 146.8 L429.5 147.5 L430.1 148.3 L430.7 149 L431.3 149.8 L431.6 150.5 L431.9 151.2 L432 152 L432.1 152.9 L432.1 153.9 L432 154.9 L431.8 156 L431.5 157 L431.2 157.9 L430.8 158.8 L430.4 159.5 L429.8 160.3 L429.2 161 L428.5 161.8 L427.8 162.5 L426.9 163.1 L426.1 163.8 L425.1 164.4 L424.4 164.8 L423.4 165.2 L422.4 165.7 L421.3 166.3 L420.2 166.8 L419.1 167.3 L418.1 167.8 L417.2 168.2 L416.4 168.7 L415.9 169.2Z"/><path d="M432 159.6 L431.9 160.3 L432 161.1 L432.2 161.9 L432.4 162.8 L432.7 163.8 L433 164.9 L433.4 166 L433.7 167.1 L434.2 168.3 L434.7 169.4 L435.2 170.5 L435.7 171.6 L436.2 172.7 L436.7 173.8 L437.2 174.8 L437.6 175.7 L438 176.6 L438.4 177.7 L438.9 178.7 L439.3 179.7 L439.8 180.7 L440.2 181.6 L440.6 182.5 L440.9 183.4 L441.3 184.3 L441.7 185.2 L442 186.1 L442.3 187 L442.6 187.9 L442.9 188.8 L443.1 189.8 L443.3 190.7 L443.5 191.7 L443.6 192.8 L443.8 193.8 L443.9 194.9 L444.1 196 L444.2 197.1 L444.4 198.2 L444.6 199.4 L444.8 200.5 L445.1 201.6 L445.4 202.7 L445.8 203.8 L446.3 204.8 L446.8 205.8 L447.4 206.8 L447.9 207.7 L448.5 208.6 L449 209.4 L449.6 210.3 L450.1 211.2 L450.7 212.1 L451.2 213.1 L451.7 214.1 L452 215 L452.4 215.9 L452.8 216.8 L453.2 217.9 L453.7 218.9 L454.1 220 L454.5 221.1 L455 222.3 L455.4 223.3 L456 224.4 L456.5 225.3 L457.1 226.3 L457.6 227.1 L458 227.9 L458.5 228.6 L458.9 229.2 L459.5 229.6 L460.1 229.4 L460.2 228.7 L460.2 228 L460.1 227.2 L459.9 226.3 L459.8 225.3 L459.5 224.2 L459.3 223.1 L459 222 L458.7 220.8 L458.3 219.7 L457.8 218.6 L457.4 217.5 L457 216.4 L456.5 215.3 L456.1 214.3 L455.7 213.4 L455.3 212.5 L454.8 211.3 L454.2 210.2 L453.6 209.2 L453 208.2 L452.4 207.3 L451.9 206.4 L451.3 205.6 L450.8 204.7 L450.4 203.9 L449.9 203.1 L449.5 202.2 L449.2 201.3 L448.9 200.5 L448.7 199.6 L448.5 198.6 L448.3 197.6 L448.2 196.6 L448 195.5 L447.9 194.4 L447.8 193.3 L447.6 192.2 L447.5 191.1 L447.3 190 L447 188.9 L446.7 187.8 L446.4 186.7 L446.1 185.7 L445.8 184.7 L445.4 183.8 L445 182.8 L444.7 181.9 L444.3 181 L443.9 180 L443.4 179.1 L443 178.1 L442.6 177.1 L442.1 176.1 L441.6 175 L441.2 174.1 L440.8 173.1 L440.4 172.1 L439.9 171 L439.4 170 L438.9 168.8 L438.3 167.7 L437.8 166.6 L437.2 165.5 L436.6 164.5 L436 163.5 L435.4 162.6 L434.8 161.8 L434.2 161 L433.7 160.3 L433.2 159.7 L432.6 159.4Z"/><path d="M401 208.6 L401.6 209 L402.3 209.2 L403.2 209.4 L404.2 209.6 L405.3 209.8 L406.5 210 L407.7 210.1 L408.9 210.3 L410.2 210.3 L411.5 210.3 L412.7 210.2 L413.9 210.1 L415 210 L416.1 209.8 L417.2 209.6 L418.2 209.3 L419.3 209 L420.3 208.7 L421.2 208.3 L422.2 208 L423.1 207.7 L424.1 207.3 L425 207 L425.9 206.7 L426.8 206.4 L427.7 206.2 L428.8 205.9 L429.8 205.7 L430.9 205.4 L432 205.2 L433.1 204.9 L434.2 204.7 L435.3 204.5 L436.3 204.3 L437.3 204.1 L438.3 204 L439.2 203.8 L440 203.7 L441.3 203.4 L442.5 203.2 L443.7 203 L444.8 202.9 L445.8 202.8 L446.6 202.6 L447.3 202.3 L447.3 201.7 L446.7 201.3 L445.9 201.1 L444.9 200.8 L443.8 200.6 L442.5 200.5 L441.1 200.4 L439.6 200.3 L438.7 200.4 L437.7 200.6 L436.7 200.7 L435.7 200.9 L434.6 201.1 L433.5 201.3 L432.4 201.6 L431.3 201.8 L430.2 202 L429 202.3 L428 202.6 L426.9 202.8 L425.9 203.1 L424.9 203.4 L423.9 203.7 L422.9 204.1 L422 204.4 L421 204.8 L420.1 205.1 L419.2 205.4 L418.2 205.7 L417.3 206 L416.4 206.2 L415.5 206.4 L414.6 206.6 L413.6 206.7 L412.5 206.8 L411.4 206.8 L410.2 206.9 L409 206.9 L407.8 207 L406.6 207.1 L405.4 207.2 L404.3 207.3 L403.3 207.4 L402.4 207.5 L401.6 207.7 L401 208Z"/><path d="M447.6 202.2 L448.1 201.9 L448.7 201.4 L449.3 200.8 L450 200.2 L450.7 199.4 L451.5 198.6 L452.3 197.8 L453.1 196.9 L453.9 196 L454.6 195.1 L455.3 194.2 L456 193.3 L456.6 192.5 L457.2 191.7 L458 190.7 L458.7 189.6 L459.4 188.5 L460 187.4 L460.6 186.4 L461.2 185.4 L461.7 184.4 L462.1 183.6 L462.4 182.9 L462.6 182.2 L462 181.8 L461.4 182.2 L460.9 182.7 L460.2 183.4 L459.5 184.2 L458.7 185 L457.9 185.9 L457.1 186.9 L456.3 187.9 L455.5 188.9 L454.8 189.9 L454.2 190.6 L453.6 191.5 L452.9 192.3 L452.2 193.2 L451.5 194.2 L450.8 195.1 L450.2 196.1 L449.6 197.1 L449 198 L448.4 198.9 L447.9 199.8 L447.5 200.5 L447.2 201.2 L447 201.8Z"/><path d="M447 201.9 L446.4 202.4 L445.9 203.1 L445.3 203.9 L444.8 204.9 L444.2 206 L443.6 207.1 L443 208.2 L442.4 209.3 L442 210.3 L441.6 211.2 L441.2 212.3 L440.8 213.3 L440.5 214.3 L440.1 215.1 L439.8 215.9 L439.4 216.7 L438.9 217.4 L438.2 218.2 L437.7 218.9 L437.1 219.6 L436.4 220.2 L435.7 220.9 L435 221.6 L434.2 222.3 L433.4 223 L432.6 223.6 L431.8 224.2 L430.9 224.7 L430.1 225.2 L429.3 225.6 L428.5 226 L427.6 226.3 L426.8 226.6 L425.8 226.9 L424.9 227.2 L424 227.5 L423 227.8 L422 228 L421 228.2 L420 228.4 L419.1 228.6 L418.1 228.8 L417.1 229 L416 229.3 L414.9 229.5 L413.9 229.6 L412.9 229.8 L411.8 230 L410.8 230.1 L409.9 230.2 L408.9 230.2 L408 230.2 L407.1 230.1 L406.4 230 L405.5 229.8 L404.7 229.6 L403.9 229.2 L403 228.8 L402.1 228.3 L401.3 227.8 L400.4 227.3 L399.5 226.7 L398.7 226.2 L397.8 225.7 L396.9 225.2 L395.7 224.8 L394.5 224.3 L393.4 224 L392.2 223.6 L391.2 223.3 L390.2 223.1 L389.4 222.9 L388.7 223 L388.3 223.6 L388.7 224.2 L389.4 224.8 L390.1 225.4 L391 226.1 L392 226.7 L393 227.4 L394 228.1 L395.1 228.8 L395.8 229.2 L396.6 229.6 L397.4 230.1 L398.3 230.7 L399.2 231.3 L400.1 231.8 L401.1 232.4 L402.2 232.9 L403.3 233.3 L404.5 233.7 L405.6 234 L406.8 234.1 L407.9 234.2 L409 234.2 L410.1 234.2 L411.2 234.1 L412.3 233.9 L413.5 233.8 L414.6 233.6 L415.7 233.4 L416.8 233.2 L417.8 233 L418.9 232.8 L419.9 232.6 L420.9 232.4 L421.9 232.1 L422.9 231.9 L424 231.6 L425 231.4 L426 231.1 L427.1 230.8 L428.1 230.4 L429.1 230.1 L430.1 229.7 L431 229.2 L431.9 228.8 L433 228.2 L434 227.5 L435 226.8 L435.9 226.1 L436.8 225.4 L437.7 224.6 L438.5 223.8 L439.3 223 L440 222.3 L440.7 221.5 L441.4 220.8 L442.1 219.7 L442.8 218.7 L443.4 217.7 L443.8 216.7 L444.2 215.7 L444.6 214.8 L444.9 213.8 L445.4 212.8 L445.8 211.8 L446.2 210.7 L446.5 209.6 L446.8 208.3 L447.1 207.1 L447.3 205.9 L447.5 204.7 L447.7 203.7 L447.7 202.9 L447.6 202.1Z"/><path d="M443.8 189.6 L444.4 189.1 L444.9 188.4 L445.4 187.5 L445.9 186.5 L446.5 185.4 L447 184.3 L447.6 183.3 L448.1 182.3 L448.6 181.4 L449 180.7 L449.6 179.9 L450.2 179.2 L450.9 178.5 L451.6 177.9 L452.4 177.2 L453.2 176.7 L454 176.1 L454.8 175.6 L455.7 175.2 L456.5 174.8 L457.4 174.4 L458.3 174.1 L459.3 173.8 L460.2 173.5 L461.2 173.3 L462.2 173.1 L463.1 173 L464 172.9 L464.8 172.9 L465.7 172.9 L466.7 173 L467.6 173.1 L468.4 173.3 L469.3 173.5 L470.1 173.8 L470.8 174.1 L471.6 174.5 L472.3 175 L472.9 175.5 L473.6 176.1 L474.3 176.8 L475 177.5 L475.6 178.3 L476.2 179.1 L476.7 179.9 L477.2 180.8 L477.5 181.6 L477.8 182.5 L477.9 183.2 L478 184 L478 184.8 L477.9 185.7 L477.9 186.7 L477.7 187.7 L477.5 188.7 L477.4 189.8 L477.1 190.9 L476.9 191.9 L476.7 193 L476.5 194.1 L476.3 195 L476 196 L475.8 197 L475.5 198 L475.2 199 L474.9 200 L474.6 201 L474.3 202 L474 203 L473.6 203.9 L473.4 204.8 L473.1 205.6 L473 206.4 L472.7 207.9 L472.4 209.3 L472.2 210.5 L472 211.5 L471.9 212.4 L472 213.2 L472.6 213.4 L473.2 213 L473.8 212.3 L474.5 211.4 L475.1 210.3 L475.9 209.1 L476.6 207.6 L477 206.9 L477.3 206.1 L477.6 205.2 L477.9 204.3 L478.2 203.3 L478.5 202.3 L478.9 201.2 L479.2 200.2 L479.5 199.1 L479.8 198 L480.1 197 L480.3 195.9 L480.5 194.9 L480.8 193.9 L481 192.8 L481.2 191.7 L481.4 190.6 L481.6 189.5 L481.8 188.3 L482 187.2 L482.1 186 L482.1 184.9 L482.1 183.8 L482 182.6 L481.8 181.5 L481.4 180.3 L481 179 L480.4 177.9 L479.7 176.8 L478.9 175.8 L478.1 174.8 L477.3 173.9 L476.4 173.1 L475.6 172.3 L474.7 171.6 L473.7 170.9 L472.7 170.4 L471.6 169.9 L470.5 169.5 L469.4 169.2 L468.2 169 L467.1 168.8 L465.9 168.7 L464.8 168.7 L463.7 168.8 L462.6 168.9 L461.5 169 L460.3 169.2 L459.2 169.5 L458.1 169.8 L457 170.2 L455.9 170.5 L454.9 171 L453.9 171.4 L452.8 172 L451.8 172.6 L450.8 173.2 L449.8 173.9 L448.9 174.7 L448 175.5 L447.1 176.4 L446.3 177.3 L445.6 178.3 L444.9 179.4 L444.4 180.5 L443.9 181.8 L443.6 183.1 L443.4 184.4 L443.2 185.6 L443.1 186.8 L443 187.8 L443 188.7 L443.2 189.4Z"/><path d="M433.3 132.3 L433.6 132.9 L434.1 133.5 L434.8 134.2 L435.6 134.9 L436.4 135.7 L437.2 136.5 L438.1 137.3 L439 138.1 L440 138.8 L440.8 139.5 L441.6 140.2 L442.3 140.8 L443.1 141.5 L443.7 142.3 L444.4 143.2 L445 144 L445.6 144.9 L446.3 145.8 L447 146.7 L447.8 147.6 L448.8 148.4 L449.9 149.1 L451.1 149.5 L452.3 149.8 L453.3 150 L454.3 150.2 L455.1 150.4 L455.8 150.7 L456.5 151.2 L457.2 151.9 L457.5 152.4 L457.9 153.1 L458.3 153.9 L458.7 154.8 L459.1 155.8 L459.5 156.9 L459.9 158 L460.3 159.1 L460.8 160.3 L461.3 161.4 L461.8 162.4 L462.3 163.4 L462.7 164.4 L463.2 165.3 L463.6 166 L464 166.7 L464.5 167.1 L465.1 166.9 L465.2 166.2 L465.1 165.5 L465 164.6 L464.9 163.7 L464.7 162.6 L464.5 161.5 L464.3 160.4 L464 159.2 L463.6 158 L463.2 156.8 L462.8 155.6 L462.3 154.5 L461.9 153.4 L461.4 152.4 L460.9 151.4 L460.4 150.5 L459.8 149.7 L458.8 148.5 L457.5 147.7 L456.3 147.1 L455.1 146.8 L454 146.5 L453 146.4 L452.1 146.2 L451.4 145.9 L450.8 145.6 L450.2 145.1 L449.6 144.4 L449 143.7 L448.5 142.9 L447.8 142 L447.2 141.1 L446.5 140.1 L445.6 139.2 L444.7 138.2 L443.9 137.5 L443 136.8 L442.1 136.1 L441.1 135.3 L440 134.7 L439 134.1 L437.9 133.5 L436.9 133 L436 132.5 L435.1 132.1 L434.4 131.8 L433.7 131.7Z"/><path d="M458.4 147.3 L459 147.8 L459.7 148.1 L460.6 148.4 L461.6 148.7 L462.7 149 L463.8 149.3 L465 149.6 L466.2 149.9 L467.4 150.1 L468.6 150.3 L469.7 150.6 L470.8 150.9 L471.7 151.2 L472.5 151.5 L473.1 151.9 L473.5 152.2 L473.9 152.6 L474.1 153.1 L474.3 153.7 L474.5 154.4 L474.5 155.3 L474.6 156.3 L474.5 157.3 L474.5 158.5 L474.5 159.7 L474.6 161 L474.8 162.4 L475.1 163.8 L475.5 165.1 L475.9 166 L476.3 166.9 L476.7 167.8 L477.1 168.7 L477.6 169.7 L478.1 170.6 L478.6 171.6 L479.2 172.5 L479.7 173.5 L480.3 174.4 L480.8 175.4 L481.4 176.3 L482 177.3 L482.6 178.2 L483.1 179.1 L483.7 179.9 L484.2 180.8 L484.7 181.6 L485.2 182.3 L485.7 183.1 L486.5 184.2 L487.3 185.2 L488.1 186.2 L488.9 187.2 L489.8 188 L490.7 188.8 L491.6 189.5 L492.4 190.2 L493.2 190.7 L493.9 191.2 L494.5 191.7 L495.1 192 L495.7 192.2 L496.3 191.8 L496.1 191.1 L495.8 190.5 L495.3 189.8 L494.9 189.1 L494.3 188.3 L493.7 187.5 L493.1 186.6 L492.5 185.7 L491.8 184.7 L491 183.8 L490.3 182.9 L489.6 181.9 L488.9 180.9 L488.4 180.2 L487.9 179.5 L487.4 178.7 L486.9 177.9 L486.3 177 L485.8 176.2 L485.2 175.3 L484.6 174.4 L484.1 173.5 L483.5 172.5 L483 171.6 L482.5 170.7 L482 169.7 L481.5 168.8 L481 167.9 L480.5 167 L480.1 166.2 L479.7 165.3 L479.4 164.6 L479.1 163.9 L478.7 162.8 L478.5 161.8 L478.4 160.7 L478.3 159.6 L478.3 158.5 L478.3 157.4 L478.3 156.2 L478.3 155.1 L478.2 153.9 L478 152.7 L477.6 151.6 L477 150.4 L476.1 149.4 L475.2 148.7 L474.1 148.1 L473 147.7 L471.9 147.3 L470.6 146.9 L469.4 146.6 L468.1 146.4 L466.8 146.2 L465.5 146.1 L464.2 146.1 L463 146.2 L461.9 146.2 L460.9 146.3 L460 146.3 L459.2 146.4 L458.6 146.7Z"/><path d="M493.2 194.5 L492.9 195.1 L492.8 195.8 L492.7 196.5 L492.6 197.3 L492.6 198.2 L492.5 199.2 L492.5 200.2 L492.5 201.2 L492.5 202.3 L492.6 203.4 L492.7 204.6 L492.8 205.7 L493 206.9 L493.1 208.1 L493.2 209.2 L493.4 210.4 L493.5 211.6 L493.6 212.7 L493.7 213.8 L493.8 214.9 L493.9 215.9 L493.9 216.9 L494 217.8 L494 218.7 L494 219.5 L494 220.8 L494 222 L493.9 223.2 L493.9 224.3 L493.8 225.4 L493.7 226.4 L493.6 227.3 L493.5 228.2 L493.3 229.1 L493.1 229.9 L492.9 230.7 L492.7 231.5 L492.4 232.2 L492.1 232.9 L491.8 233.5 L491.3 234.3 L490.8 235 L490.2 235.6 L489.5 236.2 L488.8 236.8 L488 237.4 L487.2 237.9 L486.3 238.4 L485.4 238.9 L484.5 239.3 L483.6 239.7 L482.7 240.2 L481.8 240.5 L480.9 240.9 L479.9 241.2 L478.9 241.4 L477.9 241.7 L476.9 241.9 L475.8 242.1 L474.8 242.2 L473.8 242.3 L472.8 242.4 L471.9 242.5 L471 242.5 L470 242.4 L469 242.3 L467.9 242.2 L466.8 242.1 L465.7 242 L464.6 241.8 L463.6 241.7 L462.6 241.5 L461.8 241.5 L461.1 241.7 L460.9 242.3 L461.4 242.8 L462 243.3 L462.8 243.8 L463.7 244.3 L464.8 244.9 L465.9 245.4 L467.1 245.8 L468.3 246.3 L469.7 246.4 L471 246.5 L472 246.5 L473.1 246.4 L474.2 246.3 L475.3 246.2 L476.5 246 L477.6 245.8 L478.8 245.6 L479.9 245.3 L481.1 245 L482.2 244.7 L483.3 244.3 L484.3 243.8 L485.3 243.4 L486.3 242.9 L487.3 242.4 L488.3 241.9 L489.3 241.3 L490.3 240.7 L491.2 240 L492.1 239.3 L493 238.4 L493.8 237.5 L494.6 236.5 L495.2 235.5 L495.7 234.6 L496.1 233.7 L496.5 232.8 L496.8 231.9 L497 230.9 L497.2 229.9 L497.4 228.9 L497.6 227.9 L497.7 226.8 L497.8 225.7 L497.9 224.5 L497.9 223.3 L498 222.1 L498 220.8 L498 219.5 L498 218.6 L498 217.7 L497.9 216.7 L497.9 215.7 L497.8 214.6 L497.7 213.5 L497.6 212.3 L497.5 211.2 L497.4 210 L497.2 208.8 L497.1 207.6 L497 206.4 L496.8 205.2 L496.7 204.1 L496.6 202.9 L496.4 201.8 L496.1 200.8 L495.8 199.8 L495.6 198.8 L495.3 197.9 L495 197 L494.8 196.3 L494.5 195.6 L494.2 195 L493.8 194.5Z"/><path d="M496.2 219.8 L496.9 219.6 L497.7 219.3 L498.6 218.9 L499.6 218.4 L500.7 217.8 L501.8 217.2 L502.9 216.5 L504 215.9 L504.9 215.1 L505.8 214.4 L506.7 213.6 L507.6 212.5 L508.5 211.5 L509.2 210.5 L509.9 209.5 L510.5 208.7 L511 207.9 L511.3 207.2 L510.7 206.8 L510.1 207.1 L509.4 207.6 L508.6 208.3 L507.7 209 L506.7 209.8 L505.7 210.6 L504.8 211.4 L503.8 212.2 L503.1 212.8 L502.2 213.4 L501.2 214.2 L500.3 215 L499.3 215.8 L498.4 216.6 L497.6 217.3 L496.8 218 L496.2 218.6 L495.8 219.2Z"/><path d="M500.7 225.9 L500.5 226.5 L500.5 227.4 L500.5 228.3 L500.5 229.4 L500.6 230.6 L500.6 231.9 L500.7 233.2 L500.9 234.4 L501.2 235.7 L501.5 236.8 L501.8 237.9 L502.1 238.9 L502.9 240.3 L503.9 241.5 L504.9 242.5 L505.9 243.3 L506.8 243.9 L507.6 244.4 L508.2 244.7 L508.8 244.3 L508.5 243.6 L507.9 242.8 L507.2 241.9 L506.6 241 L505.9 240 L505.3 238.9 L504.9 237.7 L504.6 237 L504.4 236.1 L504.1 235 L503.9 233.8 L503.6 232.6 L503.2 231.4 L502.9 230.3 L502.6 229.1 L502.3 228.1 L502 227.1 L501.7 226.3 L501.3 225.7Z"/><path d="M511.3 236 L511.8 235.7 L512.5 235.3 L513.3 234.7 L514.1 234 L515 233.2 L515.9 232.2 L516.7 231.2 L517.4 230.1 L517.8 229.1 L518.1 228 L518.4 226.8 L518.6 225.6 L518.7 224.4 L518.8 223.2 L518.9 222.1 L518.9 221.1 L518.9 220.2 L518.8 219.6 L518.2 219.4 L517.8 220 L517.5 220.8 L517.1 221.7 L516.8 222.7 L516.4 223.9 L516 225 L515.6 226.1 L515.3 227.1 L515 228.1 L514.6 228.9 L514.3 229.8 L513.8 230.7 L513.2 231.7 L512.6 232.6 L512 233.4 L511.4 234.2 L511 234.9 L510.7 235.6Z"/><path d="M308.3 226.1 L308.8 226.6 L309.5 227.2 L310.3 227.7 L311.2 228.3 L312.2 228.9 L313.2 229.6 L314.2 230.2 L315.1 230.9 L316 231.6 L316.7 232.2 L317.3 232.9 L317.7 233.5 L318.1 234.3 L318.5 235.2 L318.8 236.2 L319.2 237.3 L319.6 238.4 L319.9 239.5 L320.3 240.6 L320.6 241.6 L320.9 242.5 L321.3 243.4 L321.6 244.1 L322 244.6 L322.6 244.4 L322.7 243.8 L322.7 243 L322.7 242.2 L322.6 241.2 L322.5 240.1 L322.4 238.9 L322.2 237.7 L322 236.5 L321.7 235.3 L321.3 234.2 L320.8 233.1 L320.3 232 L319.7 231.1 L318.9 230.1 L317.9 229.2 L316.8 228.4 L315.6 227.8 L314.4 227.3 L313.2 226.8 L312.1 226.4 L311.1 226 L310.1 225.8 L309.3 225.6 L308.7 225.5Z"/><path d="M308.3 186.1 L308.8 186.7 L309.4 187.3 L310.3 188 L311.3 188.8 L312.3 189.6 L313.5 190.2 L314.6 190.7 L315.9 191 L317.5 190.8 L318.9 190.2 L320.1 189.4 L321.1 188.6 L321.9 187.9 L322.5 187.3 L322.1 186.7 L321.3 186.8 L320.3 187.1 L319.1 187.5 L318 187.9 L316.9 188.1 L316.1 188 L315.5 187.9 L314.6 187.6 L313.5 187.2 L312.4 186.8 L311.3 186.3 L310.3 185.9 L309.4 185.6 L308.7 185.5Z"/><path d="M314.5 189.4 L314 190 L313.6 190.8 L313.1 191.8 L312.7 193 L312.2 194.2 L312 195.5 L311.9 196.8 L311.8 198 L311.8 199.1 L311.8 200 L312 200.7 L312.6 200.9 L313.1 200.3 L313.5 199.5 L314 198.5 L314.4 197.3 L314.9 196.1 L315.1 194.8 L315.2 193.5 L315.3 192.3 L315.3 191.2 L315.3 190.3 L315.1 189.6Z"/><path d="M346.1 232.3 L346.8 232.3 L347.5 232.2 L348.3 232 L349.2 231.8 L350.1 231.5 L351.1 231.2 L352.2 230.8 L353.3 230.5 L354.4 230.1 L355.5 229.6 L356.6 229.2 L357.7 228.8 L358.7 228.3 L359.7 227.9 L360.6 227.6 L361.5 227.3 L362.6 226.9 L363.7 226.5 L364.8 226.2 L365.9 225.8 L367 225.4 L368 225 L369.1 224.6 L370 224.2 L370.9 223.8 L371.8 223.4 L372.5 223.1 L373.1 222.7 L373.6 222.3 L373.4 221.7 L372.8 221.6 L372.1 221.6 L371.3 221.7 L370.4 221.8 L369.4 222 L368.4 222.2 L367.3 222.4 L366.1 222.6 L365 222.9 L363.8 223.2 L362.7 223.6 L361.6 224 L360.5 224.3 L359.6 224.7 L358.6 225.1 L357.6 225.5 L356.5 225.9 L355.4 226.3 L354.3 226.8 L353.2 227.3 L352.1 227.8 L351.1 228.3 L350.1 228.9 L349.2 229.4 L348.4 229.9 L347.6 230.4 L346.9 230.8 L346.3 231.2 L345.9 231.7Z"/><path d="M190.1 272.8 L190.8 273 L191.6 273 L192.5 272.9 L193.5 272.8 L194.7 272.7 L195.8 272.6 L197 272.4 L198.2 272.3 L199.4 272.1 L200.5 271.9 L201.5 271.8 L202.5 271.8 L203.4 271.8 L204.3 271.9 L205.2 272.1 L206.1 272.2 L207.1 272.5 L208 272.7 L209.1 273 L210.1 273.3 L211.2 273.6 L212.3 273.8 L213.5 274.1 L214.7 274.3 L215.7 274.4 L216.7 274.5 L217.7 274.6 L218.7 274.7 L219.8 274.9 L220.9 275 L222 275.1 L223.1 275.2 L224.2 275.3 L225.3 275.3 L226.3 275.4 L227.4 275.5 L228.4 275.5 L229.4 275.6 L230.4 275.6 L231.3 275.6 L232.6 275.6 L233.9 275.5 L235.2 275.3 L236.4 275 L237.6 274.8 L238.7 274.4 L239.7 274.1 L240.6 273.8 L241.3 273.5 L242 273.2 L242.5 272.8 L242.5 272.2 L241.8 271.9 L241.1 271.9 L240.2 271.8 L239.3 271.8 L238.3 271.9 L237.2 271.9 L236 271.9 L234.9 271.9 L233.7 271.9 L232.5 272 L231.3 272 L230.4 272 L229.5 272 L228.6 272 L227.6 271.9 L226.6 271.8 L225.5 271.8 L224.5 271.7 L223.4 271.6 L222.3 271.5 L221.2 271.4 L220.2 271.3 L219.1 271.2 L218.1 271.1 L217.1 271 L216.1 270.9 L215.3 270.7 L214.1 270.6 L213.1 270.4 L212 270.1 L211 269.8 L210 269.6 L209 269.3 L208 269 L206.9 268.8 L205.9 268.5 L204.8 268.4 L203.7 268.3 L202.5 268.2 L201.3 268.3 L200.1 268.4 L198.8 268.6 L197.5 268.8 L196.3 269.2 L195.1 269.6 L194 270.1 L192.9 270.5 L192 270.9 L191.1 271.3 L190.4 271.7 L189.9 272.2Z"/><path d="M231.5 274.1 L232.4 273.9 L233.4 273.3 L234.5 272.6 L235.6 271.9 L236.7 271.3 L237.5 271 L238 271 L238.4 270.9 L239 271.1 L239.8 271.4 L240.7 271.8 L241.6 272.4 L242.4 273 L243 273.5 L243.6 274.2 L244.2 275 L244.8 275.8 L245.5 276.8 L246.3 277.8 L247.1 278.9 L247.7 279.6 L248.2 280.4 L248.8 281.3 L249.5 282.2 L250.2 283.1 L250.9 284 L251.7 285 L252.6 285.9 L253.6 286.7 L254.5 287.4 L255.3 287.9 L256.2 288.5 L257.2 289.1 L258.1 289.6 L259.1 290.1 L260.1 290.6 L261.2 291 L262.2 291.4 L263.3 291.8 L264.4 292.1 L265.5 292.4 L266.6 292.6 L267.7 292.7 L268.8 292.9 L269.9 292.9 L271 293 L272.1 293.1 L273.1 293.1 L274.2 293.2 L275.2 293.2 L276.2 293.3 L277.2 293.5 L278.2 293.6 L279.2 293.8 L280.2 294 L281.2 294.2 L282.2 294.5 L283.3 294.7 L284.3 294.9 L285.4 295.2 L286.4 295.4 L287.5 295.6 L288.6 295.8 L289.7 296 L290.7 296.1 L291.8 296.3 L292.8 296.4 L293.9 296.6 L295 296.7 L296 296.8 L297.1 296.9 L298.2 297 L299.2 297.1 L300.3 297.2 L301.4 297.2 L302.5 297.2 L303.6 297.2 L304.6 297.2 L305.7 297.1 L306.8 297.1 L307.9 297 L309 296.9 L310 296.8 L311.1 296.7 L312.2 296.5 L313.3 296.3 L314.4 296.2 L315.4 296 L316.4 295.7 L317.4 295.5 L318.4 295.3 L319.4 295 L320.4 294.7 L321.4 294.4 L322.4 294.1 L323.4 293.8 L324.4 293.4 L325.3 293.1 L326.3 292.8 L327.3 292.4 L328.2 292.1 L329.3 291.7 L330.3 291.3 L331.3 290.9 L332.2 290.4 L333.2 290 L334.2 289.6 L335.1 289.1 L336.1 288.7 L337 288.3 L337.9 288 L338.8 287.7 L339.7 287.4 L340.5 287.1 L341.5 286.9 L342.5 286.7 L343.5 286.5 L344.6 286.4 L345.6 286.2 L346.6 286.1 L347.6 286 L348.6 286 L349.6 286 L350.6 285.9 L351.5 286 L352.4 286 L353.4 286.1 L354.4 286.2 L355.3 286.4 L356.3 286.6 L357.2 286.9 L358.2 287.1 L359.1 287.4 L360 287.7 L360.9 288.1 L361.7 288.4 L362.8 288.7 L363.9 289 L365.1 289.3 L366.2 289.6 L367.2 289.9 L368.2 290.2 L369.1 290.4 L369.8 290.3 L370.2 289.7 L369.8 289 L369.2 288.4 L368.4 287.7 L367.6 287 L366.6 286.2 L365.5 285.5 L364.4 284.8 L363.3 284.2 L362.3 283.9 L361.4 283.6 L360.5 283.3 L359.4 282.9 L358.4 282.6 L357.3 282.3 L356.2 282.1 L355 281.9 L353.9 281.7 L352.6 281.6 L351.6 281.6 L350.6 281.5 L349.5 281.6 L348.4 281.6 L347.3 281.7 L346.2 281.7 L345.1 281.9 L344 282 L342.8 282.2 L341.7 282.4 L340.6 282.6 L339.5 282.9 L338.4 283.2 L337.4 283.5 L336.3 283.9 L335.3 284.3 L334.3 284.7 L333.3 285.1 L332.4 285.5 L331.4 286 L330.4 286.4 L329.5 286.8 L328.6 287.2 L327.7 287.6 L326.8 287.9 L325.8 288.3 L324.8 288.6 L323.9 288.9 L322.9 289.3 L322 289.6 L321.1 289.9 L320.1 290.2 L319.2 290.5 L318.2 290.7 L317.3 291 L316.4 291.2 L315.5 291.4 L314.6 291.6 L313.6 291.8 L312.6 292 L311.6 292.2 L310.6 292.3 L309.5 292.4 L308.5 292.5 L307.5 292.6 L306.5 292.7 L305.5 292.7 L304.5 292.8 L303.5 292.8 L302.5 292.8 L301.5 292.8 L300.5 292.8 L299.5 292.7 L298.5 292.6 L297.5 292.5 L296.5 292.4 L295.5 292.3 L294.4 292.2 L293.4 292.1 L292.4 291.9 L291.4 291.8 L290.3 291.6 L289.3 291.5 L288.3 291.3 L287.3 291.1 L286.3 290.9 L285.3 290.6 L284.2 290.4 L283.2 290.2 L282.1 289.9 L281.1 289.7 L280 289.5 L278.9 289.3 L277.8 289.1 L276.7 289 L275.6 288.9 L274.5 288.8 L273.4 288.7 L272.3 288.7 L271.2 288.6 L270.2 288.5 L269.2 288.5 L268.2 288.4 L267.3 288.2 L266.4 288.1 L265.6 287.9 L264.7 287.6 L263.7 287.3 L262.8 286.9 L261.9 286.5 L261 286.1 L260.2 285.7 L259.3 285.2 L258.5 284.8 L257.8 284.3 L257 283.8 L256.4 283.3 L255.6 282.7 L254.9 282 L254.3 281.2 L253.7 280.4 L253 279.6 L252.4 278.7 L251.8 277.8 L251.2 277 L250.5 276.1 L249.8 275.2 L249.1 274.2 L248.4 273.3 L247.7 272.3 L247 271.3 L246.1 270.4 L245.2 269.6 L244.1 268.8 L242.9 268 L241.6 267.3 L240.2 266.8 L238.7 266.5 L237 266.6 L235.6 267.3 L234.4 268.3 L233.4 269.4 L232.5 270.6 L231.8 271.7 L231.3 272.7 L231.1 273.5Z"/><path d="M247.2 260 L247 260.7 L246.9 261.4 L246.8 262.4 L246.8 263.4 L246.8 264.5 L246.8 265.7 L246.8 266.9 L246.9 268.1 L247.1 269.2 L247.3 270.3 L247.4 271.3 L247.6 272.3 L247.7 273.3 L247.9 274.4 L248 275.4 L248.3 276.5 L248.6 277.6 L248.9 278.7 L249.4 279.8 L250 280.8 L250.7 281.8 L251.5 282.7 L252.4 283.6 L253.4 284.4 L254.5 285.1 L255.5 285.7 L256.6 286.3 L257.5 286.8 L258.4 287.3 L259.1 287.6 L259.8 287.8 L260.2 287.2 L259.9 286.6 L259.3 286 L258.6 285.3 L257.9 284.6 L257 283.8 L256.2 282.9 L255.3 282.1 L254.5 281.3 L253.8 280.5 L253.1 279.8 L252.6 279.2 L252.2 278.4 L251.8 277.6 L251.6 276.7 L251.3 275.8 L251.1 274.9 L251 273.9 L250.8 272.9 L250.7 271.8 L250.5 270.8 L250.3 269.7 L250.2 268.7 L250 267.6 L249.7 266.5 L249.5 265.4 L249.2 264.2 L248.9 263.2 L248.7 262.2 L248.4 261.3 L248.2 260.5 L247.8 260Z"/><path d="M249.1 260.2 L249.7 259.8 L250.4 259.2 L251 258.5 L251.8 257.6 L252.5 256.8 L253.3 255.9 L254.1 255 L254.9 254.2 L255.6 253.4 L256.3 252.7 L256.9 252.2 L257.6 251.7 L258.3 251.2 L259.1 250.8 L259.9 250.3 L260.7 249.9 L261.6 249.5 L262.5 249.2 L263.5 248.8 L264.5 248.5 L265.5 248.1 L266.4 247.9 L267.2 247.7 L268.2 247.4 L269.2 247.2 L270.2 247 L271.2 246.8 L272.3 246.6 L273.3 246.5 L274.4 246.3 L275.4 246.2 L276.5 246 L277.4 245.9 L278.4 245.8 L279.3 245.8 L280.1 245.7 L281.2 245.7 L282.3 245.6 L283.3 245.7 L284.2 245.7 L285.1 245.8 L285.9 245.9 L286.8 246.1 L287.6 246.3 L288.5 246.5 L289.4 246.8 L290.3 247.1 L291.2 247.4 L292.1 247.8 L293 248.3 L294 248.7 L294.9 249.2 L295.8 249.7 L296.7 250.2 L297.5 250.7 L298.3 251.1 L299 251.5 L300 252 L300.9 252.6 L301.8 253.3 L302.6 253.9 L303.4 254.5 L304.1 255 L304.7 255.2 L305.3 254.8 L305.1 254.1 L304.8 253.4 L304.3 252.5 L303.7 251.5 L302.9 250.5 L302.1 249.5 L301 248.5 L300.3 247.9 L299.5 247.4 L298.6 246.9 L297.7 246.4 L296.7 245.8 L295.7 245.3 L294.7 244.8 L293.6 244.3 L292.6 243.9 L291.6 243.5 L290.6 243.2 L289.5 242.9 L288.5 242.6 L287.6 242.4 L286.6 242.2 L285.6 242 L284.5 241.9 L283.5 241.9 L282.3 241.8 L281.2 241.8 L279.9 241.9 L279 242 L278 242 L277 242.1 L276 242.2 L274.9 242.4 L273.8 242.5 L272.7 242.7 L271.6 242.9 L270.5 243.1 L269.4 243.3 L268.4 243.5 L267.3 243.7 L266.3 244 L265.4 244.2 L264.5 244.5 L263.3 244.8 L262.2 245.2 L261.1 245.6 L260.1 246 L259.1 246.5 L258.1 246.9 L257.2 247.5 L256.3 248 L255.4 248.6 L254.6 249.2 L253.7 249.9 L252.8 250.7 L252 251.7 L251.2 252.8 L250.6 254 L250 255.2 L249.5 256.3 L249.1 257.3 L248.8 258.3 L248.6 259.1 L248.5 259.8Z"/><path d="M304.7 254.9 L304.3 255.4 L303.9 256.2 L303.4 257.1 L302.9 258.1 L302.5 259.2 L302 260.4 L301.6 261.5 L301.2 262.7 L301.1 263.9 L301 265 L301.1 266.4 L301.3 267.7 L301.7 269 L302.1 270.2 L302.6 271.3 L303.2 272.3 L303.8 273.3 L304.6 274.2 L305.5 275.1 L306.5 275.9 L307.5 276.5 L308.4 277.1 L309.1 277.5 L309.8 277.8 L310.2 277.2 L309.9 276.6 L309.4 275.9 L308.7 275.1 L308 274.3 L307.3 273.4 L306.7 272.6 L306.2 271.7 L305.8 270.9 L305.3 270 L304.9 269 L304.5 268.1 L304.2 267.1 L304.1 266.1 L304 265 L304.1 264.2 L304.2 263.3 L304.4 262.2 L304.5 261 L304.7 259.9 L305 258.7 L305.1 257.6 L305.3 256.6 L305.4 255.8 L305.3 255.1Z"/><path d="M279.7 265 L279.4 265.6 L279.2 266.4 L279 267.3 L278.9 268.4 L278.7 269.5 L278.5 270.7 L278.4 271.9 L278.3 273.1 L278.3 274.3 L278.4 275.4 L278.5 276.5 L278.7 277.7 L278.9 278.8 L279.2 279.9 L279.5 281 L279.8 282 L280.1 283 L280.5 283.9 L280.9 284.7 L281.3 285.5 L282 286.8 L282.8 288 L283.5 288.9 L284.1 289.7 L284.7 290.2 L285.3 289.8 L285.2 289.1 L284.9 288.1 L284.5 287.1 L284.1 285.9 L283.7 284.5 L283.5 283.7 L283.3 282.9 L283 282 L282.7 281.1 L282.4 280.1 L282.1 279.1 L281.9 278.1 L281.7 277.1 L281.5 276.1 L281.4 275.2 L281.4 274.2 L281.3 273.1 L281.2 271.9 L281.1 270.7 L281 269.6 L280.9 268.4 L280.8 267.4 L280.7 266.4 L280.6 265.6 L280.3 265Z"/><path d="M300.1 250.3 L300.7 250.6 L301.4 250.7 L302.3 250.8 L303.2 250.8 L304.3 250.8 L305.4 250.8 L306.5 250.8 L307.7 250.7 L308.8 250.6 L310 250.4 L311.1 250.2 L312.2 250.1 L313.3 249.9 L314.3 249.8 L315.2 249.7 L316.2 249.6 L317.2 249.6 L318.2 249.6 L319.2 249.7 L320.2 249.8 L321.2 249.9 L322.3 249.9 L323.4 250 L324.5 250 L325.6 250 L326.7 249.8 L327.9 249.7 L329 249.4 L330 249.1 L331.1 248.8 L332.1 248.5 L333.1 248.1 L334.1 247.7 L335.1 247.3 L336.1 246.8 L337.1 246.4 L338.1 245.9 L339 245.4 L340 244.9 L341 244.5 L341.9 244 L342.8 243.5 L343.8 243 L344.7 242.4 L345.6 241.9 L346.5 241.3 L347.4 240.8 L348.3 240.2 L349.2 239.6 L350.1 239.1 L351 238.5 L351.9 238 L352.8 237.4 L353.6 236.9 L354.5 236.3 L355.4 235.8 L356.3 235.2 L357.2 234.6 L358.1 234.1 L359 233.5 L359.9 233 L360.8 232.4 L361.7 231.9 L362.5 231.4 L363.4 230.9 L364.3 230.4 L365.1 229.9 L366 229.5 L367 229 L367.9 228.5 L368.9 228 L369.8 227.5 L370.7 227.1 L371.7 226.7 L372.6 226.3 L373.5 225.9 L374.4 225.6 L375.3 225.3 L376.1 225 L377 224.8 L377.8 224.7 L378.8 224.6 L379.7 224.5 L380.6 224.5 L381.6 224.5 L382.5 224.5 L383.5 224.6 L384.5 224.8 L385.4 224.9 L386.4 225.1 L387.4 225.4 L388.4 225.6 L389.3 225.9 L390.2 226.2 L391.2 226.6 L392.2 227 L393.3 227.5 L394.4 228.1 L395.5 228.5 L396.7 228.9 L397.8 229.3 L398.9 229.6 L399.9 230 L400.8 230.2 L401.6 230.4 L402.3 230.3 L402.7 229.7 L402.3 229.1 L401.8 228.5 L401.1 227.8 L400.3 227.1 L399.4 226.4 L398.5 225.6 L397.4 224.9 L396.4 224.2 L395.2 223.6 L394.1 223 L392.9 222.5 L391.7 222.1 L390.7 221.7 L389.5 221.4 L388.4 221.1 L387.3 220.8 L386.2 220.6 L385.1 220.4 L384 220.3 L382.9 220.2 L381.8 220.1 L380.6 220.1 L379.5 220.1 L378.3 220.2 L377.2 220.3 L376.1 220.5 L375 220.8 L374 221.1 L372.9 221.4 L371.9 221.8 L370.9 222.2 L369.9 222.7 L368.9 223.1 L367.9 223.6 L366.9 224.1 L365.9 224.6 L365 225.1 L364 225.5 L363.1 226 L362.2 226.5 L361.2 227 L360.3 227.6 L359.4 228.1 L358.5 228.7 L357.6 229.2 L356.7 229.8 L355.8 230.4 L354.9 230.9 L354 231.5 L353.1 232 L352.2 232.6 L351.4 233.1 L350.5 233.7 L349.6 234.2 L348.7 234.8 L347.8 235.4 L346.9 235.9 L346 236.5 L345.1 237 L344.2 237.6 L343.3 238.1 L342.5 238.6 L341.6 239.1 L340.7 239.6 L339.9 240.1 L339 240.5 L338.1 241 L337.1 241.5 L336.2 241.9 L335.2 242.4 L334.3 242.8 L333.4 243.2 L332.4 243.6 L331.5 244 L330.6 244.3 L329.7 244.6 L328.8 244.9 L327.9 245.1 L327.1 245.3 L326.2 245.5 L325.3 245.6 L324.4 245.6 L323.5 245.6 L322.6 245.5 L321.6 245.5 L320.6 245.4 L319.5 245.3 L318.4 245.2 L317.2 245.2 L316 245.2 L314.8 245.3 L313.8 245.4 L312.7 245.5 L311.6 245.7 L310.4 245.9 L309.3 246.1 L308.1 246.3 L306.9 246.6 L305.8 246.9 L304.7 247.3 L303.7 247.7 L302.7 248.1 L301.9 248.5 L301.1 248.8 L300.4 249.2 L299.9 249.7Z"/><path d="M340.3 242.6 L340.8 242.1 L341.3 241.4 L341.8 240.5 L342.3 239.5 L342.9 238.4 L343.4 237.3 L344 236.1 L344.5 235 L344.9 234 L345.2 233 L345.5 231.7 L345.9 230.4 L346.1 229.1 L346.4 227.9 L346.6 226.8 L346.7 225.8 L346.6 225.1 L346 224.9 L345.5 225.5 L345.1 226.3 L344.6 227.3 L344.1 228.4 L343.5 229.6 L343 230.8 L342.4 232 L342 232.9 L341.7 234 L341.3 235.1 L341 236.3 L340.6 237.5 L340.3 238.7 L340 239.8 L339.8 240.8 L339.7 241.7 L339.7 242.4Z"/><path d="M339.9 251.6 L340.2 252.2 L340.9 252.8 L341.6 253.3 L342.4 253.9 L343.3 254.4 L344.2 255 L345.2 255.7 L346.2 256.3 L347.2 256.9 L348.3 257.4 L349.3 258 L350.3 258.6 L351.2 259.3 L351.8 259.8 L352.5 260.4 L353.2 261 L353.9 261.7 L354.6 262.5 L355.3 263.3 L356 264.1 L356.7 264.9 L357.5 265.8 L358.2 266.6 L359 267.5 L359.7 268.3 L360.5 269.1 L361.3 269.8 L362.1 270.6 L362.9 271.2 L363.8 271.8 L364.9 272.5 L366 273.1 L367 273.6 L368.1 274 L369.2 274.3 L370.2 274.6 L371.2 274.9 L372.3 275.1 L373.3 275.3 L374.2 275.4 L375.2 275.6 L376.1 275.8 L377.1 276 L378.1 276.2 L379.1 276.4 L380.1 276.5 L381.1 276.7 L382.1 276.9 L383.1 277 L384.2 277.1 L385.2 277.2 L386.4 277.2 L387.5 277.2 L388.8 277.2 L390.1 277.2 L391 277.2 L392 277.1 L392.9 277 L393.9 276.9 L395 276.8 L396 276.7 L397.1 276.6 L398.2 276.5 L399.3 276.3 L400.4 276.2 L401.5 276 L402.6 275.8 L403.7 275.6 L404.9 275.5 L406 275.3 L407.1 275.1 L408.2 274.9 L409.2 274.7 L410.2 274.5 L411.3 274.2 L412.3 274 L413.4 273.8 L414.5 273.6 L415.5 273.3 L416.6 273.1 L417.7 272.8 L418.8 272.5 L419.8 272.3 L420.9 272 L421.9 271.7 L423 271.4 L424 271.1 L425 270.8 L425.9 270.5 L426.9 270.2 L427.8 269.9 L428.7 269.6 L429.8 269.1 L431 268.6 L432 268.1 L433 267.5 L433.9 267 L434.8 266.5 L435.7 265.9 L436.5 265.4 L437.3 264.9 L438.1 264.4 L438.8 264 L439.6 263.6 L440.4 263.2 L441.2 262.8 L442.1 262.5 L443.1 262.1 L444.1 261.7 L445.2 261.4 L446.3 261 L447.3 260.5 L448.3 260 L449.3 259.6 L450.2 259.1 L451.1 258.7 L451.8 258.3 L452.4 257.9 L452.9 257.3 L452.7 256.7 L452.1 256.5 L451.3 256.4 L450.5 256.4 L449.5 256.5 L448.5 256.5 L447.4 256.6 L446.2 256.8 L445.1 256.9 L443.9 257.2 L442.7 257.6 L441.6 257.9 L440.5 258.3 L439.4 258.8 L438.5 259.2 L437.6 259.7 L436.7 260.2 L435.8 260.7 L435 261.2 L434.2 261.7 L433.3 262.2 L432.5 262.7 L431.7 263.2 L430.9 263.7 L430 264.2 L429.1 264.6 L428.1 265 L427.1 265.4 L426.3 265.7 L425.5 266 L424.6 266.3 L423.7 266.6 L422.7 266.9 L421.7 267.2 L420.8 267.5 L419.7 267.7 L418.7 268 L417.7 268.3 L416.6 268.5 L415.6 268.8 L414.5 269 L413.5 269.3 L412.4 269.5 L411.4 269.7 L410.4 269.9 L409.4 270.1 L408.4 270.3 L407.3 270.5 L406.3 270.7 L405.2 270.9 L404.1 271.1 L403 271.3 L401.9 271.5 L400.8 271.6 L399.8 271.8 L398.7 272 L397.6 272.1 L396.6 272.2 L395.5 272.3 L394.5 272.5 L393.5 272.6 L392.6 272.6 L391.7 272.7 L390.8 272.8 L389.9 272.8 L388.7 272.8 L387.6 272.8 L386.5 272.8 L385.5 272.8 L384.5 272.7 L383.6 272.6 L382.7 272.5 L381.8 272.4 L380.9 272.2 L379.9 272 L378.9 271.8 L377.9 271.6 L376.9 271.5 L376 271.3 L375 271.1 L374.1 270.9 L373.1 270.8 L372.2 270.6 L371.3 270.4 L370.5 270.1 L369.6 269.8 L368.7 269.5 L367.9 269.1 L367 268.7 L366.2 268.2 L365.6 267.7 L365 267.2 L364.3 266.6 L363.6 266 L362.9 265.3 L362.2 264.5 L361.5 263.7 L360.8 262.9 L360 262 L359.3 261.2 L358.6 260.3 L357.8 259.5 L357 258.7 L356.3 257.9 L355.5 257.1 L354.7 256.4 L353.8 255.7 L352.7 255 L351.6 254.3 L350.4 253.6 L349.2 253 L348.1 252.4 L346.8 252 L345.6 251.7 L344.5 251.5 L343.5 251.2 L342.5 251.1 L341.6 250.9 L340.9 250.9 L340.1 251Z"/><path d="M350.1 252.8 L350.8 252.8 L351.6 252.6 L352.6 252.4 L353.6 252.1 L354.8 251.8 L355.9 251.4 L357.1 251 L358.3 250.5 L359.3 249.9 L360.2 249.3 L361.1 248.5 L362 247.2 L362.5 245.8 L362.8 244.4 L363 243 L363 241.8 L362.9 240.8 L362.8 240.1 L362.2 239.9 L361.7 240.6 L361.4 241.5 L361 242.6 L360.6 243.8 L360.2 244.9 L359.6 245.8 L358.9 246.5 L358.4 246.9 L357.7 247.4 L356.8 247.9 L355.9 248.4 L354.9 249 L353.8 249.6 L352.8 250.2 L351.9 250.7 L351 251.2 L350.3 251.7 L349.9 252.2Z"/><path d="M364.7 270.2 L365 270.9 L365.6 271.7 L366.3 272.5 L367 273.3 L367.8 274.3 L368.5 275.2 L369.1 276.2 L369.5 277 L369.9 277.9 L370 278.6 L370 279.5 L370 280.5 L369.9 281.6 L369.8 282.8 L369.8 284 L369.7 285.2 L369.6 286.4 L369.5 287.5 L369.5 288.4 L369.5 289.3 L369.7 290 L370.3 290 L370.7 289.5 L371 288.7 L371.3 287.8 L371.6 286.8 L372 285.6 L372.3 284.4 L372.6 283.2 L372.9 281.9 L373 280.6 L373 279.4 L372.9 278.2 L372.7 277.1 L372.3 275.8 L371.5 274.5 L370.6 273.5 L369.6 272.6 L368.5 271.8 L367.5 271.1 L366.6 270.5 L365.9 270 L365.3 269.8Z"/><path d="M375 279.1 L375.6 279.4 L376.4 279.4 L377.2 279.5 L378.1 279.5 L379.1 279.5 L380.2 279.5 L381.3 279.5 L382.5 279.5 L383.6 279.5 L384.8 279.3 L385.9 279.3 L387 279.2 L388.1 279.1 L389 279.1 L389.9 279.2 L390.9 279.2 L391.9 279.4 L392.9 279.6 L393.9 279.8 L394.9 280.1 L395.9 280.4 L397 280.7 L398 281 L399.1 281.3 L400.2 281.5 L401.3 281.6 L402.5 281.7 L403.7 281.6 L404.9 281.5 L406.2 281.3 L407.5 281.1 L408.7 280.7 L409.9 280.3 L411 279.8 L412 279.4 L413 279 L413.8 278.6 L414.5 278.3 L415.1 277.8 L414.9 277.2 L414.2 277 L413.4 277 L412.5 277.1 L411.5 277.2 L410.4 277.4 L409.2 277.5 L408 277.7 L406.8 277.8 L405.6 278 L404.5 278.2 L403.5 278.3 L402.5 278.3 L401.6 278.3 L400.7 278.2 L399.8 278 L398.8 277.8 L397.9 277.5 L396.9 277.2 L395.8 276.9 L394.8 276.6 L393.7 276.4 L392.5 276.1 L391.3 275.9 L390.1 275.8 L389 275.8 L388 275.8 L386.8 275.9 L385.7 276 L384.5 276.1 L383.3 276.2 L382.1 276.3 L381 276.6 L379.9 276.9 L378.8 277.1 L377.9 277.4 L377 277.6 L376.2 277.9 L375.5 278.1 L375 278.5Z"/><path d="M239.9 300.3 L240.3 300.8 L240.9 301.3 L241.7 301.7 L242.6 302.2 L243.5 302.8 L244.5 303.3 L245.6 303.9 L246.6 304.5 L247.8 305 L248.9 305.5 L249.9 306.1 L251 306.6 L251.9 307.1 L252.7 307.7 L253.4 308.2 L253.9 308.6 L254.6 309.4 L255.2 310.2 L255.8 311.2 L256.2 312.2 L256.7 313.3 L257.1 314.3 L257.4 315.3 L257.7 316.2 L258 317 L258.5 317.6 L259.1 317.4 L259.2 316.8 L259.2 316 L259.2 315 L259.1 313.9 L259 312.7 L258.8 311.4 L258.4 310.1 L257.9 308.8 L257.1 307.5 L256.1 306.4 L255.3 305.7 L254.4 305.1 L253.4 304.5 L252.4 303.9 L251.3 303.4 L250.2 302.8 L249 302.3 L247.9 301.7 L246.7 301.3 L245.5 301 L244.4 300.6 L243.4 300.3 L242.4 300.1 L241.5 299.9 L240.8 299.7 L240.1 299.7Z"/><path d="M218.8 316.6 L219.5 316.8 L220.4 316.9 L221.4 316.9 L222.5 316.9 L223.7 316.9 L225.1 316.8 L226.5 316.7 L227.8 316.5 L228.7 316.2 L229.7 316 L230.8 315.7 L231.9 315.4 L233 315 L234.1 314.6 L235.2 314.1 L236.3 313.6 L237.3 313.2 L238.2 312.8 L238.9 312.4 L239.6 312 L240.1 311.6 L239.9 311 L239.3 310.9 L238.5 311 L237.6 311.1 L236.6 311.3 L235.6 311.5 L234.5 311.7 L233.3 311.9 L232.2 312.2 L231.1 312.5 L230 312.8 L228.9 313.1 L228 313.3 L227.2 313.5 L225.9 313.9 L224.6 314.2 L223.4 314.5 L222.2 314.8 L221.2 315.1 L220.2 315.4 L219.4 315.6 L218.8 316Z"/><path d="M224.7 317.6 L224.6 318.3 L224.6 319.1 L224.8 320.1 L224.9 321.3 L225.1 322.4 L225.3 323.6 L225.5 324.8 L225.8 325.8 L226.1 326.6 L226.5 327.8 L227 329 L227.3 330.1 L227.7 331.1 L228.1 332 L228.5 332.6 L229.1 332.4 L229.3 331.7 L229.3 330.8 L229.3 329.8 L229.2 328.6 L229.1 327.3 L228.9 326 L228.7 325 L228.4 323.9 L228 322.9 L227.5 321.7 L227.1 320.6 L226.6 319.6 L226.2 318.7 L225.8 317.9 L225.3 317.4Z"/><path d="M327.8 355 L328.4 354.6 L328.9 353.9 L329.4 353.1 L329.9 352.2 L330.5 351.2 L331.1 350.1 L331.7 349 L332.3 348 L332.8 346.9 L333.4 346 L333.9 345.1 L334.5 344.4 L335 343.9 L335.6 343.4 L336.2 343 L336.9 342.7 L337.6 342.4 L338.4 342.2 L339.2 341.9 L340.1 341.7 L341.1 341.6 L342.1 341.4 L343.2 341.2 L344.3 341 L345.4 340.8 L346.6 340.6 L347.5 340.5 L348.4 340.3 L349.4 340.2 L350.4 340.1 L351.4 340 L352.5 339.9 L353.6 339.8 L354.7 339.7 L355.8 339.6 L357 339.4 L358.1 339.3 L359.2 339.2 L360.3 339.1 L361.4 338.9 L362.5 338.7 L363.5 338.5 L364.5 338.3 L365.5 338.1 L366.8 337.7 L368.1 337.2 L369.3 336.7 L370.5 336.1 L371.7 335.5 L372.7 334.7 L373.7 334 L374.6 333.3 L375.4 332.6 L376.1 332 L376.8 331.4 L377.3 330.9 L377.7 330.3 L377.3 329.7 L376.6 329.7 L375.9 329.9 L375.1 330.2 L374.2 330.6 L373.2 331 L372.2 331.4 L371.1 331.8 L370 332.3 L368.9 332.8 L367.8 333.3 L366.7 333.8 L365.6 334.2 L364.5 334.5 L363.7 334.7 L362.8 334.9 L361.9 335.1 L360.9 335.3 L359.8 335.4 L358.8 335.5 L357.7 335.7 L356.6 335.8 L355.5 335.9 L354.4 336 L353.2 336.1 L352.1 336.2 L351 336.3 L350 336.4 L348.9 336.5 L347.9 336.7 L346.9 336.8 L346 337 L344.8 337.2 L343.7 337.4 L342.6 337.6 L341.5 337.7 L340.4 337.9 L339.4 338.1 L338.4 338.3 L337.3 338.6 L336.3 338.9 L335.4 339.3 L334.4 339.8 L333.5 340.4 L332.6 341.1 L331.7 342 L330.9 343 L330.2 344.1 L329.6 345.2 L329 346.4 L328.5 347.7 L328.2 348.9 L327.9 350.1 L327.6 351.3 L327.4 352.3 L327.2 353.3 L327.1 354.1 L327.2 354.8Z"/><path d="M371 326.4 L371 327.2 L371.2 328 L371.5 329.1 L371.9 330.2 L372.3 331.4 L372.6 332.6 L372.9 333.7 L373.2 334.8 L373.4 335.7 L373.6 336.2 L373.5 337.1 L373.3 338 L372.8 338.9 L372.3 339.9 L371.7 340.8 L371.2 341.6 L371 342.3 L371.6 342.7 L372.2 342.4 L372.9 341.8 L373.7 341.1 L374.6 340.2 L375.5 339.1 L376.1 337.8 L376.4 336.4 L376.4 335.2 L376.1 334 L375.7 332.8 L375.1 331.6 L374.5 330.4 L373.9 329.3 L373.2 328.3 L372.6 327.4 L372.1 326.7 L371.6 326.2Z"/><path d="M408.6 307.8 L408.8 308.4 L409.3 309.1 L409.8 309.8 L410.5 310.5 L411.3 311.4 L412.1 312.2 L412.9 313.1 L413.8 314 L414.7 314.8 L415.6 315.6 L416.5 316.4 L417.3 317.2 L418 318 L418.6 318.7 L419 319.4 L419.3 320 L419.5 320.4 L419.6 321.1 L419.6 321.8 L419.4 322.5 L419.2 323.3 L418.8 324.1 L418.4 325 L417.8 325.9 L417.2 326.8 L416.5 327.7 L415.8 328.6 L415.1 329.5 L414.3 330.4 L413.6 331.3 L413 332 L412.4 332.6 L411.7 333.3 L411 333.9 L410.3 334.6 L409.6 335.2 L408.8 335.9 L408 336.5 L407.2 337.1 L406.4 337.7 L405.5 338.3 L404.7 338.9 L403.9 339.4 L403.1 339.9 L402.3 340.4 L401.6 340.9 L400.6 341.4 L399.6 341.9 L398.6 342.4 L397.5 342.8 L396.5 343.3 L395.4 343.9 L394.4 344.4 L393.5 344.9 L392.5 345.4 L391.7 345.8 L391 346.2 L390.3 346.7 L389.9 347.2 L390.1 347.8 L390.8 347.9 L391.5 347.9 L392.4 347.8 L393.3 347.6 L394.3 347.5 L395.4 347.2 L396.6 347 L397.8 346.7 L399 346.3 L400.1 345.8 L401.3 345.3 L402.4 344.7 L403.4 344.1 L404.3 343.6 L405.1 343.1 L406 342.5 L406.8 342 L407.7 341.4 L408.6 340.7 L409.4 340.1 L410.3 339.4 L411.1 338.8 L412 338.1 L412.8 337.4 L413.6 336.7 L414.3 335.9 L415.1 335.2 L415.8 334.4 L416.4 333.7 L417.2 332.8 L417.9 331.9 L418.7 331 L419.5 330 L420.2 329 L421 327.9 L421.6 326.8 L422.2 325.7 L422.7 324.6 L423.1 323.4 L423.3 322.1 L423.3 320.8 L423.1 319.6 L422.7 318.5 L422.2 317.5 L421.6 316.5 L420.8 315.6 L420 314.7 L419.1 313.8 L418.1 312.9 L417.2 312 L416.2 311.1 L415.1 310.4 L414 309.8 L413 309.2 L412 308.6 L411.2 308.1 L410.4 307.7 L409.7 307.4 L409 307.2Z"/><path d="M121.9 304.8 L122.3 305.4 L122.9 305.9 L123.6 306.4 L124.4 307 L125.3 307.5 L126.3 308.1 L127.3 308.8 L128.4 309.4 L129.5 309.9 L130.6 310.3 L131.8 310.7 L132.9 311.1 L133.9 311.4 L135 311.7 L135.9 312 L136.9 312.2 L137.8 312.4 L138.7 312.6 L139.6 312.8 L140.6 313 L141.6 313.2 L142.7 313.3 L143.9 313.5 L145.2 313.7 L146.7 314 L147.4 314.1 L148.2 314.3 L149.1 314.4 L149.9 314.6 L150.8 314.7 L151.8 314.9 L152.7 315.1 L153.7 315.3 L154.7 315.5 L155.7 315.7 L156.8 315.8 L157.8 316 L158.9 316.2 L160 316.4 L161.1 316.6 L162.2 316.7 L163.3 316.9 L164.4 317.1 L165.5 317.2 L166.6 317.3 L167.7 317.5 L168.7 317.6 L169.8 317.7 L170.9 317.8 L171.9 317.8 L173 317.9 L174 317.9 L175.2 317.9 L176.3 317.9 L177.4 317.9 L178.6 317.8 L179.8 317.8 L181 317.7 L182.2 317.7 L183.3 317.6 L184.5 317.5 L185.6 317.4 L186.8 317.4 L187.9 317.3 L189 317.2 L190 317 L191 316.8 L192 316.5 L192.9 316.3 L193.7 316.1 L194.5 315.9 L195.2 315.7 L195.9 315.4 L196.5 315.2 L197 314.8 L197 314.2 L196.4 313.9 L195.8 313.7 L195.1 313.6 L194.3 313.5 L193.5 313.4 L192.6 313.3 L191.7 313.3 L190.7 313.2 L189.7 313.2 L188.6 313.2 L187.6 313.2 L186.5 313.3 L185.4 313.4 L184.2 313.5 L183.1 313.6 L181.9 313.6 L180.8 313.7 L179.6 313.8 L178.5 313.8 L177.4 313.8 L176.2 313.9 L175.2 313.9 L174.1 313.8 L173.1 313.8 L172.1 313.8 L171.1 313.7 L170.1 313.7 L169.1 313.6 L168.1 313.5 L167 313.3 L166 313.2 L164.9 313.1 L163.9 312.9 L162.8 312.8 L161.7 312.6 L160.7 312.4 L159.6 312.2 L158.5 312.1 L157.5 311.9 L156.5 311.7 L155.4 311.5 L154.4 311.3 L153.5 311.1 L152.5 311 L151.6 310.8 L150.7 310.6 L149.8 310.4 L148.9 310.3 L148.1 310.1 L147.3 310 L145.8 309.8 L144.5 309.5 L143.3 309.4 L142.2 309.2 L141.3 309 L140.3 308.8 L139.5 308.7 L138.6 308.5 L137.8 308.3 L136.9 308.1 L136 307.9 L135.1 307.6 L134.1 307.3 L133.1 306.9 L132.1 306.5 L131 306.1 L129.9 305.7 L128.7 305.4 L127.6 305.1 L126.5 304.8 L125.4 304.6 L124.5 304.3 L123.6 304.2 L122.8 304.1 L122.1 304.2Z"/><path d="M85.6 282.3 L85.9 282.8 L86.4 283.4 L87 284 L87.7 284.7 L88.5 285.4 L89.4 286.2 L90.3 287 L91.2 287.8 L92.2 288.5 L93.2 289.2 L94.2 289.8 L95.3 290.4 L96.2 290.9 L97.2 291.4 L98.2 291.9 L99.2 292.3 L100.2 292.8 L101.2 293.2 L102.2 293.6 L103.3 293.9 L104.3 294.3 L105.2 294.7 L106.2 295 L107.1 295.3 L108 295.7 L108.9 296 L110.1 296.5 L111.2 296.9 L112.5 297.3 L113.7 297.6 L114.8 297.9 L115.9 298.2 L117 298.4 L117.9 298.6 L118.7 298.7 L119.4 298.6 L119.6 298 L119.1 297.5 L118.5 297.1 L117.7 296.6 L116.7 296.1 L115.7 295.5 L114.7 295 L113.5 294.4 L112.4 293.9 L111.2 293.4 L110.1 293 L109.2 292.6 L108.3 292.3 L107.3 292 L106.3 291.6 L105.4 291.2 L104.4 290.9 L103.4 290.5 L102.4 290.1 L101.4 289.8 L100.5 289.4 L99.6 288.9 L98.6 288.5 L97.8 288.1 L96.9 287.6 L95.9 287 L95 286.4 L94 285.8 L93 285.1 L91.9 284.6 L90.9 284 L89.9 283.5 L89 283 L88.1 282.5 L87.4 282.1 L86.6 281.8 L86 281.7Z"/><path d="M189.2 257.1 L189.1 257.8 L189.2 258.6 L189.4 259.5 L189.6 260.5 L189.9 261.7 L190.2 262.8 L190.6 264 L191 265.2 L191.7 266.3 L192.3 267.3 L193 268.2 L193.8 269.1 L194.6 269.9 L195.5 270.7 L196.4 271.5 L197.3 272.2 L198.3 272.9 L199.3 273.6 L200.4 274.1 L201.5 274.7 L202.7 275.1 L203.7 275.4 L204.7 275.7 L205.8 275.9 L206.9 276.1 L208 276.3 L209.2 276.4 L210.3 276.4 L211.4 276.5 L212.6 276.5 L213.7 276.5 L214.8 276.5 L215.9 276.4 L217 276.3 L218.1 276.3 L219.2 276.2 L220.3 276 L221.5 275.9 L222.6 275.7 L223.8 275.5 L224.9 275.2 L226 274.9 L227.1 274.6 L228.1 274.2 L229.1 273.7 L230.2 273.2 L231.2 272.6 L232.3 271.9 L233.3 271.2 L234.3 270.4 L235.2 269.6 L236.1 268.8 L236.9 268 L237.6 267.1 L238.2 266.2 L238.8 265.2 L239.1 263.6 L238.9 262 L238.5 260.6 L237.9 259.3 L237.2 258.3 L236.7 257.4 L236.1 256.9 L235.5 257.1 L235.3 257.9 L235.4 258.9 L235.6 260.1 L235.8 261.2 L235.8 262.3 L235.6 263.1 L235.2 263.8 L235 264.2 L234.6 264.8 L234 265.4 L233.4 266.1 L232.6 266.8 L231.9 267.4 L231 268.1 L230.1 268.7 L229.2 269.3 L228.4 269.8 L227.5 270.3 L226.7 270.6 L225.8 270.9 L224.9 271.2 L224 271.5 L223 271.7 L221.9 271.9 L220.9 272.1 L219.9 272.2 L218.8 272.3 L217.8 272.4 L216.7 272.5 L215.7 272.6 L214.7 272.6 L213.6 272.7 L212.6 272.7 L211.5 272.6 L210.5 272.6 L209.5 272.5 L208.5 272.4 L207.5 272.3 L206.5 272.2 L205.6 272 L204.7 271.8 L203.9 271.5 L203 271.1 L202.1 270.7 L201.2 270.2 L200.4 269.7 L199.6 269.2 L198.8 268.5 L198 267.9 L197.3 267.2 L196.6 266.5 L196 265.8 L195.5 265.1 L194.9 264.3 L194.4 263.4 L193.8 262.4 L193.2 261.5 L192.5 260.5 L192 259.6 L191.4 258.7 L190.9 257.9 L190.4 257.3 L189.8 256.9Z"/><path d="M154.2 261 L154.4 261.7 L154.8 262.4 L155.4 263.2 L156 264.1 L156.6 265.1 L157.3 266 L158 267 L158.7 268 L159.5 268.9 L160.1 269.7 L160.8 270.5 L161.6 271.5 L162.5 272.4 L163.4 273.3 L164.3 274.2 L165 274.9 L165.4 275.6 L165.7 276 L165.7 276.1 L165.6 276.2 L165.6 276.2 L165.1 276.5 L164.4 276.9 L163.5 277.3 L162.4 277.7 L161.2 278.1 L160 278.5 L158.8 279 L157.6 279.5 L156.5 279.9 L155.4 280.4 L154.5 280.8 L153.7 281.2 L153.2 281.7 L153.4 282.3 L154.1 282.4 L154.9 282.3 L155.9 282.2 L157.1 282.1 L158.3 281.9 L159.6 281.7 L160.9 281.5 L162.2 281.1 L163.5 280.7 L164.6 280.2 L165.7 279.8 L166.7 279.3 L167.6 278.7 L168.4 277.8 L168.9 276.5 L168.7 275.1 L168.2 273.9 L167.4 272.9 L166.6 271.9 L165.7 271 L164.8 270.2 L164 269.3 L163.2 268.5 L162.6 267.7 L161.9 266.8 L161.2 265.9 L160.3 265.1 L159.4 264.2 L158.5 263.4 L157.6 262.6 L156.8 261.9 L156 261.3 L155.4 260.9 L154.8 260.6Z"/><path d="M166.9 277.3 L167.4 277.7 L168.2 278.1 L169 278.5 L170 278.9 L171.1 279.3 L172.3 279.8 L173.5 280.2 L174.8 280.5 L176 280.7 L177.3 280.9 L178.4 281 L179.5 281.1 L180.4 281.2 L181.3 281.2 L181.9 281.1 L182.1 280.5 L181.6 280.1 L180.8 279.7 L180 279.3 L179 278.9 L177.9 278.5 L176.7 278 L175.5 277.6 L174.2 277.3 L173 277.1 L171.7 276.9 L170.6 276.8 L169.5 276.7 L168.6 276.6 L167.7 276.6 L167.1 276.7Z"/><path d="M111.7 273.5 L111.9 274.4 L112.3 275.5 L112.9 276.7 L113.8 277.9 L114.9 278.7 L115.9 279.4 L116.7 279.7 L117.3 279.3 L117.1 278.4 L116.7 277.3 L116.1 276.1 L115.2 274.9 L114.1 274.1 L113.1 273.4 L112.3 273.1Z"/><path d="M131.2 247.8 L130.8 248.3 L130.5 249.1 L130.3 249.9 L130 250.9 L129.7 252 L129.5 253.2 L129.3 254.4 L129.1 255.7 L129.1 257 L129.1 257.9 L129.1 258.8 L129.1 259.8 L129.2 260.8 L129.2 261.8 L129.3 262.9 L129.3 263.9 L129.4 265 L129.5 266 L129.6 267.1 L129.6 268.1 L129.7 269.1 L129.8 270.1 L129.8 271.2 L129.9 272.2 L129.9 273.3 L130 274.4 L130 275.4 L130.1 276.5 L130.1 277.6 L130.2 278.7 L130.3 279.8 L130.4 280.9 L130.6 282 L130.8 283.1 L131 284.2 L131.3 285.3 L131.6 286.4 L132 287.6 L132.4 288.7 L132.9 289.8 L133.4 290.9 L133.9 291.8 L134.4 292.8 L134.9 293.6 L135.3 294.3 L135.7 295 L136.2 295.4 L136.8 295.2 L136.9 294.5 L136.8 293.8 L136.7 292.9 L136.5 292 L136.3 291 L136.1 289.9 L135.8 288.8 L135.6 287.7 L135.3 286.6 L135 285.5 L134.7 284.4 L134.4 283.4 L134.2 282.5 L134 281.5 L133.9 280.5 L133.8 279.4 L133.7 278.4 L133.6 277.4 L133.5 276.3 L133.5 275.3 L133.4 274.2 L133.4 273.2 L133.3 272.1 L133.3 271 L133.2 269.9 L133.2 268.9 L133.1 267.9 L133 266.8 L132.9 265.8 L132.9 264.7 L132.8 263.7 L132.7 262.7 L132.7 261.6 L132.6 260.6 L132.6 259.7 L132.6 258.7 L132.5 257.8 L132.5 257 L132.6 255.8 L132.5 254.6 L132.4 253.4 L132.4 252.3 L132.3 251.2 L132.3 250.2 L132.2 249.2 L132.1 248.5 L131.8 247.8Z"/><path d="M279.2 273.4 L279.1 274.1 L279.1 274.9 L279.2 275.9 L279.3 277 L279.5 278.2 L279.7 279.4 L279.9 280.5 L280.1 281.6 L280.4 282.4 L280.7 283.5 L280.8 284.6 L281 285.8 L281.4 287.2 L282.2 288.5 L283.5 289.6 L284.4 290.1 L285.2 290.6 L286.1 290.9 L287.1 291.3 L288.1 291.6 L289.1 291.9 L290.2 292.1 L291.3 292.4 L292.4 292.7 L293.5 292.9 L294.6 293.2 L295.6 293.4 L296.6 293.6 L297.6 293.9 L298.7 294.1 L299.9 294.3 L301 294.6 L302.2 294.8 L303.4 294.8 L304.5 294.9 L305.6 295 L306.7 295 L307.6 295.1 L308.5 295 L309.2 295 L309.8 294.8 L310 294.2 L309.4 293.8 L308.8 293.5 L308 293.2 L307.1 292.9 L306.1 292.6 L305 292.2 L303.9 291.9 L302.8 291.6 L301.7 291.3 L300.5 291.1 L299.4 290.8 L298.4 290.6 L297.4 290.4 L296.4 290.1 L295.3 289.9 L294.3 289.7 L293.2 289.4 L292.1 289.2 L291 288.9 L290 288.6 L289 288.4 L288.1 288.1 L287.3 287.8 L286.5 287.5 L285.9 287.2 L285.5 287 L284.8 286.3 L284.5 285.8 L284.3 285.1 L284.1 284.1 L283.9 282.9 L283.6 281.6 L283.3 280.6 L282.9 279.6 L282.5 278.6 L282 277.5 L281.6 276.4 L281.1 275.4 L280.7 274.5 L280.3 273.7 L279.8 273.2Z"/><path d="M249.2 265.7 L248.7 266.2 L248.2 266.9 L247.7 267.7 L247.1 268.7 L246.6 269.8 L246 271 L245.6 272.2 L245.3 273.5 L245.2 274.8 L245.3 276.1 L245.6 277.2 L246 278.3 L246.5 279.4 L247.1 280.4 L247.7 281.5 L248.5 282.4 L249.3 283.4 L250.3 284.3 L251.3 285.1 L252.3 285.9 L253.2 286.5 L254.1 287 L255 287.5 L256.1 287.9 L257.1 288.4 L258.2 288.8 L259.3 289.2 L260.4 289.5 L261.5 289.9 L262.6 290.2 L263.7 290.5 L264.7 290.8 L265.7 291 L266.7 291.2 L267.9 291.4 L269.2 291.5 L270.5 291.6 L271.8 291.4 L273 291.3 L274.1 291.1 L275.2 290.8 L276.2 290.6 L277 290.4 L277.7 290.2 L278.3 289.8 L278.3 289.2 L277.7 288.9 L276.9 288.8 L276 288.7 L275 288.6 L274 288.5 L272.9 288.4 L271.7 288.3 L270.6 288.2 L269.5 288.1 L268.4 288 L267.3 287.8 L266.4 287.6 L265.5 287.4 L264.5 287.2 L263.5 286.9 L262.5 286.6 L261.4 286.3 L260.4 285.9 L259.4 285.6 L258.4 285.2 L257.4 284.8 L256.5 284.4 L255.7 283.9 L254.9 283.5 L254.3 283.1 L253.4 282.4 L252.6 281.7 L251.8 281 L251.1 280.2 L250.5 279.5 L250 278.7 L249.5 277.8 L249.2 277 L248.9 276.2 L248.7 275.5 L248.6 274.8 L248.7 273.9 L248.8 272.9 L248.9 271.8 L249.1 270.7 L249.4 269.6 L249.6 268.5 L249.8 267.5 L249.9 266.6 L249.8 265.9Z"/><path d="M219.6 317.3 L220.2 317.4 L221 317.4 L221.9 317.2 L222.9 317.1 L224 316.9 L225.1 316.7 L226.3 316.5 L227.5 316.3 L228.7 315.9 L229.6 315.7 L230.6 315.4 L231.6 315.1 L232.7 314.8 L233.8 314.4 L234.9 314 L236 313.5 L237.1 313.1 L238 312.7 L238.9 312.3 L239.7 311.9 L240.4 311.5 L240.9 311.1 L240.7 310.5 L240.1 310.4 L239.3 310.5 L238.4 310.6 L237.5 310.7 L236.4 310.9 L235.3 311.1 L234.1 311.3 L233 311.6 L231.9 311.9 L230.8 312.2 L229.7 312.5 L228.8 312.8 L227.9 313.1 L226.7 313.4 L225.5 313.9 L224.4 314.3 L223.3 314.7 L222.3 315.1 L221.4 315.5 L220.6 315.9 L219.9 316.3 L219.4 316.7Z"/><path d="M259.2 306.8 L258.6 307.2 L257.9 307.7 L257.2 308.5 L256.5 309.3 L255.7 310.2 L254.9 311.1 L254 312 L253.3 312.9 L252.6 313.7 L251.9 314.4 L251.3 315 L250.5 315.5 L249.7 316.1 L248.8 316.6 L247.9 317.1 L246.9 317.7 L245.9 318.3 L244.9 319 L243.9 319.8 L243 320.7 L242.3 321.6 L241.7 322.4 L241.1 323.3 L240.5 324.3 L240 325.2 L239.5 326.2 L239 327.3 L238.6 328.3 L238.2 329.4 L237.9 330.5 L237.6 331.6 L237.4 332.6 L237.2 333.7 L237.1 334.8 L237.1 335.9 L237.1 337 L237.1 338.1 L237.1 339.3 L237.2 340.4 L237.3 341.5 L237.4 342.6 L237.5 343.6 L237.6 344.7 L237.7 345.7 L237.8 346.8 L237.9 347.9 L238 349 L238.2 350.1 L238.4 351.2 L238.6 352.4 L238.8 353.5 L239.1 354.6 L239.4 355.7 L239.8 356.7 L240.2 357.8 L240.8 358.9 L241.4 360 L242.1 361 L242.8 362.1 L243.7 363 L244.6 363.8 L245.5 364.6 L246.4 365.3 L247.2 366 L247.9 366.5 L248.6 367 L249.2 367.2 L249.8 366.8 L249.7 366.1 L249.3 365.3 L248.9 364.5 L248.3 363.7 L247.8 362.7 L247.2 361.7 L246.6 360.7 L246 359.7 L245.3 358.8 L244.7 357.9 L244.2 357 L243.8 356.2 L243.4 355.4 L243.1 354.5 L242.8 353.5 L242.6 352.6 L242.4 351.6 L242.2 350.6 L242 349.5 L241.9 348.5 L241.8 347.5 L241.7 346.4 L241.5 345.4 L241.4 344.3 L241.3 343.3 L241.2 342.2 L241.2 341.2 L241.1 340.1 L241 339.1 L241 338 L241 337 L241 336 L241 335.1 L241.1 334.2 L241.2 333.3 L241.4 332.4 L241.6 331.5 L241.9 330.6 L242.2 329.7 L242.6 328.8 L243 327.9 L243.4 327.1 L243.9 326.2 L244.4 325.4 L244.9 324.7 L245.4 324 L246 323.3 L246.6 322.7 L247.2 322.1 L248 321.6 L248.9 321.1 L249.8 320.5 L250.8 320 L251.8 319.4 L252.8 318.8 L253.7 318 L254.7 317.2 L255.5 316.3 L256.3 315.3 L257.1 314.2 L257.7 313 L258.2 311.8 L258.7 310.7 L259.1 309.7 L259.5 308.7 L259.7 307.9 L259.8 307.2Z"/><path d="M206.9 349.8 L207.5 350.2 L208.2 350.6 L209.1 351 L210.1 351.4 L211.2 351.8 L212.3 352.2 L213.5 352.6 L214.7 353 L216 353.2 L217.2 353.4 L218.4 353.5 L219.5 353.6 L220.7 353.5 L221.9 353.4 L223 353.2 L224.2 353 L225.2 352.7 L226.3 352.4 L227.3 352.1 L228.3 351.7 L229.2 351.3 L230.1 350.9 L231.2 350.4 L232.2 349.7 L233.2 348.9 L234.1 348.2 L235 347.4 L235.7 346.6 L236.4 345.9 L236.9 345.3 L237.2 344.8 L236.8 344.2 L236.1 344.4 L235.4 344.7 L234.6 345.1 L233.7 345.7 L232.7 346.2 L231.7 346.7 L230.7 347.2 L229.8 347.6 L228.9 348.1 L228 348.4 L227.1 348.8 L226.2 349.1 L225.3 349.4 L224.4 349.7 L223.4 350 L222.5 350.2 L221.5 350.3 L220.5 350.4 L219.5 350.4 L218.6 350.4 L217.6 350.3 L216.5 350.1 L215.4 349.9 L214.2 349.7 L212.9 349.6 L211.7 349.4 L210.6 349.3 L209.5 349.2 L208.6 349.1 L207.8 349 L207.1 349.2Z"/><path d="M221.7 354.5 L221.3 355.2 L221.1 356.1 L220.8 357.2 L220.6 358.5 L220.4 359.8 L220.3 361.1 L220.3 362.4 L220.6 363.7 L221.1 364.9 L221.8 366.1 L222.6 367.1 L223.5 368 L224.2 368.7 L224.9 369.3 L225.5 369.7 L226.1 369.3 L225.9 368.6 L225.5 367.8 L225 366.8 L224.5 365.8 L224 364.8 L223.7 363.8 L223.4 362.9 L223.3 362.1 L223.2 361 L223 359.8 L222.9 358.6 L222.8 357.3 L222.7 356.2 L222.6 355.2 L222.3 354.5Z"/><path d="M262 359.8 L262.5 360.2 L263.2 360.5 L264.1 360.8 L265.1 361.1 L266.2 361.5 L267.4 361.8 L268.6 362.1 L269.9 362.4 L271.2 362.5 L272.4 362.5 L273.7 362.4 L274.8 362.3 L276.1 361.9 L277.3 361.4 L278.4 360.8 L279.5 360 L280.5 359.2 L281.5 358.3 L282.4 357.5 L283.1 356.7 L283.8 356 L284.3 355.3 L284.7 354.8 L284.3 354.2 L283.6 354.4 L282.9 354.8 L282 355.3 L281.1 355.8 L280.1 356.4 L279 357 L278 357.6 L276.9 358.2 L276 358.7 L275 359.1 L274.2 359.3 L273.4 359.5 L272.4 359.5 L271.3 359.5 L270.2 359.4 L269 359.3 L267.8 359.3 L266.7 359.2 L265.5 359.1 L264.5 359 L263.5 359 L262.7 359 L262 359.2Z"/><path d="M234.4 369.8 L234.9 370.3 L235.5 370.7 L236.2 371.1 L236.9 371.6 L237.8 372 L238.8 372.5 L239.8 373 L240.8 373.5 L242 374 L243.1 374.3 L244.3 374.7 L245.5 375 L246.7 375.4 L247.9 375.6 L249 375.9 L250.2 376.1 L251.2 376.3 L252.3 376.4 L253.3 376.4 L254.7 376.3 L256 376.1 L257.2 375.8 L258.3 375.4 L259.4 374.9 L260.4 374.4 L261.3 373.9 L262.2 373.4 L263.1 372.9 L263.9 372.4 L264.8 372 L265.6 371.6 L266.4 371.3 L267.4 371 L268.4 370.7 L269.4 370.4 L270.5 370.2 L271.5 369.9 L272.5 369.7 L273.5 369.4 L274.4 369.3 L275.4 369.1 L276.4 369 L277.3 368.9 L278.3 368.9 L279.2 369 L280.1 369.1 L281.1 369.2 L282.2 369.5 L283.2 369.7 L284.3 370 L285.3 370.3 L286.4 370.6 L287.5 370.9 L288.6 371.1 L289.6 371.3 L290.7 371.4 L292.2 371.4 L293.6 371.1 L295 370.8 L296.2 370.4 L297.3 369.9 L298.2 369.5 L299 369.1 L299.6 368.6 L299.4 368 L298.7 367.7 L297.8 367.7 L296.8 367.7 L295.7 367.7 L294.5 367.8 L293.3 367.7 L292.1 367.7 L290.9 367.6 L290.2 367.5 L289.3 367.4 L288.4 367.1 L287.4 366.9 L286.4 366.6 L285.3 366.3 L284.2 366 L283 365.7 L281.9 365.5 L280.7 365.3 L279.5 365.1 L278.3 365.1 L277.2 365.1 L276 365.2 L274.9 365.3 L273.8 365.5 L272.7 365.7 L271.6 365.9 L270.5 366.2 L269.5 366.4 L268.4 366.7 L267.3 367 L266.3 367.3 L265.2 367.7 L264.2 368 L263.1 368.5 L262.1 369 L261.2 369.5 L260.3 370 L259.4 370.5 L258.6 371 L257.7 371.5 L256.9 371.8 L256 372.1 L255.2 372.4 L254.3 372.5 L253.3 372.6 L252.6 372.5 L251.7 372.5 L250.8 372.3 L249.8 372.1 L248.8 371.9 L247.7 371.6 L246.5 371.3 L245.4 371 L244.3 370.7 L243.1 370.3 L242 370 L240.8 369.8 L239.8 369.6 L238.7 369.4 L237.7 369.2 L236.8 369.1 L236 369 L235.2 369 L234.6 369.2Z"/><path d="M274.2 347.2 L274.4 347.9 L274.7 348.6 L275.1 349.4 L275.6 350.4 L276.1 351.4 L276.7 352.4 L277.4 353.5 L278.2 354.5 L279.1 355.5 L280 356.4 L281 357.1 L281.9 357.7 L282.8 358.3 L283.7 358.8 L284.6 359.3 L285.6 359.7 L286.6 360.2 L287.7 360.6 L288.7 361 L289.8 361.3 L290.9 361.7 L292 361.9 L293.1 362.2 L294.2 362.4 L295.3 362.6 L296.4 362.7 L297.6 362.8 L298.8 362.8 L300 362.8 L301.2 362.8 L302.4 362.7 L303.6 362.6 L304.8 362.4 L305.9 362.2 L306.9 362 L307.8 361.8 L308.6 361.6 L309.3 361.4 L309.9 361.1 L309.9 360.5 L309.3 360.2 L308.6 360 L307.7 359.9 L306.8 359.8 L305.7 359.8 L304.6 359.7 L303.5 359.6 L302.3 359.5 L301.2 359.5 L300 359.5 L298.8 359.5 L297.7 359.5 L296.7 359.4 L295.7 359.3 L294.8 359.2 L293.8 359 L292.8 358.7 L291.8 358.5 L290.8 358.2 L289.8 357.9 L288.8 357.5 L287.9 357.1 L287 356.7 L286.1 356.3 L285.3 355.9 L284.5 355.4 L283.7 354.9 L283 354.5 L282.2 353.8 L281.4 353.1 L280.6 352.3 L279.8 351.5 L278.9 350.7 L278.1 349.9 L277.4 349.1 L276.7 348.3 L276 347.6 L275.4 347.1 L274.8 346.8Z"/><path d="M301.7 257 L301.4 257.7 L301.3 258.5 L301.2 259.4 L301.1 260.5 L301 261.7 L300.9 262.9 L300.9 264.2 L300.9 265.5 L301.1 266.7 L301.3 267.9 L301.6 269.1 L301.9 270.1 L302.6 271.3 L303.5 272.3 L304.5 273.2 L305.5 274 L306.5 274.6 L307.5 275.1 L308.3 275.6 L309.1 275.9 L309.7 276.1 L310.1 275.5 L309.8 274.9 L309.2 274.3 L308.5 273.7 L307.8 272.9 L307 272.2 L306.2 271.4 L305.6 270.5 L305.1 269.7 L304.7 268.9 L304.4 268.2 L304.2 267.3 L304.1 266.3 L303.9 265.2 L303.7 264 L303.5 262.8 L303.4 261.6 L303.2 260.4 L303 259.4 L302.8 258.4 L302.6 257.6 L302.3 257Z"/><path d="M309 377.3 L309.6 377.7 L310.2 377.9 L310.9 378.1 L311.7 378.3 L312.5 378.5 L313.5 378.6 L314.4 378.8 L315.5 378.9 L316.6 379.1 L317.7 379.1 L318.9 379.1 L320.1 379 L321.4 378.9 L322.7 378.8 L324.1 378.6 L325.4 378.4 L326.8 378.2 L328.2 378 L329.1 377.8 L329.9 377.6 L330.8 377.4 L331.7 377.1 L332.6 376.9 L333.5 376.7 L334.5 376.4 L335.5 376.1 L336.4 375.8 L337.4 375.5 L338.4 375.2 L339.4 374.9 L340.4 374.6 L341.5 374.3 L342.5 374 L343.5 373.6 L344.5 373.3 L345.6 373 L346.6 372.7 L347.6 372.3 L348.7 372 L349.7 371.7 L350.7 371.4 L351.7 371.1 L352.7 370.8 L353.7 370.5 L354.7 370.2 L355.6 369.9 L356.5 369.6 L357.5 369.4 L358.4 369.1 L359.4 368.8 L360.5 368.6 L361.5 368.3 L362.6 368.1 L363.6 367.8 L364.6 367.6 L365.6 367.4 L366.7 367.1 L367.7 366.9 L368.7 366.7 L369.7 366.5 L370.7 366.3 L371.7 366.1 L372.7 365.8 L373.7 365.6 L374.7 365.4 L375.6 365.2 L376.6 365 L377.6 364.7 L378.6 364.5 L379.6 364.3 L380.6 364 L381.6 363.7 L382.6 363.5 L383.6 363.2 L384.6 362.9 L385.6 362.6 L386.6 362.3 L387.6 362 L388.6 361.7 L389.6 361.3 L390.6 361 L391.5 360.7 L392.5 360.3 L393.5 360 L394.5 359.6 L395.4 359.3 L396.4 358.9 L397.3 358.5 L398.3 358.2 L399.3 357.8 L400.2 357.5 L401.2 357.1 L402.1 356.8 L403.1 356.4 L404 356.1 L405 355.7 L405.9 355.4 L406.8 355 L407.8 354.7 L408.7 354.4 L409.7 354.1 L410.6 353.8 L411.6 353.5 L412.6 353.2 L413.6 352.9 L414.6 352.6 L415.6 352.3 L416.7 352 L417.7 351.7 L418.7 351.4 L419.8 351.1 L420.8 350.9 L421.8 350.6 L422.9 350.3 L423.9 350 L424.9 349.7 L425.9 349.4 L426.9 349.2 L427.9 348.9 L428.8 348.6 L429.7 348.3 L430.6 348 L431.5 347.7 L432.4 347.4 L433.2 347.1 L434 346.8 L434.8 346.5 L436.2 346 L437.4 345.4 L438.6 344.8 L439.6 344.2 L440.6 343.6 L441.5 343 L442.3 342.4 L443.1 341.8 L443.8 341.3 L444.6 340.8 L445.3 340.3 L446 339.8 L446.7 339.4 L447.5 339 L448.4 338.5 L449.4 338 L450.3 337.6 L451.3 337.2 L452.2 336.7 L453.1 336.3 L454.1 336 L455 335.6 L455.9 335.2 L456.8 334.9 L457.7 334.6 L458.6 334.4 L459.5 334.1 L460.5 333.9 L461.5 333.7 L462.5 333.6 L463.4 333.4 L464.4 333.3 L465.4 333.2 L466.4 333.1 L467.4 333.1 L468.4 333 L469.5 333 L470.5 333 L471.5 333 L472.5 333 L473.5 333 L474.6 333 L475.6 333.1 L476.6 333.1 L477.6 333.2 L478.6 333.3 L479.6 333.4 L480.5 333.6 L481.5 333.7 L482.5 333.9 L483.5 334.1 L484.4 334.4 L485.3 334.7 L486.4 335.1 L487.5 335.5 L488.6 335.9 L489.7 336.2 L490.8 336.5 L491.9 336.7 L493 337 L494 337.2 L494.9 337.4 L495.7 337.4 L496.4 337.3 L496.6 336.7 L496.2 336.1 L495.7 335.6 L495 335 L494.2 334.4 L493.3 333.8 L492.3 333.2 L491.3 332.5 L490.2 331.9 L489.1 331.4 L487.9 330.9 L486.8 330.5 L485.6 330.2 L484.5 329.9 L483.4 329.6 L482.3 329.4 L481.2 329.2 L480.1 329 L479 328.9 L477.9 328.8 L476.8 328.7 L475.8 328.7 L474.7 328.6 L473.6 328.6 L472.6 328.6 L471.5 328.6 L470.4 328.6 L469.4 328.6 L468.3 328.6 L467.2 328.7 L466.2 328.7 L465.1 328.8 L464 328.9 L462.9 329 L461.8 329.2 L460.7 329.4 L459.6 329.6 L458.5 329.9 L457.4 330.1 L456.4 330.4 L455.4 330.8 L454.4 331.1 L453.4 331.5 L452.4 331.9 L451.4 332.3 L450.4 332.7 L449.4 333.2 L448.5 333.6 L447.5 334.1 L446.5 334.5 L445.5 335 L444.6 335.5 L443.7 336.1 L442.8 336.6 L442 337.2 L441.3 337.7 L440.5 338.3 L439.8 338.8 L439 339.3 L438.2 339.9 L437.4 340.4 L436.4 340.9 L435.5 341.4 L434.4 342 L433.2 342.5 L432.5 342.7 L431.7 343 L431 343.3 L430.1 343.6 L429.3 343.8 L428.4 344.1 L427.5 344.4 L426.6 344.7 L425.7 344.9 L424.7 345.2 L423.7 345.5 L422.7 345.8 L421.7 346 L420.7 346.3 L419.6 346.6 L418.6 346.9 L417.6 347.2 L416.5 347.5 L415.5 347.8 L414.4 348.1 L413.4 348.4 L412.3 348.7 L411.3 349 L410.3 349.3 L409.3 349.6 L408.3 349.9 L407.3 350.2 L406.4 350.6 L405.4 350.9 L404.4 351.2 L403.5 351.6 L402.5 351.9 L401.5 352.3 L400.6 352.6 L399.6 353 L398.7 353.3 L397.7 353.7 L396.8 354.1 L395.8 354.4 L394.9 354.8 L393.9 355.1 L392.9 355.5 L392 355.8 L391 356.2 L390.1 356.5 L389.1 356.8 L388.2 357.2 L387.2 357.5 L386.3 357.8 L385.3 358.1 L384.3 358.4 L383.4 358.7 L382.4 359 L381.5 359.2 L380.5 359.5 L379.5 359.7 L378.6 360 L377.6 360.2 L376.6 360.4 L375.7 360.7 L374.7 360.9 L373.7 361.1 L372.7 361.3 L371.7 361.5 L370.8 361.7 L369.8 362 L368.8 362.2 L367.7 362.4 L366.7 362.6 L365.7 362.8 L364.7 363.1 L363.6 363.3 L362.6 363.5 L361.5 363.8 L360.5 364 L359.4 364.3 L358.3 364.6 L357.2 364.9 L356.3 365.1 L355.4 365.4 L354.4 365.7 L353.4 366 L352.4 366.2 L351.4 366.5 L350.4 366.9 L349.4 367.2 L348.4 367.5 L347.3 367.8 L346.3 368.1 L345.3 368.5 L344.3 368.8 L343.2 369.1 L342.2 369.5 L341.2 369.8 L340.1 370.1 L339.1 370.4 L338.1 370.7 L337.1 371 L336.2 371.3 L335.2 371.6 L334.2 371.9 L333.3 372.2 L332.4 372.4 L331.5 372.7 L330.6 372.9 L329.8 373.1 L328.9 373.3 L328.1 373.5 L327.4 373.6 L326.1 373.9 L324.8 374.1 L323.5 374.3 L322.3 374.4 L321.1 374.5 L319.9 374.6 L318.7 374.7 L317.6 374.7 L316.5 374.8 L315.4 375 L314.4 375.2 L313.5 375.3 L312.6 375.5 L311.7 375.6 L310.9 375.8 L310.2 376 L309.5 376.2 L309 376.7Z"/><path d="M333.7 339.7 L333.6 340.4 L333.7 341.2 L333.8 342.1 L333.9 343.2 L334.2 344.4 L334.6 345.6 L335.1 347 L335.7 348.2 L336.7 349.4 L337.9 350.5 L339.1 351.4 L340 351.8 L340.8 352.2 L341.7 352.6 L342.6 352.9 L343.5 353.2 L344.4 353.5 L345.4 353.8 L346.5 354.1 L347.5 354.3 L348.6 354.5 L349.7 354.7 L350.8 354.9 L351.9 355.1 L353.1 355.2 L354.2 355.3 L355.4 355.4 L356.6 355.4 L357.8 355.5 L359 355.5 L359.9 355.5 L360.9 355.5 L361.9 355.4 L362.9 355.3 L363.9 355.3 L364.9 355.2 L366 355 L367 354.9 L368.1 354.8 L369.2 354.6 L370.2 354.5 L371.3 354.3 L372.4 354.1 L373.5 353.9 L374.5 353.7 L375.6 353.5 L376.7 353.3 L377.7 353.1 L378.7 352.9 L379.7 352.7 L380.7 352.5 L381.7 352.3 L382.7 352.1 L383.6 351.8 L384.5 351.6 L385.7 351.4 L386.8 351.1 L387.9 350.8 L389 350.5 L390.1 350.2 L391.2 349.9 L392.3 349.6 L393.3 349.3 L394.4 349 L395.4 348.6 L396.4 348.3 L397.4 347.9 L398.3 347.6 L399.3 347.2 L400.2 346.9 L401.1 346.5 L402 346.1 L402.9 345.7 L403.7 345.3 L404.8 344.8 L405.8 344.3 L406.8 343.8 L407.8 343.2 L408.8 342.7 L409.8 342.2 L410.7 341.6 L411.7 341 L412.5 340.4 L413.4 339.7 L414.2 339 L415 338.3 L415.8 337.5 L416.5 336.6 L417.1 335.7 L417.7 334.7 L418.3 333.6 L418.7 332.5 L419.1 331.3 L419.4 330.1 L419.6 328.9 L419.8 327.7 L420 326.5 L420.2 325.4 L420.4 324.3 L420.5 323.3 L420.6 322.3 L420.8 321.5 L420.9 320.7 L421.1 320 L421.6 318.3 L421.8 317.1 L421.8 316.9 L421.8 316.9 L422.6 316.4 L423.1 316.2 L423.9 315.8 L424.7 315.4 L425.7 315.1 L426.7 314.7 L427.7 314.4 L428.7 314.2 L429.8 314 L430.8 313.9 L431.7 313.9 L432.6 313.9 L433.4 314.1 L433.9 314.3 L434.6 314.6 L435.3 315 L436 315.5 L436.8 316 L437.6 316.7 L438.4 317.3 L439.2 318 L440 318.7 L440.7 319.5 L441.5 320.2 L442.3 321 L443 321.7 L443.7 322.4 L444.4 323 L445 323.6 L445.9 324.5 L446.9 325.4 L447.9 326.2 L448.8 327 L449.6 327.7 L450.4 328.4 L451.1 329 L451.8 329.5 L452.5 329.7 L453.1 329.3 L453 328.6 L452.7 327.8 L452.4 326.9 L451.9 325.9 L451.4 324.9 L450.7 323.8 L450 322.6 L449.1 321.4 L448 320.4 L447.4 319.8 L446.8 319.2 L446.1 318.5 L445.4 317.8 L444.6 317.1 L443.8 316.3 L443 315.5 L442.1 314.7 L441.2 314 L440.3 313.2 L439.4 312.5 L438.5 311.9 L437.6 311.3 L436.6 310.7 L435.6 310.3 L434.6 309.9 L433.3 309.6 L431.9 309.5 L430.5 309.5 L429.1 309.6 L427.8 309.9 L426.5 310.2 L425.3 310.6 L424.2 311 L423.1 311.4 L422.1 311.8 L421.3 312.2 L420.4 312.6 L419 313.5 L417.9 314.8 L417.5 316.2 L417.3 317.4 L416.9 319 L416.7 319.7 L416.5 320.6 L416.3 321.6 L416.2 322.6 L416 323.7 L415.9 324.8 L415.7 325.9 L415.5 327 L415.3 328 L415.1 329.1 L414.8 330.1 L414.5 331 L414.2 331.9 L413.9 332.6 L413.5 333.3 L413 333.9 L412.5 334.5 L411.9 335.1 L411.3 335.7 L410.6 336.3 L409.9 336.8 L409.2 337.3 L408.4 337.9 L407.6 338.4 L406.7 338.9 L405.8 339.4 L404.8 339.8 L403.9 340.3 L402.9 340.8 L401.9 341.3 L401 341.7 L400.2 342.1 L399.4 342.4 L398.5 342.8 L397.7 343.1 L396.8 343.5 L395.9 343.8 L394.9 344.1 L394 344.5 L393 344.8 L392 345.1 L391 345.4 L390 345.7 L389 346 L387.9 346.3 L386.8 346.6 L385.7 346.8 L384.6 347.1 L383.5 347.4 L382.6 347.6 L381.7 347.8 L380.8 348 L379.8 348.2 L378.8 348.4 L377.8 348.6 L376.8 348.8 L375.8 349 L374.8 349.2 L373.7 349.4 L372.7 349.6 L371.7 349.8 L370.6 349.9 L369.6 350.1 L368.5 350.3 L367.5 350.4 L366.5 350.5 L365.5 350.7 L364.5 350.8 L363.5 350.9 L362.5 351 L361.6 351 L360.7 351.1 L359.8 351.1 L359 351.1 L357.9 351.1 L356.8 351.1 L355.7 351 L354.6 350.9 L353.5 350.8 L352.5 350.7 L351.4 350.5 L350.4 350.4 L349.4 350.2 L348.4 350 L347.5 349.8 L346.6 349.6 L345.7 349.3 L344.9 349 L344.1 348.8 L343.3 348.5 L342.6 348.2 L342 347.9 L341.5 347.6 L340.6 347.1 L339.9 346.4 L339.3 345.6 L338.6 344.8 L337.9 344 L337.3 343.1 L336.7 342.1 L336.1 341.2 L335.5 340.4 L335 339.7 L334.3 339.3Z"/><path d="M421.7 314.8 L422.4 314.7 L423.2 314.3 L423.9 313.8 L424.7 313.3 L425.6 312.8 L426.5 312.4 L427.4 312.1 L428.3 311.9 L429.4 311.6 L429.9 311.6 L430.6 311.6 L431.5 311.6 L432.4 311.7 L433.3 311.7 L434.4 311.9 L435.5 312 L436.6 312.2 L437.7 312.3 L438.9 312.5 L440 312.6 L441.2 312.8 L442.3 312.9 L443.4 313 L444.6 313 L445.6 313 L446.7 313 L447.9 312.9 L449 312.7 L450.2 312.6 L451.4 312.4 L452.5 312.2 L453.7 312 L454.8 311.7 L455.9 311.4 L456.9 311 L457.9 310.5 L458.9 309.9 L459.8 309.3 L460.6 308.5 L461.4 307.5 L462 306.3 L462.5 305.2 L462.9 303.9 L463.3 302.7 L463.5 301.4 L463.7 300.1 L463.8 298.8 L463.8 297.6 L463.8 296.4 L463.8 295.3 L463.7 294.2 L463.5 293 L463.1 291.8 L462.7 290.6 L462.2 289.5 L461.7 288.4 L461 287.4 L460.3 286.5 L459.5 285.6 L458.7 284.8 L457.8 284 L456.8 283.4 L455.8 282.9 L454.7 282.4 L453.6 282 L452.5 281.7 L451.3 281.5 L450.1 281.3 L448.9 281.2 L447.7 281.1 L446.5 281.1 L445.4 281.2 L444.3 281.2 L443.1 281.4 L441.9 281.6 L440.7 281.8 L439.5 282 L438.4 282.3 L437.2 282.6 L436.2 282.9 L435.1 283.2 L434.2 283.5 L433.3 283.9 L432 284.6 L430.8 285.4 L429.8 286.3 L429 287.1 L428.3 287.9 L427.9 288.6 L427.6 289.2 L428 289.8 L428.7 289.8 L429.5 289.5 L430.4 289.1 L431.4 288.7 L432.4 288.3 L433.5 288 L434.7 287.7 L435.5 287.6 L436.4 287.3 L437.3 287.1 L438.3 286.8 L439.4 286.5 L440.5 286.3 L441.6 286.1 L442.6 285.9 L443.7 285.7 L444.7 285.6 L445.6 285.5 L446.5 285.5 L447.5 285.5 L448.6 285.6 L449.6 285.6 L450.6 285.8 L451.5 286 L452.4 286.2 L453.2 286.5 L453.9 286.8 L454.6 287.1 L455.2 287.6 L455.8 288 L456.4 288.6 L456.9 289.2 L457.4 289.9 L457.9 290.6 L458.3 291.4 L458.7 292.2 L459 293.1 L459.2 293.9 L459.3 294.8 L459.4 295.6 L459.5 296.5 L459.5 297.5 L459.4 298.6 L459.3 299.7 L459.2 300.7 L459 301.8 L458.8 302.7 L458.5 303.6 L458.1 304.4 L457.8 305 L457.4 305.5 L457 305.9 L456.5 306.3 L455.9 306.7 L455.2 307 L454.4 307.3 L453.6 307.5 L452.7 307.8 L451.7 308 L450.7 308.1 L449.7 308.3 L448.6 308.4 L447.4 308.5 L446.3 308.6 L445.5 308.7 L444.7 308.7 L443.7 308.6 L442.7 308.5 L441.7 308.4 L440.6 308.3 L439.4 308.2 L438.3 308 L437.2 307.8 L436 307.7 L434.9 307.5 L433.8 307.4 L432.7 307.3 L431.7 307.2 L430.6 307.2 L429.6 307.2 L428.6 307.4 L427 307.8 L425.6 308.5 L424.5 309.4 L423.6 310.3 L422.8 311.3 L422.2 312.1 L421.8 312.9 L421.5 313.6 L421.3 314.2Z"/><path d="M429.3 279.7 L429.8 279.2 L430.3 278.6 L430.8 277.8 L431.3 276.9 L431.9 276 L432.5 275 L433.2 274 L433.8 273 L434.3 272 L434.8 271.1 L435.3 270.3 L435.9 269.4 L436.5 268.5 L437.2 267.7 L437.9 266.8 L438.6 266 L439.3 265.3 L440 264.5 L440.7 263.8 L441.4 263.1 L442.2 262.2 L443.1 261.2 L444 260.3 L444.9 259.4 L445.7 258.6 L446.3 257.9 L446.7 257.3 L446.3 256.7 L445.6 256.9 L444.7 257.3 L443.7 257.9 L442.6 258.5 L441.4 259.3 L440.3 260.1 L439.2 260.9 L438.5 261.6 L437.8 262.4 L437 263.2 L436.3 264 L435.5 264.9 L434.8 265.8 L434.1 266.7 L433.4 267.7 L432.7 268.7 L432.1 269.6 L431.6 270.6 L431 271.6 L430.6 272.7 L430.2 273.9 L429.8 275 L429.4 276.1 L429.1 277 L428.9 277.9 L428.7 278.7 L428.7 279.3Z"/><path d="M308.8 276.1 L309.3 276.6 L309.9 277.1 L310.6 277.7 L311.4 278.3 L312.3 279 L313.3 279.6 L314.3 280.3 L315.4 281 L316.5 281.5 L317.7 282.1 L318.8 282.6 L319.9 283.1 L320.9 283.5 L321.9 283.9 L322.8 284.3 L323.8 284.7 L324.8 285 L325.8 285.4 L326.8 285.7 L327.7 286 L328.7 286.3 L329.7 286.6 L330.7 286.8 L331.7 287.1 L332.7 287.3 L333.8 287.4 L334.9 287.6 L336.1 287.7 L337.4 287.7 L338.6 287.7 L339.9 287.6 L341.1 287.4 L342.2 287.2 L343.3 287 L344.3 286.8 L345.2 286.6 L345.9 286.4 L346.5 286.1 L346.5 285.5 L345.9 285.2 L345.1 285 L344.2 284.9 L343.2 284.8 L342.1 284.7 L341 284.7 L339.8 284.6 L338.6 284.4 L337.5 284.4 L336.3 284.4 L335.2 284.3 L334.2 284.2 L333.3 284 L332.4 283.8 L331.5 283.6 L330.6 283.4 L329.6 283.1 L328.7 282.9 L327.8 282.6 L326.8 282.3 L325.9 281.9 L325 281.6 L324 281.2 L323.1 280.8 L322.1 280.5 L321.2 280.1 L320.1 279.6 L319.1 279.1 L318 278.6 L316.9 278 L315.7 277.6 L314.6 277.1 L313.5 276.7 L312.4 276.3 L311.5 276 L310.6 275.7 L309.8 275.5 L309.2 275.5Z"/><path d="M478 294.8 L478.7 294.6 L479.3 294.3 L480.1 293.9 L480.9 293.4 L481.8 292.9 L482.7 292.3 L483.7 291.7 L484.7 291 L485.6 290.3 L486.5 289.6 L487.4 288.8 L488.3 288.2 L489.1 287.5 L489.9 287 L490.6 286.5 L491.2 286.1 L492.3 285.5 L493.3 284.9 L494.3 284.5 L495.1 284.1 L495.9 283.9 L496.6 283.7 L497.3 283.7 L497.9 283.7 L498.6 283.8 L499.3 284 L500.2 284.4 L501 284.8 L501.9 285.4 L502.7 286 L503.4 286.7 L504 287.4 L504.5 288.1 L504.7 288.8 L504.8 289.4 L504.9 290.1 L504.9 291 L504.8 291.9 L504.6 292.9 L504.4 294 L504.1 295.1 L503.8 296.1 L503.5 297.2 L503.1 298.2 L502.7 299.2 L502.4 300 L501.9 300.8 L501.3 301.7 L500.7 302.5 L500 303.5 L499.4 304.4 L498.7 305.4 L498 306.3 L497.4 307.1 L496.9 307.9 L496.4 308.6 L496.2 309.3 L496.8 309.7 L497.4 309.5 L498.1 309.1 L498.9 308.6 L499.7 308 L500.7 307.3 L501.6 306.6 L502.6 305.7 L503.5 304.8 L504.3 303.8 L505.1 302.7 L505.6 301.6 L506.1 300.6 L506.5 299.5 L507 298.4 L507.3 297.2 L507.7 296 L508 294.8 L508.2 293.6 L508.4 292.4 L508.5 291.2 L508.6 290 L508.5 288.9 L508.3 287.8 L507.8 286.5 L507 285.2 L506.1 284.2 L505.1 283.2 L504 282.3 L502.9 281.6 L501.7 281 L500.6 280.5 L499.4 280.2 L498.3 280 L497.2 280 L496.1 280.1 L495 280.3 L493.9 280.7 L492.8 281.1 L491.7 281.6 L490.5 282.2 L489.4 282.9 L488.6 283.4 L487.8 284 L486.9 284.6 L486 285.2 L485.1 286 L484.2 286.7 L483.2 287.5 L482.4 288.3 L481.5 289.2 L480.8 290 L480 290.8 L479.4 291.6 L478.8 292.4 L478.2 293 L477.8 293.6 L477.6 294.2Z"/><path d="M496.8 285.9 L497.2 285.3 L497.6 284.5 L497.9 283.5 L498.2 282.5 L498.6 281.4 L499 280.3 L499.4 279.4 L499.8 278.5 L500.2 277.9 L500.7 277.3 L501.3 276.7 L502 276.1 L502.8 275.6 L503.6 275.1 L504.4 274.6 L505.3 274.2 L506.2 273.8 L507 273.4 L508 273.1 L509.1 272.8 L510.2 272.5 L511.5 272.2 L512.7 272 L513.7 271.7 L514.7 271.5 L515.3 271.1 L515.3 270.5 L514.6 270.2 L513.6 270.1 L512.5 270 L511.3 270 L509.9 270 L508.6 270 L507.2 270.2 L506 270.6 L505 271 L504 271.4 L503 271.9 L502 272.4 L501.1 273 L500.1 273.7 L499.3 274.4 L498.5 275.2 L497.8 276.1 L497.1 277.2 L496.7 278.4 L496.4 279.6 L496.2 280.9 L496.1 282.1 L496 283.2 L496 284.2 L496 285.1 L496.2 285.7Z"/><path d="M476.7 322.3 L477.4 322 L478.2 321.6 L479 321.1 L480 320.4 L480.9 319.7 L482 318.9 L483 318.1 L483.9 317.3 L484.7 316.4 L485.4 315.5 L486.1 314.6 L486.8 313.6 L487.5 312.5 L488.1 311.5 L488.6 310.4 L489.1 309.3 L489.4 308.2 L489.5 306.9 L489.3 305.6 L488.7 304.4 L487.9 303.5 L487.2 302.7 L486.6 302 L486 301.2 L485.6 300.2 L485.4 299.5 L485.2 298.6 L485 297.6 L484.7 296.6 L484.5 295.4 L484.4 294.3 L484.2 293.1 L484 292 L483.8 290.8 L483.6 289.8 L483.3 288.8 L483 287.9 L482.4 286.4 L481.7 285.1 L481 283.9 L480.4 283 L479.9 282.3 L479.3 281.9 L478.7 282.1 L478.7 282.9 L478.9 283.8 L479.1 284.8 L479.4 286 L479.7 287.3 L480 288.7 L480.1 289.5 L480.2 290.4 L480.4 291.4 L480.6 292.5 L480.8 293.7 L481 294.8 L481.2 296 L481.4 297.2 L481.6 298.3 L481.8 299.4 L482.1 300.4 L482.4 301.4 L483 302.8 L483.9 304 L484.7 305 L485.3 305.7 L485.8 306.3 L486 306.6 L486.1 307.1 L486 307.6 L485.9 308.2 L485.5 309 L485.1 309.8 L484.6 310.7 L484 311.6 L483.3 312.5 L482.6 313.5 L482.1 314.2 L481.4 315 L480.6 315.8 L479.9 316.8 L479.1 317.7 L478.3 318.7 L477.6 319.5 L477 320.4 L476.5 321.1 L476.3 321.7Z"/><path d="M461.6 327.3 L462.3 327.5 L463 327.4 L463.9 327.3 L464.7 327.2 L465.7 327 L466.7 326.7 L467.8 326.5 L468.9 326.3 L470 326 L471.1 325.6 L472.3 325.2 L473.5 324.8 L474.6 324.4 L475.8 324.1 L476.7 323.9 L477.5 323.7 L478.4 323.5 L479.4 323.4 L480.4 323.2 L481.4 323 L482.4 322.8 L483.5 322.6 L484.6 322.4 L485.6 322.3 L486.7 322.1 L487.8 321.9 L488.9 321.7 L490 321.6 L491 321.4 L492.1 321.2 L493.1 321.1 L494.1 320.9 L495 320.8 L496 320.6 L496.9 320.5 L498 320.3 L499.2 320.1 L500.3 320 L501.3 319.8 L502.4 319.7 L503.4 319.6 L504.5 319.5 L505.5 319.3 L506.5 319.2 L507.5 319 L508.4 318.9 L509.4 318.7 L510.3 318.4 L511.3 318.2 L512.2 317.9 L513.4 317.4 L514.5 317 L515.6 316.5 L516.7 315.9 L517.7 315.4 L518.6 314.7 L519.6 314.1 L520.5 313.4 L521.3 312.7 L522.2 311.9 L523.1 311.1 L523.8 310.3 L524.5 309.5 L525.2 308.7 L525.9 307.8 L526.6 306.9 L527.2 306 L527.9 305 L528.5 304.1 L529 303.1 L529.6 302.1 L530.1 301.1 L530.6 300.1 L531 299.2 L531.5 298.1 L531.8 297 L532.2 295.9 L532.5 294.7 L532.8 293.6 L533 292.5 L533.2 291.3 L533.4 290.2 L533.5 289.1 L533.6 288 L533.7 286.9 L533.7 285.8 L533.7 284.6 L533.6 283.5 L533.5 282.3 L533.3 281.1 L533.1 279.9 L532.9 278.8 L532.6 277.7 L532.3 276.6 L531.9 275.5 L531.4 274.5 L530.9 273.5 L530.3 272.4 L529.6 271.4 L528.9 270.5 L528.1 269.6 L527.2 268.8 L526.4 268 L525.5 267.2 L524.6 266.5 L523.7 265.9 L522.8 265.2 L521.8 264.6 L520.8 264 L519.7 263.4 L518.5 263 L517.3 262.6 L516.2 262.3 L515.1 262 L514.1 261.8 L513.1 261.7 L512.4 261.6 L511.6 261.7 L511.4 262.3 L511.7 262.9 L512.3 263.5 L513.1 264.1 L513.9 264.7 L514.8 265.3 L515.8 265.9 L516.7 266.6 L517.7 267.3 L518.6 267.8 L519.5 268.3 L520.2 268.8 L521.1 269.4 L521.9 270 L522.7 270.7 L523.5 271.3 L524.2 272 L524.9 272.6 L525.5 273.3 L526.1 274 L526.6 274.8 L527.1 275.5 L527.4 276.3 L527.8 277.1 L528.1 278 L528.4 278.9 L528.6 279.8 L528.8 280.8 L529 281.8 L529.1 282.8 L529.2 283.8 L529.3 284.8 L529.3 285.8 L529.3 286.7 L529.2 287.7 L529.2 288.7 L529 289.6 L528.9 290.6 L528.7 291.6 L528.5 292.6 L528.3 293.6 L528 294.6 L527.7 295.6 L527.3 296.5 L527 297.4 L526.6 298.3 L526.2 299.2 L525.7 300 L525.2 300.9 L524.7 301.8 L524.2 302.6 L523.6 303.5 L523 304.3 L522.4 305.1 L521.8 305.9 L521.2 306.6 L520.6 307.3 L519.9 307.9 L519.2 308.7 L518.5 309.3 L517.7 310 L517 310.5 L516.2 311.1 L515.4 311.6 L514.6 312.1 L513.7 312.5 L512.8 312.9 L511.8 313.3 L510.8 313.7 L510 314 L509.2 314.2 L508.4 314.4 L507.6 314.5 L506.7 314.7 L505.8 314.8 L504.9 315 L503.9 315.1 L502.9 315.2 L501.9 315.3 L500.8 315.5 L499.7 315.6 L498.5 315.8 L497.4 315.9 L496.1 316.1 L495.3 316.3 L494.3 316.4 L493.4 316.6 L492.4 316.7 L491.4 316.9 L490.3 317.1 L489.3 317.2 L488.2 317.4 L487.1 317.6 L486 317.7 L484.9 317.9 L483.8 318.1 L482.7 318.3 L481.7 318.5 L480.6 318.6 L479.6 318.8 L478.5 319 L477.5 319.2 L476.6 319.4 L475.7 319.7 L474.8 319.9 L473.5 320.2 L472.2 320.6 L470.9 321 L469.7 321.4 L468.5 321.8 L467.4 322.4 L466.4 323 L465.4 323.5 L464.5 324.1 L463.7 324.6 L463 325.2 L462.3 325.6 L461.8 326.1 L461.4 326.7Z"/><path d="M514.2 294.8 L514.8 294.7 L515.6 294.5 L516.5 294.2 L517.6 293.8 L518.7 293.4 L519.8 292.8 L520.9 292.1 L521.9 291.3 L522.7 290.3 L523.3 289.3 L523.8 288.2 L524.1 286.9 L524.3 285.7 L524.4 284.4 L524.5 283.2 L524.5 282.1 L524.5 281.1 L524.5 280.2 L524.3 279.6 L523.7 279.4 L523.3 280 L523 280.8 L522.7 281.8 L522.4 282.8 L522 284 L521.7 285.1 L521.3 286.2 L520.9 287.2 L520.6 288 L520.3 288.7 L519.8 289.3 L519.1 289.9 L518.4 290.6 L517.5 291.3 L516.6 292 L515.7 292.6 L514.9 293.1 L514.2 293.7 L513.8 294.2Z"/><path d="M535.7 282.1 L535.6 282.8 L535.7 283.5 L535.9 284.4 L536.1 285.3 L536.3 286.3 L536.5 287.4 L536.8 288.5 L537 289.6 L537.3 290.7 L537.6 291.8 L537.9 292.8 L538.1 293.8 L538.2 294.7 L538.3 295.6 L538.3 296.6 L538.3 297.7 L538.3 298.7 L538.2 299.7 L538.1 300.7 L538 301.7 L537.8 302.7 L537.6 303.7 L537.4 304.7 L537.2 305.6 L536.9 306.5 L536.6 307.5 L536.3 308.5 L535.8 309.5 L535.4 310.6 L535 311.6 L534.6 312.7 L534.2 313.7 L533.8 314.6 L533.5 315.4 L533.2 316.2 L533.2 316.8 L533.8 317.2 L534.3 316.8 L534.8 316.2 L535.4 315.5 L536 314.8 L536.7 313.9 L537.4 312.9 L538.1 311.9 L538.7 310.9 L539.2 309.7 L539.7 308.6 L540.1 307.5 L540.3 306.4 L540.6 305.4 L540.8 304.4 L541 303.3 L541.2 302.2 L541.3 301.1 L541.4 300 L541.5 298.8 L541.5 297.7 L541.5 296.6 L541.5 295.5 L541.4 294.3 L541.3 293.2 L541 292.1 L540.8 291 L540.4 289.8 L540 288.6 L539.6 287.5 L539 286.5 L538.5 285.5 L538.1 284.6 L537.6 283.7 L537.2 283 L536.8 282.4 L536.3 281.9Z"/><path d="M441.9 350.3 L442.5 350.3 L443.2 350.2 L444 350.1 L444.9 349.9 L445.9 349.7 L447 349.5 L448.1 349.3 L449.3 349.1 L450.4 348.8 L451.6 348.4 L452.8 348.1 L454 347.8 L455.2 347.5 L456.3 347.1 L457.3 346.8 L458.4 346.5 L459.3 346.3 L460.1 346 L461.5 345.5 L462.6 345 L463.6 344.6 L464.4 344.1 L465.2 343.7 L465.9 343.3 L466.7 342.9 L467.6 342.6 L468.7 342.3 L470 342 L470.8 341.9 L471.7 341.8 L472.7 341.7 L473.8 341.6 L474.9 341.5 L476.1 341.5 L477.3 341.4 L478.5 341.4 L479.8 341.3 L481 341.3 L482.2 341.2 L483.4 341.1 L484.6 341 L485.7 340.9 L486.7 340.8 L487.6 340.7 L488.4 340.6 L489.1 340.5 L489.7 340.3 L489.7 339.7 L489.1 339.5 L488.4 339.5 L487.6 339.4 L486.6 339.3 L485.6 339.3 L484.5 339.3 L483.4 339.2 L482.2 339.2 L481 339.2 L479.7 339.2 L478.5 339.3 L477.2 339.3 L476 339.4 L474.8 339.4 L473.6 339.5 L472.5 339.6 L471.5 339.7 L470.5 339.8 L469.6 340 L468.2 340.3 L467 340.6 L465.9 341 L465 341.4 L464.2 341.8 L463.4 342.3 L462.6 342.7 L461.7 343.1 L460.7 343.6 L459.5 344 L458.7 344.3 L457.8 344.5 L456.8 344.8 L455.7 345.1 L454.6 345.4 L453.4 345.8 L452.3 346.1 L451.1 346.4 L449.9 346.7 L448.7 347.1 L447.6 347.4 L446.5 347.8 L445.5 348.2 L444.6 348.5 L443.7 348.8 L442.9 349.1 L442.2 349.4 L441.7 349.7Z"/><path d="M424.9 365.2 L425.5 365.3 L426.1 365.2 L426.9 365.1 L427.7 365 L428.7 364.9 L429.7 364.8 L430.7 364.6 L431.8 364.4 L432.9 364.3 L434.1 364 L435.3 363.8 L436.4 363.6 L437.6 363.4 L438.8 363.1 L440 362.9 L440.9 362.8 L441.8 362.6 L442.7 362.5 L443.7 362.3 L444.7 362.2 L445.7 362 L446.8 361.8 L447.8 361.7 L448.9 361.5 L450 361.4 L451 361.2 L452.1 361.1 L453.1 360.9 L454.2 360.8 L455.2 360.6 L456.2 360.5 L457.2 360.3 L458.1 360.2 L459.1 360.1 L459.9 359.9 L461.1 359.8 L462.2 359.6 L463.2 359.5 L464.3 359.3 L465.2 359.2 L466.2 359.1 L467.2 358.9 L468.1 358.8 L469 358.7 L470 358.6 L470.9 358.5 L471.9 358.3 L472.9 358.2 L473.9 358.1 L474.9 358 L475.9 358 L477 357.9 L478.2 357.8 L479.4 357.7 L480.6 357.6 L481.8 357.6 L483 357.5 L484.2 357.4 L485.4 357.3 L486.6 357.2 L487.6 357 L488.7 356.9 L489.6 356.8 L490.4 356.7 L491.1 356.5 L491.7 356.3 L491.7 355.7 L491.1 355.5 L490.4 355.5 L489.5 355.4 L488.6 355.4 L487.6 355.4 L486.5 355.4 L485.3 355.4 L484.1 355.4 L482.9 355.4 L481.7 355.5 L480.4 355.5 L479.2 355.6 L478 355.7 L476.9 355.8 L475.7 355.9 L474.7 356 L473.7 356.1 L472.6 356.2 L471.6 356.3 L470.7 356.4 L469.7 356.5 L468.8 356.6 L467.8 356.7 L466.9 356.8 L465.9 357 L465 357.1 L464 357.3 L462.9 357.4 L461.9 357.5 L460.8 357.7 L459.7 357.9 L458.8 358 L457.8 358.1 L456.9 358.3 L455.9 358.4 L454.9 358.5 L453.9 358.7 L452.8 358.8 L451.8 359 L450.7 359.1 L449.6 359.3 L448.6 359.5 L447.5 359.6 L446.5 359.8 L445.4 359.9 L444.4 360.1 L443.4 360.2 L442.4 360.4 L441.4 360.6 L440.5 360.7 L439.6 360.9 L438.4 361.1 L437.2 361.3 L436 361.5 L434.8 361.7 L433.7 362 L432.5 362.2 L431.4 362.5 L430.3 362.8 L429.3 363.1 L428.3 363.3 L427.4 363.6 L426.6 363.9 L425.9 364.1 L425.3 364.3 L424.7 364.6Z"/><path d="M421.9 372.2 L422.5 372.3 L423.2 372.3 L423.9 372.3 L424.7 372.3 L425.6 372.3 L426.6 372.2 L427.6 372.2 L428.6 372.1 L429.7 372.1 L430.8 371.9 L432 371.8 L433.1 371.7 L434.3 371.6 L435.5 371.4 L436.6 371.3 L437.7 371.2 L438.8 371.1 L439.9 370.9 L440.9 370.8 L441.8 370.7 L442.8 370.7 L443.8 370.6 L444.7 370.5 L445.7 370.4 L446.7 370.3 L447.7 370.2 L448.8 370.1 L449.8 370 L450.8 369.9 L451.8 369.8 L452.8 369.7 L453.8 369.6 L454.9 369.5 L455.9 369.4 L456.9 369.3 L457.9 369.2 L458.9 369.1 L459.9 368.9 L460.9 368.8 L462 368.7 L463 368.5 L464 368.4 L465.1 368.2 L466.1 368 L467.2 367.9 L468.2 367.7 L469.3 367.5 L470.3 367.4 L471.3 367.2 L472.3 367 L473.3 366.9 L474.3 366.7 L475.3 366.6 L476.3 366.4 L477.2 366.3 L478.1 366.2 L479 366 L479.9 365.9 L481.2 365.8 L482.4 365.7 L483.7 365.6 L484.9 365.5 L486.2 365.4 L487.4 365.3 L488.6 365.2 L489.7 365 L490.7 364.9 L491.7 364.8 L492.6 364.7 L493.4 364.6 L494.1 364.4 L494.7 364.2 L494.7 363.6 L494.1 363.4 L493.4 363.4 L492.6 363.3 L491.6 363.3 L490.6 363.3 L489.6 363.3 L488.4 363.3 L487.3 363.3 L486 363.3 L484.8 363.4 L483.5 363.5 L482.2 363.6 L481 363.7 L479.7 363.9 L478.8 364 L477.9 364.1 L476.9 364.2 L476 364.3 L475 364.5 L474 364.6 L473 364.8 L472 365 L471 365.1 L469.9 365.3 L468.9 365.5 L467.9 365.6 L466.8 365.8 L465.8 366 L464.8 366.1 L463.7 366.3 L462.7 366.4 L461.7 366.6 L460.7 366.7 L459.7 366.9 L458.7 367 L457.7 367.1 L456.7 367.2 L455.7 367.3 L454.6 367.4 L453.6 367.5 L452.6 367.6 L451.6 367.7 L450.6 367.8 L449.6 367.9 L448.6 368 L447.6 368.1 L446.5 368.2 L445.5 368.3 L444.6 368.4 L443.6 368.5 L442.6 368.6 L441.6 368.7 L440.6 368.8 L439.7 368.9 L438.6 369 L437.5 369.1 L436.4 369.2 L435.2 369.3 L434.1 369.5 L432.9 369.6 L431.7 369.7 L430.6 369.9 L429.5 370 L428.4 370.2 L427.4 370.4 L426.4 370.5 L425.4 370.7 L424.6 370.9 L423.7 371 L423 371.2 L422.4 371.4 L421.9 371.6Z"/><path d="M409.9 377.2 L410.5 377.4 L411.2 377.5 L411.9 377.6 L412.8 377.6 L413.7 377.7 L414.7 377.8 L415.8 377.9 L416.9 377.9 L418 378 L419.2 378 L420.4 378 L421.6 378 L422.8 378 L424.1 378 L425.3 378 L426.5 378 L427.6 378 L428.7 378 L429.8 377.9 L430.8 377.9 L431.8 377.9 L432.8 377.9 L433.8 377.8 L434.8 377.8 L435.8 377.8 L436.8 377.8 L437.8 377.7 L438.8 377.7 L439.8 377.6 L440.8 377.6 L441.8 377.5 L442.9 377.5 L443.9 377.4 L444.9 377.4 L445.9 377.3 L446.9 377.2 L447.9 377.1 L448.9 377 L449.9 376.9 L450.9 376.8 L451.9 376.7 L452.9 376.6 L454 376.4 L455 376.3 L456 376.1 L457 376 L458 375.8 L459 375.6 L460 375.4 L461 375.3 L462 375.1 L463 374.9 L464 374.8 L465 374.6 L466 374.4 L466.9 374.3 L467.9 374.2 L468.9 374.1 L469.9 373.9 L471 373.8 L472.1 373.8 L473.2 373.7 L474.4 373.6 L475.6 373.5 L476.8 373.5 L478 373.4 L479.3 373.3 L480.5 373.3 L481.6 373.2 L482.8 373.1 L483.9 373 L484.9 372.9 L485.9 372.8 L486.8 372.7 L487.7 372.6 L488.5 372.5 L489.1 372.4 L489.7 372.2 L489.7 371.6 L489.1 371.4 L488.4 371.4 L487.7 371.3 L486.8 371.3 L485.9 371.2 L484.9 371.2 L483.8 371.2 L482.7 371.2 L481.5 371.1 L480.4 371.2 L479.2 371.2 L477.9 371.3 L476.7 371.4 L475.5 371.4 L474.3 371.5 L473.1 371.6 L471.9 371.7 L470.8 371.8 L469.7 371.9 L468.7 372 L467.7 372.1 L466.7 372.2 L465.7 372.4 L464.6 372.5 L463.6 372.7 L462.6 372.8 L461.6 373 L460.6 373.2 L459.6 373.4 L458.6 373.5 L457.6 373.7 L456.6 373.9 L455.6 374 L454.6 374.2 L453.6 374.4 L452.7 374.5 L451.7 374.6 L450.7 374.7 L449.7 374.9 L448.7 375 L447.7 375 L446.7 375.1 L445.7 375.2 L444.7 375.3 L443.7 375.3 L442.7 375.4 L441.7 375.4 L440.7 375.5 L439.7 375.5 L438.8 375.6 L437.8 375.6 L436.8 375.7 L435.8 375.7 L434.8 375.7 L433.8 375.7 L432.8 375.8 L431.8 375.8 L430.8 375.8 L429.8 375.9 L428.7 375.9 L427.6 375.9 L426.4 375.9 L425.2 375.9 L424 375.9 L422.8 375.9 L421.6 375.9 L420.4 375.9 L419.2 375.9 L418 375.9 L416.9 376 L415.8 376 L414.7 376.1 L413.7 376.1 L412.8 376.2 L411.9 376.3 L411.2 376.3 L410.5 376.4 L409.9 376.6Z"/><path d="M414.9 385.2 L415.5 385.3 L416.2 385.3 L416.9 385.3 L417.8 385.2 L418.7 385.2 L419.7 385.1 L420.7 385 L421.8 384.9 L422.9 384.8 L424 384.7 L425.2 384.5 L426.4 384.4 L427.6 384.2 L428.8 384.1 L429.9 383.9 L430.8 383.8 L431.7 383.7 L432.6 383.6 L433.6 383.5 L434.5 383.4 L435.5 383.3 L436.5 383.2 L437.5 383.1 L438.6 383 L439.6 382.9 L440.6 382.8 L441.7 382.7 L442.7 382.6 L443.7 382.5 L444.8 382.4 L445.8 382.3 L446.9 382.2 L447.9 382.1 L448.9 382 L449.9 381.9 L450.9 381.8 L451.9 381.7 L452.9 381.6 L453.9 381.5 L454.9 381.4 L455.9 381.3 L456.9 381.2 L457.9 381.1 L458.9 381 L459.9 380.9 L460.9 380.8 L461.9 380.7 L462.9 380.6 L463.9 380.5 L464.9 380.4 L465.9 380.3 L466.9 380.2 L467.9 380.1 L468.9 380 L469.9 379.9 L470.9 379.9 L472 379.8 L473.1 379.7 L474.2 379.7 L475.4 379.6 L476.5 379.6 L477.7 379.5 L478.9 379.5 L480 379.4 L481.2 379.4 L482.3 379.3 L483.4 379.2 L484.4 379.1 L485.4 379 L486.4 378.9 L487.3 378.8 L488.1 378.7 L488.8 378.6 L489.5 378.5 L490 378.3 L490 377.7 L489.4 377.5 L488.8 377.5 L488 377.4 L487.2 377.4 L486.3 377.4 L485.4 377.3 L484.4 377.3 L483.3 377.3 L482.2 377.2 L481.1 377.3 L480 377.3 L478.8 377.4 L477.6 377.4 L476.4 377.5 L475.3 377.5 L474.1 377.6 L473 377.6 L471.8 377.7 L470.8 377.8 L469.7 377.9 L468.7 377.9 L467.7 378 L466.7 378.1 L465.7 378.2 L464.7 378.3 L463.7 378.4 L462.7 378.5 L461.7 378.6 L460.7 378.7 L459.7 378.8 L458.7 378.9 L457.7 379 L456.7 379.1 L455.7 379.2 L454.7 379.3 L453.7 379.4 L452.7 379.5 L451.7 379.7 L450.7 379.8 L449.7 379.9 L448.7 380 L447.7 380.1 L446.6 380.2 L445.6 380.3 L444.6 380.4 L443.5 380.5 L442.5 380.6 L441.5 380.7 L440.4 380.8 L439.4 380.9 L438.4 381 L437.3 381.1 L436.3 381.2 L435.3 381.3 L434.3 381.4 L433.4 381.5 L432.4 381.6 L431.5 381.7 L430.6 381.8 L429.7 381.9 L428.5 382 L427.3 382.1 L426.1 382.3 L424.9 382.4 L423.8 382.6 L422.6 382.8 L421.5 383 L420.4 383.2 L419.4 383.4 L418.5 383.6 L417.6 383.8 L416.8 384 L416 384.2 L415.4 384.3 L414.9 384.6Z"/><path d="M416.8 390.2 L417.3 390.5 L417.9 390.8 L418.7 391.1 L419.5 391.4 L420.4 391.7 L421.4 392 L422.4 392.4 L423.5 392.7 L424.7 393.1 L425.9 393.3 L427.1 393.6 L428.4 393.8 L429.7 393.9 L430.5 394 L431.4 394.1 L432.4 394.3 L433.3 394.4 L434.3 394.5 L435.3 394.6 L436.4 394.6 L437.4 394.7 L438.5 394.8 L439.6 394.9 L440.7 395 L441.8 395 L442.9 395 L443.9 395.1 L445 395.1 L446 395.1 L447 395.1 L448 395.1 L449 395 L449.9 394.9 L451.1 394.8 L452.2 394.7 L453.3 394.4 L454.3 394.2 L455.4 393.9 L456.4 393.7 L457.3 393.4 L458.3 393 L459.2 392.7 L460.2 392.4 L461.1 392.1 L462.1 391.8 L463 391.5 L464 391.2 L465.1 390.9 L466 390.7 L467.1 390.4 L468.2 390.2 L469.3 389.9 L470.5 389.7 L471.6 389.4 L472.8 389.1 L474 388.9 L475.1 388.6 L476.2 388.2 L477.3 387.9 L478.3 387.6 L479.2 387.4 L480.1 387.1 L480.9 386.8 L481.5 386.6 L482.1 386.3 L481.9 385.7 L481.3 385.6 L480.6 385.7 L479.8 385.8 L478.9 385.9 L478 386.1 L476.9 386.2 L475.8 386.4 L474.7 386.6 L473.5 386.8 L472.4 387.1 L471.2 387.3 L470 387.6 L468.8 387.9 L467.7 388.1 L466.6 388.4 L465.5 388.6 L464.5 388.9 L463.5 389.2 L462.4 389.5 L461.4 389.8 L460.4 390.1 L459.5 390.4 L458.5 390.7 L457.6 391.1 L456.7 391.4 L455.8 391.6 L454.8 391.9 L453.9 392.2 L452.9 392.4 L451.9 392.6 L450.8 392.7 L449.7 392.9 L448.8 392.9 L447.9 393 L447 393 L446 393 L445 393 L444 393 L442.9 392.9 L441.9 392.9 L440.8 392.9 L439.7 392.8 L438.7 392.7 L437.6 392.6 L436.6 392.6 L435.5 392.5 L434.5 392.4 L433.5 392.3 L432.6 392.2 L431.7 392.1 L430.8 392 L429.9 391.9 L428.7 391.7 L427.5 391.5 L426.3 391.3 L425.1 391 L424 390.8 L422.9 390.6 L421.8 390.4 L420.8 390.2 L419.9 390 L419 389.8 L418.3 389.7 L417.6 389.6 L417 389.6Z"/><path d="M424.7 401.2 L425.2 401.5 L425.8 401.8 L426.6 402.1 L427.4 402.5 L428.3 402.8 L429.2 403.2 L430.2 403.6 L431.3 404 L432.4 404.4 L433.6 404.7 L434.8 405 L436 405.3 L437.2 405.6 L438.5 405.8 L439.7 405.9 L440.6 406 L441.5 406.1 L442.5 406.2 L443.5 406.3 L444.5 406.4 L445.6 406.5 L446.6 406.5 L447.7 406.6 L448.8 406.6 L449.8 406.6 L450.9 406.6 L452 406.6 L453.1 406.6 L454.1 406.6 L455.2 406.5 L456.2 406.5 L457.2 406.4 L458.2 406.2 L459.1 406.1 L460 405.9 L461.2 405.6 L462.4 405.3 L463.6 404.8 L464.8 404.3 L465.9 403.8 L467.1 403.2 L468.1 402.6 L469.1 402 L470.1 401.4 L471 400.7 L471.8 400.2 L472.5 399.6 L473.2 399.1 L473.7 398.7 L474.2 398.3 L473.8 397.7 L473.2 397.8 L472.6 398.1 L471.8 398.5 L471 398.9 L470.1 399.3 L469.2 399.8 L468.2 400.3 L467.1 400.8 L466.1 401.4 L465 401.9 L463.9 402.4 L462.9 402.9 L461.8 403.3 L460.7 403.6 L459.6 403.9 L458.8 404 L457.9 404.2 L457 404.3 L456 404.4 L455 404.4 L454 404.5 L453 404.5 L452 404.5 L450.9 404.5 L449.9 404.5 L448.8 404.5 L447.8 404.5 L446.7 404.4 L445.7 404.4 L444.7 404.3 L443.7 404.2 L442.7 404.1 L441.7 404 L440.8 404 L439.9 403.9 L438.8 403.7 L437.6 403.5 L436.5 403.3 L435.3 403 L434.1 402.7 L433 402.4 L431.9 402.1 L430.8 401.8 L429.7 401.6 L428.8 401.3 L427.8 401.1 L427 400.9 L426.2 400.7 L425.5 400.6 L424.9 400.6Z"/><path d="M429.7 415.2 L430.3 415.5 L430.9 415.7 L431.7 415.9 L432.6 416.2 L433.5 416.4 L434.6 416.7 L435.6 417 L436.8 417.2 L437.9 417.5 L439.1 417.6 L440.3 417.8 L441.5 417.9 L442.6 418 L443.8 418 L444.9 417.9 L446 417.8 L447.1 417.7 L448.3 417.4 L449.4 417.2 L450.6 416.9 L451.8 416.5 L453 416.2 L454.1 415.8 L455.2 415.3 L456.2 414.9 L457.1 414.5 L458 414.2 L458.7 413.8 L459.4 413.5 L459.9 413.2 L459.7 412.6 L459.1 412.6 L458.4 412.7 L457.5 412.9 L456.6 413.1 L455.7 413.4 L454.6 413.7 L453.5 413.9 L452.4 414.2 L451.2 414.5 L450.1 414.8 L448.9 415.1 L447.8 415.4 L446.7 415.6 L445.7 415.8 L444.7 415.9 L443.8 415.9 L442.7 415.9 L441.6 415.8 L440.5 415.7 L439.4 415.6 L438.2 415.4 L437.1 415.3 L436 415.1 L434.9 415 L433.8 414.8 L432.9 414.7 L432 414.6 L431.2 414.5 L430.4 414.5 L429.9 414.6Z"/><path d="M473.5 353 L473.4 353.7 L473.4 354.5 L473.4 355.4 L473.5 356.4 L473.6 357.5 L473.6 358.7 L473.7 359.9 L473.7 361.2 L473.8 362.4 L473.8 363.6 L473.8 364.8 L473.7 365.7 L473.6 366.6 L473.4 367.5 L473.3 368.5 L473.1 369.5 L472.9 370.5 L472.7 371.5 L472.5 372.5 L472.2 373.5 L472 374.5 L471.8 375.6 L471.5 376.6 L471.3 377.6 L471 378.7 L470.8 379.7 L470.5 380.7 L470.3 381.8 L470 382.9 L469.7 384 L469.4 385.2 L469.1 386.3 L468.8 387.5 L468.5 388.6 L468.3 389.7 L468.1 390.8 L467.9 391.8 L467.7 392.7 L467.6 393.5 L467.5 394.2 L467.5 394.8 L468.1 395 L468.4 394.5 L468.7 393.8 L469 393 L469.3 392.2 L469.7 391.2 L470 390.2 L470.4 389.1 L470.7 388 L471.1 386.9 L471.4 385.7 L471.7 384.6 L472 383.4 L472.3 382.3 L472.6 381.2 L472.8 380.1 L473.1 379.1 L473.3 378.1 L473.5 377.1 L473.8 376.1 L474 375 L474.3 374 L474.5 372.9 L474.8 371.9 L475 370.9 L475.2 369.9 L475.3 368.9 L475.5 367.9 L475.6 366.9 L475.8 365.9 L475.8 365 L475.9 363.7 L475.9 362.4 L475.8 361 L475.7 359.8 L475.5 358.5 L475.2 357.3 L475 356.2 L474.8 355.2 L474.6 354.3 L474.4 353.6 L474.1 353Z"/><path d="M371.6 375.1 L371.8 375.6 L372.1 376.2 L372.4 376.8 L372.8 377.5 L373.3 378.2 L373.7 379 L374.2 379.8 L374.7 380.7 L375.3 381.6 L375.9 382.5 L376.5 383.4 L377.2 384.4 L377.8 385.3 L378.5 386.3 L379.2 387.3 L379.9 388.2 L380.5 389.2 L381.2 390.2 L381.9 391.1 L382.5 392.1 L383.2 393 L383.8 393.9 L384.5 394.7 L385.1 395.5 L385.7 396.4 L386.4 397.3 L387.1 398.2 L387.8 399.2 L388.5 400.1 L389.3 401.1 L390 402 L390.8 403 L391.5 403.9 L392.2 404.9 L393 405.8 L393.7 406.7 L394.4 407.6 L395.1 408.4 L395.8 409.1 L396.4 409.9 L397.1 410.6 L397.6 411.2 L398.2 411.8 L398.7 412.3 L399.2 412.8 L399.6 413.1 L400.2 412.7 L399.9 412.2 L399.6 411.6 L399.2 411 L398.8 410.3 L398.3 409.6 L397.8 408.8 L397.2 408 L396.6 407.2 L396 406.3 L395.3 405.4 L394.6 404.5 L393.9 403.6 L393.1 402.6 L392.4 401.7 L391.7 400.8 L390.9 399.8 L390.2 398.8 L389.5 397.9 L388.8 397 L388.1 396 L387.4 395.2 L386.7 394.3 L386.2 393.5 L385.5 392.6 L384.9 391.7 L384.3 390.8 L383.6 389.9 L382.9 389 L382.3 388 L381.6 387 L380.9 386.1 L380.2 385.1 L379.5 384.1 L378.9 383.2 L378.2 382.2 L377.6 381.3 L377 380.4 L376.3 379.6 L375.7 378.8 L375.1 378.1 L374.5 377.4 L374 376.7 L373.5 376.1 L373 375.5 L372.6 375.1 L372.2 374.7Z"/><path d="M377.6 377.1 L377.9 377.6 L378.2 378.2 L378.6 378.8 L379 379.4 L379.5 380.1 L380 380.9 L380.6 381.7 L381.2 382.5 L381.8 383.4 L382.5 384.2 L383.2 385.1 L383.9 386 L384.6 386.9 L385.4 387.9 L386.2 388.8 L386.9 389.7 L387.7 390.6 L388.5 391.5 L389.2 392.4 L390 393.3 L390.7 394.1 L391.5 394.9 L392.2 395.6 L392.9 396.4 L393.5 397 L394.2 397.7 L395.1 398.5 L396.1 399.3 L397 400.1 L398 400.8 L399 401.5 L400 402.2 L401 402.9 L402 403.5 L402.9 404 L403.9 404.5 L404.8 405 L405.7 405.4 L406.5 405.8 L407.3 406.2 L408 406.5 L408.6 406.8 L409.2 407 L409.7 407.2 L410.1 406.6 L409.7 406.2 L409.2 405.8 L408.6 405.4 L408 404.9 L407.3 404.4 L406.5 403.9 L405.7 403.4 L404.9 402.9 L404 402.3 L403.1 401.7 L402.1 401.1 L401.2 400.5 L400.2 399.8 L399.3 399.1 L398.3 398.4 L397.4 397.7 L396.5 396.9 L395.6 396.1 L395 395.5 L394.4 394.9 L393.7 394.2 L393 393.5 L392.3 392.7 L391.6 391.9 L390.8 391 L390.1 390.1 L389.3 389.3 L388.5 388.4 L387.8 387.4 L387 386.5 L386.3 385.6 L385.5 384.7 L384.8 383.8 L384.1 382.9 L383.4 382.1 L382.7 381.3 L382 380.5 L381.4 379.8 L380.7 379.2 L380.2 378.5 L379.6 378 L379.1 377.4 L378.6 377 L378.2 376.7Z"/><path d="M384.6 375.1 L384.9 375.6 L385.3 376.2 L385.8 376.8 L386.3 377.5 L386.8 378.2 L387.5 379 L388.1 379.8 L388.8 380.6 L389.5 381.5 L390.3 382.4 L391.1 383.2 L391.9 384.1 L392.8 385 L393.6 385.8 L394.4 386.7 L395.3 387.5 L396.1 388.2 L396.9 388.9 L397.8 389.6 L398.5 390.2 L399.3 390.8 L400.4 391.4 L401.6 392 L402.7 392.6 L403.9 393.1 L405.1 393.5 L406.3 393.9 L407.5 394.2 L408.7 394.4 L409.8 394.6 L410.8 394.8 L411.8 394.9 L412.7 395 L413.5 395.1 L414.2 395.2 L414.8 395.2 L415 394.6 L414.5 394.3 L413.8 394 L413 393.7 L412.1 393.5 L411.2 393.2 L410.2 392.9 L409.1 392.6 L408 392.2 L406.9 391.9 L405.8 391.5 L404.7 391.1 L403.6 390.7 L402.5 390.2 L401.5 389.6 L400.5 389 L399.8 388.5 L399.1 388 L398.3 387.4 L397.5 386.7 L396.7 385.9 L395.9 385.2 L395.1 384.3 L394.3 383.5 L393.4 382.7 L392.6 381.8 L391.8 380.9 L391.1 380.1 L390.3 379.3 L389.5 378.5 L388.7 377.8 L388 377.1 L387.4 376.5 L386.7 375.9 L386.2 375.4 L385.6 375 L385.2 374.7Z"/><path d="M341.7 387.1 L341.9 387.6 L342.1 388.3 L342.4 389 L342.8 389.8 L343.2 390.7 L343.7 391.6 L344.1 392.6 L344.6 393.6 L345.2 394.7 L345.7 395.7 L346.3 396.7 L346.9 397.7 L347.5 398.7 L348 399.7 L348.6 400.6 L349.1 401.5 L349.7 402.4 L350.3 403.4 L351 404.4 L351.6 405.4 L352.3 406.4 L353 407.4 L353.7 408.3 L354.4 409.2 L355.1 410 L355.7 410.8 L356.3 411.5 L356.8 412.2 L357.3 412.7 L357.7 413.1 L358.3 412.7 L358.1 412.1 L357.8 411.5 L357.4 410.8 L356.9 410 L356.4 409.1 L355.9 408.2 L355.3 407.2 L354.7 406.2 L354.1 405.2 L353.4 404.2 L352.7 403.2 L352.1 402.3 L351.5 401.3 L350.9 400.3 L350.4 399.5 L349.8 398.6 L349.3 397.7 L348.7 396.7 L348.1 395.7 L347.6 394.7 L347 393.6 L346.4 392.7 L345.8 391.7 L345.2 390.8 L344.6 389.9 L344.1 389.1 L343.6 388.4 L343.1 387.7 L342.7 387.2 L342.3 386.7Z"/><path d="M361.7 386.9 L361.5 387.6 L361.5 388.5 L361.5 389.5 L361.5 390.7 L361.5 391.9 L361.5 393.1 L361.7 394.2 L361.9 395.1 L362.4 396.5 L363 397.7 L363.6 398.7 L364.1 399.5 L364.6 400 L365.2 399.8 L365.1 399 L364.8 398.1 L364.4 397.1 L364.1 395.9 L363.9 394.7 L363.8 393.8 L363.6 392.8 L363.4 391.7 L363.2 390.5 L363 389.4 L362.8 388.4 L362.6 387.5 L362.3 386.9Z"/></g><g fill="#adada5"><path d="M196.1 306.5 L196.8 306.6 L197.5 306.6 L198.4 306.6 L199.4 306.5 L200.5 306.4 L201.6 306.3 L202.8 306.1 L204 306 L205.2 305.8 L206.4 305.6 L207.5 305.3 L208.6 305 L209.6 304.7 L210.6 304.4 L211.6 304.1 L212.6 303.8 L213.6 303.5 L214.6 303.2 L215.6 302.8 L216.6 302.5 L217.6 302.3 L218.5 302 L219.5 301.8 L220.4 301.6 L221.4 301.4 L222.4 301.2 L223.4 301 L224.4 300.8 L225.5 300.7 L226.5 300.5 L227.5 300.4 L228.4 300.3 L229.4 300.2 L230.3 300.2 L231.2 300.1 L232 300.1 L233.2 300.1 L234.2 300.2 L235.1 300.3 L236 300.4 L236.9 300.6 L237.9 300.8 L239 301.1 L240.2 301.5 L240.9 301.8 L241.8 302.1 L242.7 302.5 L243.7 302.9 L244.7 303.4 L245.8 303.9 L246.9 304.4 L247.9 304.9 L249 305.3 L250 305.8 L251 306.1 L252 306.4 L253.1 306.6 L254.8 306.6 L256.4 306.3 L257.8 305.7 L258.8 305 L259.6 304.4 L260.6 303.8 L261.4 303.3 L262.3 302.7 L263.1 302.1 L263.8 301.5 L264.6 300.9 L265.4 300.3 L266.1 299.8 L266.9 299.3 L267.8 298.9 L268.6 298.7 L269.4 298.4 L270.3 298.1 L271.3 297.9 L272.2 297.7 L273.3 297.5 L274.3 297.3 L275.4 297.1 L276.5 296.9 L277.5 296.7 L278.6 296.6 L279.6 296.4 L280.6 296.3 L281.6 296.1 L282.6 296 L283.7 295.9 L284.7 295.8 L285.7 295.7 L286.8 295.6 L287.8 295.5 L288.8 295.4 L289.8 295.4 L290.8 295.4 L291.8 295.4 L292.9 295.5 L294.1 295.5 L295.2 295.4 L296.5 295.4 L297.6 295.4 L298.8 295.4 L299.9 295.4 L300.9 295.4 L301.8 295.3 L302.6 295.2 L303.2 295 L303.4 294 L302.8 293.6 L302.1 293.4 L301.2 293.1 L300.2 292.8 L299.2 292.5 L298 292.2 L296.8 291.9 L295.6 291.7 L294.4 291.4 L293.2 291.3 L292 291.2 L290.8 291.2 L289.7 291.2 L288.6 291.2 L287.5 291.3 L286.4 291.4 L285.3 291.5 L284.3 291.6 L283.2 291.7 L282.1 291.8 L281.1 292 L280 292.1 L279 292.3 L278 292.4 L276.9 292.6 L275.8 292.8 L274.7 292.9 L273.6 293.1 L272.5 293.3 L271.4 293.6 L270.3 293.8 L269.2 294.1 L268.2 294.4 L267.2 294.7 L266.2 295.1 L265 295.6 L264 296.2 L263 296.9 L262.1 297.5 L261.2 298.2 L260.5 298.8 L259.8 299.3 L259.1 299.8 L258.4 300.2 L257.3 300.9 L256.4 301.6 L255.7 302.1 L255.1 302.3 L254.5 302.5 L253.5 302.4 L253 302.3 L252.3 302.1 L251.5 301.8 L250.6 301.5 L249.6 301 L248.6 300.6 L247.6 300.1 L246.5 299.6 L245.5 299.1 L244.4 298.6 L243.4 298.2 L242.4 297.8 L241.4 297.5 L240.1 297.1 L239 296.8 L237.8 296.5 L236.7 296.3 L235.6 296.1 L234.5 296 L233.3 295.9 L232 295.9 L231.1 295.9 L230.1 296 L229.1 296 L228 296.1 L227 296.2 L225.9 296.4 L224.9 296.5 L223.8 296.7 L222.7 296.8 L221.7 297 L220.6 297.2 L219.6 297.4 L218.5 297.7 L217.5 297.9 L216.4 298.2 L215.4 298.5 L214.4 298.8 L213.4 299.2 L212.4 299.5 L211.4 299.8 L210.4 300.1 L209.4 300.4 L208.4 300.7 L207.4 301 L206.4 301.2 L205.3 301.5 L204.2 301.9 L203.1 302.3 L202 302.7 L200.9 303.2 L199.8 303.6 L198.8 304 L197.9 304.4 L197.1 304.7 L196.4 305.1 L195.9 305.5Z"/><path d="M221.6 273.8 L221 274.1 L220.5 274.7 L219.9 275.3 L219.2 276.1 L218.5 276.9 L217.8 277.9 L217.1 278.9 L216.3 279.9 L215.6 280.9 L215 282 L214.5 283.1 L214 284.3 L213.7 285.3 L213.4 286.3 L213.1 287.4 L212.8 288.4 L212.6 289.5 L212.4 290.5 L212.2 291.6 L212 292.6 L211.8 293.7 L211.6 294.7 L211.4 295.6 L211.2 296.6 L211 297.5 L210.7 298.5 L210.4 299.5 L210.1 300.5 L209.8 301.5 L209.5 302.6 L209.2 303.6 L208.9 304.5 L208.6 305.5 L208.4 306.4 L208.2 307.3 L208 308.1 L207.8 308.9 L207.5 310.4 L207.2 311.7 L206.9 312.9 L206.7 314 L206.5 314.9 L206.5 315.6 L207.5 316 L208 315.5 L208.6 314.8 L209.2 313.8 L209.8 312.7 L210.5 311.5 L211.2 310.1 L211.5 309.3 L211.9 308.5 L212.3 307.7 L212.6 306.7 L212.9 305.8 L213.2 304.8 L213.5 303.8 L213.8 302.7 L214.2 301.7 L214.5 300.6 L214.7 299.6 L215 298.5 L215.3 297.5 L215.5 296.5 L215.7 295.5 L215.9 294.4 L216.1 293.4 L216.3 292.4 L216.5 291.4 L216.7 290.4 L216.9 289.4 L217.1 288.4 L217.4 287.5 L217.7 286.6 L218 285.7 L218.3 284.8 L218.8 283.8 L219.2 282.8 L219.7 281.7 L220.1 280.6 L220.6 279.5 L221 278.5 L221.5 277.5 L221.8 276.5 L222.2 275.7 L222.4 274.9 L222.4 274.2Z"/></g></g></g><g id="hippo"><path d="M265 336.3C264.9 334.9 265.6 328.2 266.3 326.3C267.1 324.4 270.9 319.1 272.5 317.5C274.1 315.9 280.4 311.1 282.5 310C284.6 308.9 291.6 306.9 293.8 306.3C296.1 305.7 303 304 305 303.8C307 303.6 312.8 303.8 313.8 304.4C314.8 305 314.8 308.8 315 310C315.2 311.2 315.3 315.8 316.3 316.3C317.3 316.8 323.1 315.5 325 315C326.9 314.5 333.5 312.1 335 311.3C336.5 310.6 338.5 308 340 307.5C341.5 307 347.5 306.9 350 306.3C352.5 305.7 362.2 302.2 365 301.3C367.8 300.4 375 298.2 377.5 297.5C380 296.8 387.5 294.7 390 293.8C392.5 292.9 400 289.9 402.5 288.8C405 287.7 412.8 283.6 415 282.5C417.2 281.4 423.9 277.2 425 277.5C426.1 277.8 426.4 283.8 426.3 285C426.2 286.2 424.2 288.9 423.8 290C423.4 291.1 423.4 295.3 422.5 296.3C421.6 297.3 416.2 299 415 300C413.8 301 411.2 305.1 410 306.3C408.8 307.6 403.4 311.5 402.5 312.5C401.6 313.5 402.6 315.6 401.3 316.3C400.1 317.1 392.4 319.1 390 320C387.6 320.9 379.8 324.4 377.5 325C375.2 325.6 369.4 325.9 367.5 326.3C365.6 326.7 360.3 328.2 358.8 328.8C357.3 329.4 354.4 331.9 352.5 332.5C350.6 333.1 342.5 334.5 340 335C337.5 335.5 330 337.1 327.5 337.5C325 337.9 317.5 339.1 315 339.4C312.5 339.6 305 339.9 302.5 340C300 340.1 292.5 340.5 290 340.6C287.5 340.7 279.8 341.4 277.5 341.3C275.2 341.2 268.8 340.5 267.5 340C266.2 339.5 265.1 337.7 265 336.3Z" fill="#000" opacity="0.34" transform="translate(2 6)" filter="url(#shblur)"/><path d="M265 336.3C264.9 334.9 265.6 328.2 266.3 326.3C267.1 324.4 270.9 319.1 272.5 317.5C274.1 315.9 280.4 311.1 282.5 310C284.6 308.9 291.6 306.9 293.8 306.3C296.1 305.7 303 304 305 303.8C307 303.6 312.8 303.8 313.8 304.4C314.8 305 314.8 308.8 315 310C315.2 311.2 315.3 315.8 316.3 316.3C317.3 316.8 323.1 315.5 325 315C326.9 314.5 333.5 312.1 335 311.3C336.5 310.6 338.5 308 340 307.5C341.5 307 347.5 306.9 350 306.3C352.5 305.7 362.2 302.2 365 301.3C367.8 300.4 375 298.2 377.5 297.5C380 296.8 387.5 294.7 390 293.8C392.5 292.9 400 289.9 402.5 288.8C405 287.7 412.8 283.6 415 282.5C417.2 281.4 423.9 277.2 425 277.5C426.1 277.8 426.4 283.8 426.3 285C426.2 286.2 424.2 288.9 423.8 290C423.4 291.1 423.4 295.3 422.5 296.3C421.6 297.3 416.2 299 415 300C413.8 301 411.2 305.1 410 306.3C408.8 307.6 403.4 311.5 402.5 312.5C401.6 313.5 402.6 315.6 401.3 316.3C400.1 317.1 392.4 319.1 390 320C387.6 320.9 379.8 324.4 377.5 325C375.2 325.6 369.4 325.9 367.5 326.3C365.6 326.7 360.3 328.2 358.8 328.8C357.3 329.4 354.4 331.9 352.5 332.5C350.6 333.1 342.5 334.5 340 335C337.5 335.5 330 337.1 327.5 337.5C325 337.9 317.5 339.1 315 339.4C312.5 339.6 305 339.9 302.5 340C300 340.1 292.5 340.5 290 340.6C287.5 340.7 279.8 341.4 277.5 341.3C275.2 341.2 268.8 340.5 267.5 340C266.2 339.5 265.1 337.7 265 336.3Z" fill="#92cadd"/></g><filter id="kblur" x="0" y="0" width="100%" height="100%"><feGaussianBlur stdDeviation="0.55"/></filter><filter id="featherf" x="-20%" y="-20%" width="140%" height="140%"><feGaussianBlur stdDeviation="5"/></filter><mask id="kmask" maskUnits="userSpaceOnUse" x="-20" y="-20" width="230" height="181"><rect x="8" y="9" width="174" height="124" fill="#fff" filter="url(#featherf)"/></mask><g id="kitchen"><g mask="url(#kmask)"><g filter="url(#kblur)"><defs><linearGradient id="kwall" x1="0" y1="0" x2="1" y2="0"><stop offset="0" stop-color="#e4dcc4"/><stop offset="0.5" stop-color="#efe7d0"/><stop offset="1" stop-color="#f6f2e8"/></linearGradient><linearGradient id="kcab" x1="0" y1="0" x2="0" y2="1"><stop offset="0" stop-color="#d8bd85"/><stop offset="1" stop-color="#c9a86c"/></linearGradient><linearGradient id="kfloor" x1="0" y1="0" x2="1" y2="1"><stop offset="0" stop-color="#cfc0b4"/><stop offset="1" stop-color="#e8e0da"/></linearGradient><linearGradient id="kisl" x1="0" y1="0" x2="1" y2="0"><stop offset="0" stop-color="#a8453c"/><stop offset="1" stop-color="#8e3a33"/></linearGradient></defs><rect x="0" y="0" width="190" height="141" fill="url(#kwall)"/><path d="M0 0H190V30L160 26L118 30L75 24L35 15L0 13Z" fill="#f8f6f0"/><path d="M70 22L118 30L160 24" fill="none" stroke="#e6e0d4" stroke-width="1.5"/><path d="M4 13L35 21L35 28L30 36L4 37Z" fill="#e2d6b4"/><path d="M4 13L35 21L35 23L4 16Z" fill="#d3c49c"/><path d="M9 36L24 36L24 46L19 55L12 55Z" fill="#d2c49a"/><path d="M2 36L9 36L9 62L2 64Z" fill="#7d7466"/><path d="M32 26L73 36L73 40L32 30Z" fill="#6e4428"/><path d="M34.8 42A4.2 4.2 0 0 1 43.2 42Z" fill="#b8cc52"/><path d="M42.8 42.5A4.2 4.2 0 0 1 51.2 42.5Z" fill="#e9663f"/><path d="M52.8 44A4.2 4.2 0 0 1 61.2 44Z" fill="#f0b88a"/><path d="M62.8 45A4.2 4.2 0 0 1 71.2 45Z" fill="#e9663f"/><rect x="35" y="43" width="37" height="29" fill="#fbfbfa"/><path d="M35 43H72V72H35ZM44 43V72M54 43V72M64 43V72M35 57H72" fill="none" stroke="#c4bca8" stroke-width="1.1"/><path d="M36 66Q40 60 46 64L48 72H36Z" fill="#5d7c3c"/><path d="M73 24L114 28L114 65L73 65Z" fill="#efe5c6"/><path d="M73 24L114 28L114 31L73 28Z" fill="#ddd0aa"/><path d="M75 31H94V63H75Z" fill="#f3ebd0" stroke="#d2c49e" stroke-width="0.8"/><path d="M96 37H104V63H96Z" fill="#4e4036"/><path d="M97 45H103M97 52H103M97 58H103" stroke="#d8ccb4" stroke-width="1.3"/><path d="M105 33H113V63H105Z" fill="#efe6c9" stroke="#d6c9a4" stroke-width="0.6"/><path d="M80 65L114 65L111 72L83 72Z" fill="#ddd0ac"/><path d="M113 43L139 42L139 46L113 47Z" fill="#6e4428"/><path d="M119.5 51A3.5 3.5 0 0 1 126.5 51Z" fill="#e9663f"/><path d="M128.5 51A3.5 3.5 0 0 1 135.5 51Z" fill="#e9663f"/><rect x="119" y="51" width="26" height="20" fill="#fafaf8"/><path d="M119 51H145V71H119ZM132 51V71M119 61H145" fill="none" stroke="#c9c1ae" stroke-width="0.9"/><rect x="160" y="33" width="30" height="74" fill="#fbfbf9"/><path d="M166 40V100M178 40V100" stroke="#ecebe6" stroke-width="1"/><path d="M125 6L134 25M159 5L156 25M172 15L164 32" stroke="#5e574c" stroke-width="0.9" fill="none"/><path d="M131 25Q140 10 150 18Q156 11 163 24M136 25Q144 15 152 21" stroke="#5e574c" stroke-width="1.2" fill="none"/><path d="M124 25H163V37H124Z" fill="#d8cc9a" stroke="#ab9e6e" stroke-width="0.9"/><path d="M134 37L158 37L154 44L138 44Z" fill="#e2d8c2"/><path d="M140 44L143 54M148 44L149 56M155 44L154 52" stroke="#c7a890" stroke-width="1.3"/><ellipse cx="152" cy="65" rx="12" ry="8" fill="#b4603e"/><circle cx="146" cy="62" r="3.5" fill="#d88546"/><circle cx="155" cy="61" r="3.5" fill="#c84a34"/><circle cx="150" cy="68" r="3" fill="#6e8a3a"/><circle cx="159" cy="67" r="3" fill="#e09a50"/><circle cx="143" cy="67" r="2.5" fill="#5f7d38"/><circle cx="161" cy="62" r="2" fill="#7a9a48"/><path d="M146 72H160L158 78H148Z" fill="#f2ece8"/><ellipse cx="153" cy="72" rx="7" ry="2" fill="#c23c44"/><path d="M0 86L122 74L123 79L0 93Z" fill="#1d1a1c"/><path d="M20 73L30 68L35 78L26 82Z" fill="#eeeeec" stroke="#555" stroke-width="0.5"/><path d="M38 76Q43 70 48 75L46 80L40 81Z" fill="#4a6e34"/><path d="M52 78Q58 73 66 77L64 82L54 83Z" fill="#6b2a2e"/><path d="M68 76Q74 72 80 77L78 81L70 81Z" fill="#7c3230"/><path d="M84 72L86 62Q90 58 93 64" fill="none" stroke="#9a9a9a" stroke-width="0.9"/><path d="M100 72H114L114 76H100Z" fill="#e8e0e0"/><circle cx="108" cy="71" r="2.5" fill="#a84060"/><path d="M41 88L122 79L121 106L67 130L41 138Z" fill="url(#kcab)"/><path d="M41 88L122 79L122 82L41 92Z" fill="#b99a5e"/><path d="M67 86L67 131M90 83L90 120M106 81L106 113" stroke="#9c7e48" stroke-width="1.3"/><path d="M44 100L64 97M44 117L64 114M70 95L87 92M70 103L87 100M70 111L87 108M70 119L87 116M93 90L104 88M93 98L104 96M93 106L104 104M108 87L120 85M108 95L120 93M108 103L120 101" stroke="#b0935c" stroke-width="0.9"/><g fill="#3a2816"><circle cx="54" cy="96" r="1"/><circle cx="78" cy="91" r="1"/><circle cx="78" cy="99" r="1"/><circle cx="78" cy="107" r="1"/><circle cx="78" cy="115" r="1"/><circle cx="78" cy="123" r="1"/><circle cx="98" cy="88" r="1"/><circle cx="98" cy="96" r="1"/><circle cx="98" cy="104" r="1"/><circle cx="98" cy="112" r="1"/><circle cx="114" cy="85" r="1"/><circle cx="114" cy="93" r="1"/><circle cx="114" cy="101" r="1"/><circle cx="46" cy="118" r="1"/></g><path d="M49 104V130M58 103V128" stroke="#c2a46c" stroke-width="0.8"/><path d="M0 93L41 89L41 138L0 141Z" fill="#e2ded4"/><path d="M0 96L41 92L41 95L0 99Z" fill="#8f8a80"/><path d="M20 92H31V117H20Z" fill="#d09a94"/><path d="M22 92V117M25 92V117M28 92V117" stroke="#8a4a48" stroke-width="0.8"/><path d="M10 104L41 102M10 122L41 120" stroke="#aaa69a" stroke-width="1"/><path d="M12 92V141" stroke="#c8c4b8" stroke-width="1"/><path d="M41 138L67 130L121 106L190 104L190 141L41 141Z" fill="url(#kfloor)"/><path d="M60 141L112 117M92 141L142 112M140 141L172 110M75 129L162 129M100 120L180 120" stroke="#c3b4a8" stroke-width="0.7"/><path d="M118 80L168 82L169 87L118 85Z" fill="#4e3426"/><path d="M120 86L167 88L165 132L159 132L159 120L127 118L125 128L120 128Z" fill="url(#kisl)"/><path d="M127 118L159 120L159 124L127 122Z" fill="#7a302a"/><ellipse cx="148" cy="109" rx="9" ry="6" fill="#a88876"/><path d="M169 87L177 87L175 120L169 122Z" fill="#c49a98" opacity="0.7"/><path d="M121 90Q131 82 145 92" fill="none" stroke="#c6a464" stroke-width="1.8"/><path d="M123 90V100M128 88V100M133 87V100M138 88V100M143 90V100" stroke="#c6a464" stroke-width="1.1"/><ellipse cx="132" cy="100.5" rx="14" ry="3.2" fill="#ccab68"/><path d="M121 102L116 134M128 103L126 137M138 103L142 137M145 102L149 131M118 121L147 121" stroke="#bf9e5c" stroke-width="1.4" fill="none"/></g></g></g><radialGradient id="bgl" cx="0.5" cy="0.5" r="0.5"><stop offset="0" stop-color="#d9a264"/><stop offset="0.5" stop-color="#cc8646"/><stop offset="0.68" stop-color="#c07434"/><stop offset="0.8" stop-color="#c27838"/><stop offset="0.89" stop-color="#cf9760"/><stop offset="0.96" stop-color="#e0bd94"/><stop offset="1" stop-color="#eacfb0"/></radialGradient><radialGradient id="bglin" cx="0.5" cy="0.5" r="0.5"><stop offset="0" stop-color="#fcf5e8"/><stop offset="0.55" stop-color="#f4e2c2"/><stop offset="0.8" stop-color="#ecd0a2"/><stop offset="0.9" stop-color="#e2b884" stop-opacity="0.85"/><stop offset="1" stop-color="#d8a468" stop-opacity="0"/></radialGradient><filter id="bgblur" x="-30%" y="-30%" width="160%" height="160%"><feGaussianBlur stdDeviation="3"/></filter><g id="bagel"><circle cx="0" cy="0" r="50" fill="url(#bgl)"/><ellipse cx="-4" cy="-27" rx="27" ry="8" fill="#a8581f" opacity="0.35" filter="url(#bgblur)"/><ellipse cx="20" cy="28" rx="20" ry="10" fill="#a8581f" opacity="0.22" filter="url(#bgblur)"/><ellipse cx="-30" cy="12" rx="7" ry="15" fill="#a8581f" opacity="0.25" filter="url(#bgblur)"/><ellipse cx="0.5" cy="1" rx="27" ry="18.5" fill="url(#bglin)"/><path d="M-17.5 -0.5Q-14 -6 -11 -6.5L16 -5.5L8.5 6Q-2 5 -11 1.5Z" fill="#fbfbfa" stroke="#e6dccf" stroke-width="0.8"/></g><filter id="boxsh" x="-5%" y="-5%" width="110%" height="110%"><feGaussianBlur stdDeviation="1.5"/></filter><filter id="desat"><feColorMatrix type="saturate" values="0.25"/></filter></defs><rect x="0" y="0" width="1903" height="1481" fill="#d9d9d9"/><rect x="93" y="780" width="805" height="649" fill="none" stroke="#000" stroke-opacity="0.1" stroke-width="2" filter="url(#boxsh)"/><rect x="994" y="780" width="806" height="649" fill="none" stroke="#000" stroke-opacity="0.1" stroke-width="2" filter="url(#boxsh)"/><rect x="93" y="780" width="805" height="649" fill="#ffffff"/><rect x="994" y="780" width="806" height="649" fill="#ffffff"/><use href="#brain" transform="translate(0 0)"/><use href="#hippo" transform="translate(0 0)"/><use href="#brain" transform="translate(571.5 4.7)"/><use href="#hippo" transform="translate(571.7 4.6)"/><use href="#brain" transform="translate(1122.5 0)"/><use href="#hippo" transform="translate(1122.5 1)"/><use href="#brain" transform="translate(75.2 909.6)"/><use href="#hippo" transform="translate(69.7 907.4)"/><use href="#brain" transform="translate(1062.5 885.6)"/><use href="#hippo" transform="translate(1042.4 881.5)"/><use href="#kitchen" transform="translate(484 41)"/><circle cx="444.5" cy="187" r="22.5" fill="#a6a6a6" stroke="#595959" stroke-width="2"/><path d="M413.8 216.9C410.9 218.9 401.7 224.1 396.3 228.8C390.9 233.5 385.9 239.2 381.3 245C376.7 250.8 372.4 258 368.8 263.8C365.2 269.6 362.1 275.3 360 280C357.9 284.7 356.7 290 356 292" fill="none" stroke="#000" stroke-width="5.6"/><path d="M341.9 290.6 L368.1 291.9 L353.1 318.1Z" fill="#000"/><g stroke="#000" stroke-width="1.6" stroke-linejoin="round"><path d="M956 300.6C956 280 953 265 945 257C938 250 930 248.9 921 248.9C925 251 931 256 934 262C939 272 942.5 285 942.8 300.6Z" fill="#8c8c8c"/><path d="M921 248.9C912 248.9 903 253 897 261C890 270 886 280 885 287.4L878.5 287.4L891.2 301.2L905.5 288L898.6 288C899.5 279 902 270 906 264C910 257 915 252 921 248.9Z" fill="#a6a6a6"/><path d="M899.2 337.9C899.2 358 903 372 911 381C918 388 926 389.5 935.9 389.5C930 387 925 383 921 377C916 369 912 355 911.8 337.9Z" fill="#8c8c8c"/><path d="M935.9 389.5C946 389.5 955 384 962 375C968 367 971 358 972.7 351.1L981.8 351.1L969.2 337.3L954.3 351.1L958.9 351.1C957 360 954 368 950 375C946 382 941 386 935.9 389.5Z" fill="#a6a6a6"/></g><circle cx="1560.5" cy="188.9" r="22.9" fill="#a6a6a6" stroke="#595959" stroke-width="2"/><circle cx="1615.7" cy="303.9" r="22.9" fill="#a6a6a6" stroke="#595959" stroke-width="2"/><path d="M1460.7 303.2C1465.9 299.8 1482.9 289.6 1491.9 282.6C1500.9 275.6 1508.2 268.1 1514.8 261.2C1521.4 254.3 1528.7 244.7 1531.5 241.4" fill="none" stroke="#000" stroke-width="6"/><path d="M1520.1 238.4 L1539.2 216.3 L1546 244.5Z" fill="#000"/><path d="M1464.5 326.8C1465.4 328.7 1467.4 334.9 1470 338C1472.6 341.1 1473.8 343.3 1480 345.5C1486.2 347.7 1497.6 350.8 1507.2 351.2C1516.8 351.6 1527.5 350 1537.6 348.1C1547.7 346.2 1562.9 341.4 1568 340" fill="none" stroke="#000" stroke-width="6"/><path d="M1563.5 327.5 L1592.5 324.5 L1578 348.9Z" fill="#000"/><circle cx="1564.8" cy="265.4" r="5.8" fill="#ffffff" stroke="#6b6b6b" stroke-width="1.6"/><circle cx="1586.4" cy="249.8" r="11.9" fill="#ffffff" stroke="#6b6b6b" stroke-width="1.8"/><circle cx="1618.4" cy="227.7" r="17.8" fill="#ffffff" stroke="#6b6b6b" stroke-width="2"/><g fill="#6b6b6b"><circle cx="1783.2" cy="46.4" r="30.7"/><circle cx="1739.9" cy="51.6" r="22"/><circle cx="1700.9" cy="75.9" r="27.2"/><circle cx="1662.7" cy="114" r="36.7"/><circle cx="1645.4" cy="171.3" r="27.2"/><circle cx="1667.9" cy="211.1" r="27.2"/><circle cx="1709.5" cy="218.1" r="35"/><circle cx="1770.2" cy="205.9" r="37.6"/><circle cx="1820.5" cy="171.3" r="28.9"/><circle cx="1834.4" cy="114" r="31.5"/><circle cx="1817" cy="67.2" r="29.8"/></g><g fill="#ffffff"><circle cx="1783.2" cy="46.4" r="28.3"/><circle cx="1739.9" cy="51.6" r="19.6"/><circle cx="1700.9" cy="75.9" r="24.8"/><circle cx="1662.7" cy="114" r="34.3"/><circle cx="1645.4" cy="171.3" r="24.8"/><circle cx="1667.9" cy="211.1" r="24.8"/><circle cx="1709.5" cy="218.1" r="32.6"/><circle cx="1770.2" cy="205.9" r="35.2"/><circle cx="1820.5" cy="171.3" r="26.5"/><circle cx="1834.4" cy="114" r="29.1"/><circle cx="1817" cy="67.2" r="27.4"/><ellipse cx="1745" cy="135" rx="95" ry="85"/></g><svg x="1640" y="20" width="230" height="230" overflow="hidden"><use href="#kitchen" transform="translate(31 33)"/></svg><use href="#bagel" transform="translate(1698.3 176.5) scale(1.0 0.97)"/><path d="M76 512.4H1752" stroke="#000" stroke-width="5"/><path d="M1751 498.8L1778.3 512.4L1751 526Z" fill="#000"/><g font-family="Liberation Sans, sans-serif" fill="#000" style="font-kerning:none"><text x="109.4" y="487.6" font-size="43" font-weight="bold" textLength="175.2" lengthAdjust="spacingAndGlyphs" stroke="#d9d9d9" stroke-width="0.6">0-500 ms</text><text x="678.8" y="482.1" font-size="43" font-weight="bold" textLength="160.8" lengthAdjust="spacingAndGlyphs" stroke="#d9d9d9" stroke-width="0.6">~500 ms</text><text x="1235.3" y="478.4" font-size="43" font-weight="bold" textLength="244.1" lengthAdjust="spacingAndGlyphs" stroke="#d9d9d9" stroke-width="0.6">500-1500 ms</text><text x="79.5" y="597.8" font-size="41.5" textLength="455.1" lengthAdjust="spacingAndGlyphs" stroke="#d9d9d9" stroke-width="0.5">A sensory cue enters the</text><text x="77.1" y="653" font-size="41.5" textLength="436.2" lengthAdjust="spacingAndGlyphs" stroke="#d9d9d9" stroke-width="0.5">hippocampus in a feed-</text><text x="79.4" y="707.5" font-size="41.5" textLength="301" lengthAdjust="spacingAndGlyphs" stroke="#d9d9d9" stroke-width="0.5">forward manner</text><text x="658.6" y="598.3" font-size="41.5" textLength="343.5" lengthAdjust="spacingAndGlyphs" stroke="#d9d9d9" stroke-width="0.5">Intra-hippocampal</text><text x="659.2" y="653" font-size="41.5" textLength="462.3" lengthAdjust="spacingAndGlyphs" stroke="#d9d9d9" stroke-width="0.5">pattern completion, cue-</text><text x="661.4" y="707" font-size="41.5" textLength="376" lengthAdjust="spacingAndGlyphs" stroke="#d9d9d9" stroke-width="0.5">to-target conversion</text><text x="1227.4" y="597.7" font-size="41.5" textLength="428.1" lengthAdjust="spacingAndGlyphs" stroke="#d9d9d9" stroke-width="0.5">Cortical reinstatement,</text><text x="1226.8" y="652.3" font-size="41.5" textLength="408.6" lengthAdjust="spacingAndGlyphs" stroke="#d9d9d9" stroke-width="0.5">back-projections from</text><text x="1227.1" y="707.5" font-size="41.5" textLength="497.4" lengthAdjust="spacingAndGlyphs" stroke="#d9d9d9" stroke-width="0.5">hippocampus to neocortex</text><text x="312.2" y="844" font-size="40" font-weight="bold" textLength="357.3" lengthAdjust="spacingAndGlyphs" stroke="#ffffff" stroke-width="0.6">Encoding scenario:</text><text x="221.6" y="906.9" font-size="40" textLength="547.6" lengthAdjust="spacingAndGlyphs" stroke="#ffffff" stroke-width="0.7">Bagel breakfast in the kitchen</text><text x="1155.1" y="843" font-size="40" font-weight="bold" textLength="485.7" lengthAdjust="spacingAndGlyphs" stroke="#ffffff" stroke-width="0.6">Reinstatement dynamics:</text><text x="1026.6" y="907" font-size="40" textLength="741" lengthAdjust="spacingAndGlyphs" stroke="#ffffff" stroke-width="0.7">Reverse reconstruction &amp; theta clocking</text><text x="1053.2" y="1344.8" font-size="25.7" font-weight="bold" textLength="151.7" lengthAdjust="spacingAndGlyphs" stroke="#ffffff" stroke-width="0.6">Hippocampal</text><text x="1035.7" y="1377.9" font-size="25.7" font-weight="bold" textLength="186.1" lengthAdjust="spacingAndGlyphs" stroke="#ffffff" stroke-width="0.6">theta oscillation</text></g><use href="#kitchen" transform="translate(654 955)"/><use href="#bagel" transform="translate(752.6 1170.2) scale(0.96)"/><circle cx="505.5" cy="1079.2" r="22.8" fill="#808080" stroke="#595959" stroke-width="2"/><circle cx="585" cy="1187.1" r="23.3" fill="#808080" stroke="#595959" stroke-width="2"/><path d="M617 993.2C612.6 995.1 599.1 1000 590.6 1004.6C582.1 1009.2 570.1 1017.9 566 1020.6" fill="none" stroke="#000" stroke-width="6"/><path d="M559.9 1009.8 L580.1 1029.1 L552 1038.8Z" fill="#000"/><path d="M473 1096.7C469.2 1100.7 457.2 1112.1 450.2 1120.4C443.2 1128.8 436.3 1138 430.9 1146.8C425.4 1155.6 419.7 1168.7 417.5 1173.1" fill="none" stroke="#000" stroke-width="6"/><path d="M401.1 1170.4 L427.4 1172.2 L412.5 1197.7Z" fill="#000"/><path d="M688.9 1202.9C684.2 1203.5 669.1 1206.2 660.9 1206.4C652.7 1206.6 643.3 1204.2 639.8 1203.8" fill="none" stroke="#000" stroke-width="6"/><path d="M615.2 1195 L645.1 1192.4 L636.3 1216.1Z" fill="#000"/><path d="M554.6 1208.3C551.6 1211.7 543.5 1223 536.5 1228.8C529.5 1234.6 520.7 1239.6 512.8 1243C504.9 1246.4 493.1 1248.2 489.2 1249.3" fill="none" stroke="#000" stroke-width="6"/><path d="M464 1242.2 L491.6 1235.9 L486 1261.1Z" fill="#000"/><g opacity="0.35" filter="url(#desat)"><use href="#bagel" transform="translate(1404.4 1142.1) scale(0.62 0.58)"/></g><use href="#bagel" transform="translate(1495.5 1117.5) scale(0.62 0.6)" opacity="0.75"/><use href="#bagel" transform="translate(1586.8 1077.8) scale(0.62 0.6)"/><circle cx="1405" cy="1223.8" r="22.7" fill="#d9d9d9" stroke="#595959" stroke-width="2"/><circle cx="1496.5" cy="1198.8" r="23" fill="#a6a6a6" stroke="#595959" stroke-width="2"/><circle cx="1584.4" cy="1162.5" r="23" fill="#808080" stroke="#595959" stroke-width="2"/><path d="M1314.6 1234.7C1316.8 1237.5 1322.4 1247.4 1327.8 1251.8C1333.2 1256.2 1339.8 1259.6 1346.7 1261.2C1353.6 1262.8 1365.6 1261.2 1369.4 1261.2" fill="none" stroke="#000" stroke-width="6"/><path d="M1360 1248.9 L1389.3 1247 L1374.1 1270.7Z" fill="#000"/><path d="M1418.6 1255.5C1420.8 1256.8 1426.4 1261.7 1431.8 1263.1C1437.2 1264.5 1444.4 1265.6 1450.7 1264C1457 1262.4 1466.4 1255.3 1469.6 1253.6" fill="none" stroke="#000" stroke-width="6"/><path d="M1460.2 1247 L1484.7 1231.9 L1482.9 1260.3Z" fill="#000"/><path d="M1512.2 1232.9C1514.5 1233.2 1520.8 1235.3 1526.3 1234.7C1531.8 1234.1 1539.8 1232.2 1545.2 1229.1C1550.6 1225.9 1556.3 1218 1558.5 1215.8" fill="none" stroke="#000" stroke-width="6"/><path d="M1547.1 1212 L1569.8 1194.1 L1571.7 1223.4Z" fill="#000"/><g stroke="#000" stroke-width="2.6" stroke-dasharray="10.2 3.5"><path d="M1407.3 1260.2V1311.6"/><path d="M1496.4 1244.6V1310"/><path d="M1586.4 1221.5V1312.5"/></g><path d="M1241.6 1351.2 L1243.6 1348.6 L1245.6 1345.9 L1247.6 1343.2 L1249.6 1340.5 L1251.6 1337.9 L1253.6 1335.5 L1255.6 1333.2 L1257.6 1331.2 L1259.6 1329.5 L1261.6 1328.1 L1263.6 1327 L1265.6 1326.2 L1267.6 1325.8 L1269.6 1325.8 L1271.6 1326.2 L1273.6 1327 L1275.6 1328.1 L1277.6 1329.5 L1279.6 1331.2 L1281.6 1333.2 L1283.6 1335.5 L1285.6 1337.9 L1287.6 1340.5 L1289.6 1343.2 L1291.6 1345.9 L1293.6 1348.6 L1295.6 1351.2 L1297.6 1353.8 L1299.6 1356.1 L1301.6 1358.3 L1303.6 1360.2 L1305.6 1361.8 L1307.6 1363.2 L1309.6 1364.1 L1311.6 1364.8 L1313.6 1365 L1315.6 1364.9 L1317.6 1364.4 L1319.6 1363.5 L1321.6 1362.3 L1323.6 1360.7 L1325.6 1358.9 L1327.6 1356.8 L1329.6 1354.5 L1331.6 1352 L1333.6 1349.4 L1335.6 1346.7 L1337.6 1344 L1339.6 1341.3 L1341.6 1338.7 L1343.6 1336.2 L1345.6 1333.9 L1347.6 1331.8 L1349.6 1330 L1351.6 1328.5 L1353.6 1327.3 L1355.6 1326.4 L1357.6 1325.9 L1359.6 1325.8 L1361.6 1326.1 L1363.6 1326.7 L1365.6 1327.7 L1367.6 1329 L1369.6 1330.7 L1371.6 1332.6 L1373.6 1334.8 L1375.6 1337.2 L1377.6 1339.7 L1379.6 1342.4 L1381.6 1345.1 L1383.6 1347.8 L1385.6 1350.4 L1387.6 1353 L1389.6 1355.4 L1391.6 1357.7 L1393.6 1359.7 L1395.6 1361.4 L1397.6 1362.8 L1399.6 1363.9 L1401.6 1364.6 L1403.6 1365 L1405.6 1364.9 L1407.6 1364.5 L1409.6 1363.8 L1411.6 1362.7 L1413.6 1361.2 L1415.6 1359.5 L1417.6 1357.5 L1419.6 1355.2 L1421.6 1352.8 L1423.6 1350.2 L1425.6 1347.5 L1427.6 1344.8 L1429.6 1342.1 L1431.6 1339.4 L1433.6 1336.9 L1435.6 1334.6 L1437.6 1332.4 L1439.6 1330.5 L1441.6 1328.9 L1443.6 1327.6 L1445.6 1326.6 L1447.6 1326 L1449.6 1325.8 L1451.6 1326 L1453.6 1326.5 L1455.6 1327.4 L1457.6 1328.6 L1459.6 1330.2 L1461.6 1332 L1463.6 1334.1 L1465.6 1336.4 L1467.6 1338.9 L1469.6 1341.6 L1471.6 1344.2 L1473.6 1347 L1475.6 1349.6 L1477.6 1352.3 L1479.6 1354.7 L1481.6 1357 L1483.6 1359.1 L1485.6 1360.9 L1487.6 1362.4 L1489.6 1363.6 L1491.6 1364.4 L1493.6 1364.9 L1495.6 1365 L1497.6 1364.7 L1499.6 1364.1 L1501.6 1363 L1503.6 1361.7 L1505.6 1360 L1507.6 1358.1 L1509.6 1355.9 L1511.6 1353.5 L1513.6 1351 L1515.6 1348.3 L1517.6 1345.6 L1519.6 1342.9 L1521.6 1340.2 L1523.6 1337.7 L1525.6 1335.2 L1527.6 1333 L1529.6 1331 L1531.6 1329.3 L1533.6 1327.9 L1535.6 1326.9 L1537.6 1326.2 L1539.6 1325.8 L1541.6 1325.9 L1543.6 1326.3 L1545.6 1327.1 L1547.6 1328.2 L1549.6 1329.7 L1551.6 1331.4 L1553.6 1333.5 L1555.6 1335.7 L1557.6 1338.2 L1559.6 1340.8 L1561.6 1343.4 L1563.6 1346.1 L1565.6 1348.8 L1567.6 1351.5 L1569.6 1354 L1571.6 1356.4 L1573.6 1358.5 L1575.6 1360.4 L1577.6 1362 L1579.6 1363.3 L1581.6 1364.2 L1583.6 1364.8 L1585.6 1365 L1587.6 1364.8 L1589.6 1364.3 L1591.6 1363.4 L1593.6 1362.1 L1595.6 1360.6 L1597.6 1358.7 L1599.6 1356.6 L1601.6 1354.2 L1603.6 1351.7 L1605.6 1349.1 L1607.6 1346.4 L1609.6 1343.7 L1611.6 1341 L1613.6 1338.4 L1615.6 1336 L1617.6 1333.7 L1619.6 1331.6 L1621.6 1329.8 L1623.6 1328.3 L1625.6 1327.2 L1627.6 1326.3 L1629.6 1325.9 L1631.6 1325.8 L1633.6 1326.1 L1635.6 1326.8 L1637.6 1327.8 L1639.6 1329.2 L1641.6 1330.9 L1643.6 1332.8 L1645.6 1335 L1647.6 1337.4 L1649.6 1340 L1651.6 1342.6 L1653.6 1345.3 L1655.6 1348 L1657.6 1350.7 L1659.6 1353.3 L1661.6 1355.7 L1663.6 1357.9 L1665.6 1359.8 L1667.6 1361.5 L1669.6 1362.9 L1671.6 1364 L1673.6 1364.7 L1675.6 1365 L1677.6 1364.9 L1679.6 1364.5 L1681.6 1363.7 L1683.6 1362.5 L1685.6 1361.1 L1687.6 1359.3 L1689.6 1357.2 L1691.6 1355 L1693.6 1352.5 L1695.6 1349.9 L1697.6 1347.2 L1699.6 1344.5 L1701.6 1341.8 L1703.6 1339.2 L1705.6 1336.7" fill="none" stroke="#000" stroke-width="2.8"/><circle cx="1405" cy="1365.4" r="26.7" fill="#d8d8d8" fill-opacity="0.63"/><path d="M1393.5 1359.4C1393.6 1358.6 1393.9 1350.9 1394.4 1352.9C1394.9 1354.9 1397.3 1377.7 1398.1 1376.5C1398.9 1375.3 1400.5 1340.7 1401.2 1342.3C1401.9 1343.9 1403.2 1390.6 1403.8 1390.5C1404.4 1390.4 1405.9 1343.6 1406.6 1341.8C1407.3 1340 1408.8 1373.6 1409.5 1374.9C1410.2 1376.2 1412.1 1354.6 1412.8 1353.2C1413.5 1351.8 1414.9 1362.9 1415.4 1363.1C1415.9 1363.3 1417 1355.7 1417.3 1355C1417.6 1354.3 1417.6 1357.1 1417.6 1357.4" fill="none" stroke="#000" stroke-width="1.7" stroke-linejoin="round"/><circle cx="1495.2" cy="1365.4" r="26.7" fill="#d8d8d8" fill-opacity="0.63"/><path d="M1483.7 1359.4C1483.8 1358.6 1484.1 1350.9 1484.6 1352.9C1485.1 1354.9 1487.5 1377.7 1488.3 1376.5C1489.1 1375.3 1490.7 1340.7 1491.4 1342.3C1492.1 1343.9 1493.4 1390.6 1494 1390.5C1494.6 1390.4 1496.1 1343.6 1496.8 1341.8C1497.5 1340 1499 1373.6 1499.7 1374.9C1500.4 1376.2 1502.3 1354.6 1503 1353.2C1503.7 1351.8 1505.1 1362.9 1505.6 1363.1C1506.1 1363.3 1507.2 1355.7 1507.5 1355C1507.8 1354.3 1507.8 1357.1 1507.8 1357.4" fill="none" stroke="#000" stroke-width="1.7" stroke-linejoin="round"/><circle cx="1586.6" cy="1365.4" r="26.7" fill="#d8d8d8" fill-opacity="0.63"/><path d="M1575.1 1359.4C1575.2 1358.6 1575.5 1350.9 1576 1352.9C1576.5 1354.9 1578.9 1377.7 1579.7 1376.5C1580.5 1375.3 1582.1 1340.7 1582.8 1342.3C1583.5 1343.9 1584.8 1390.6 1585.4 1390.5C1586 1390.4 1587.5 1343.6 1588.2 1341.8C1588.9 1340 1590.4 1373.6 1591.1 1374.9C1591.8 1376.2 1593.7 1354.6 1594.4 1353.2C1595.1 1351.8 1596.5 1362.9 1597 1363.1C1597.5 1363.3 1598.6 1355.7 1598.9 1355C1599.2 1354.3 1599.2 1357.1 1599.2 1357.4" fill="none" stroke="#000" stroke-width="1.7" stroke-linejoin="round"/></svg></body></html>
